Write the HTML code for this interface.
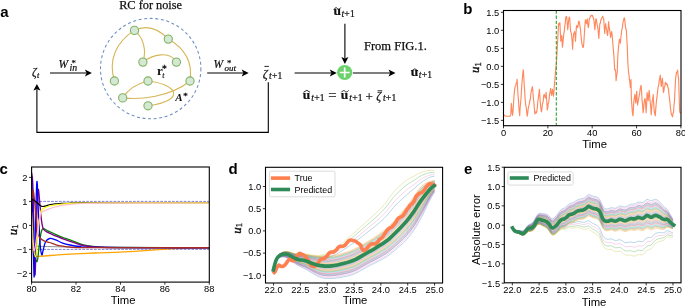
<!DOCTYPE html>
<html><head><meta charset="utf-8"><title>Figure</title>
<style>html,body{margin:0;padding:0;background:#fff;width:685px;height:306px;overflow:hidden}svg{display:block;will-change:transform}</style>
</head><body>
<svg width="685" height="306" viewBox="0 0 685 306"><text x="0.20" y="16.80" font-family='"Liberation Sans", sans-serif' font-size="15" text-anchor="start" font-weight="bold" font-style="normal" fill="#000" >a</text>
<text x="150.60" y="9.05" font-family='"Liberation Serif", serif' font-size="12.3" text-anchor="middle" font-weight="normal" font-style="normal" fill="#111" stroke="#111" stroke-width="0.25">RC for noise</text>
<circle cx="150.7" cy="68.6" r="50.2" fill="none" stroke="#6c8ebf" stroke-width="1.05" stroke-dasharray="3,2.6"/>
<path d="M134.5,30.4 C116,42 108,60 114.4,81" fill="none" stroke="#d6b656" stroke-width="1.1"/>
<path d="M134.5,30.4 C143,37 147,50 142.9,62.1" fill="none" stroke="#d6b656" stroke-width="1.1"/>
<path d="M134.5,30.4 Q152,22 168.3,39.1" fill="none" stroke="#d6b656" stroke-width="1.1"/>
<path d="M168.3,39.1 C184,48 193,62 190,81" fill="none" stroke="#d6b656" stroke-width="1.1"/>
<path d="M142.9,62.1 C152,55 170,50 176.4,62.1" fill="none" stroke="#d6b656" stroke-width="1.1"/>
<path d="M122.7,97.9 Q131,85 148,81" fill="none" stroke="#d6b656" stroke-width="1.1"/>
<path d="M122.7,97.9 C140,100 170,97 190,81" fill="none" stroke="#d6b656" stroke-width="1.1"/>
<path d="M148,81 C176,84 188,100 148,105.8" fill="none" stroke="#d6b656" stroke-width="1.1"/>
<circle cx="134.5" cy="30.4" r="4.1" fill="#d5e8d4" stroke="#82b366" stroke-width="1.1"/>
<circle cx="142.9" cy="62.1" r="4.1" fill="#d5e8d4" stroke="#82b366" stroke-width="1.1"/>
<circle cx="168.3" cy="39.1" r="4.1" fill="#d5e8d4" stroke="#82b366" stroke-width="1.1"/>
<circle cx="176.4" cy="62.1" r="4.1" fill="#d5e8d4" stroke="#82b366" stroke-width="1.1"/>
<circle cx="114.4" cy="81" r="4.1" fill="#d5e8d4" stroke="#82b366" stroke-width="1.1"/>
<circle cx="122.7" cy="97.9" r="4.1" fill="#d5e8d4" stroke="#82b366" stroke-width="1.1"/>
<circle cx="148" cy="81" r="4.1" fill="#d5e8d4" stroke="#82b366" stroke-width="1.1"/>
<circle cx="148" cy="105.8" r="4.1" fill="#d5e8d4" stroke="#82b366" stroke-width="1.1"/>
<circle cx="190" cy="81" r="4.1" fill="#d5e8d4" stroke="#82b366" stroke-width="1.1"/>
<text x="157.1" y="74.6" font-family='"Liberation Serif", serif' font-size="13" font-weight="bold" fill="#111">r</text>
<text x="162.1" y="72.3" font-family='"Liberation Serif", serif' font-size="9.5" fill="#111" stroke="#111" stroke-width="0.3">*</text>
<text x="162.2" y="77.6" font-family='"Liberation Serif", serif' font-size="8" font-style="italic" fill="#111" stroke="#111" stroke-width="0.15">t</text>
<text x="175.3" y="100.5" font-family='"Liberation Serif", serif' font-size="11" font-weight="bold" font-style="italic" fill="#111">A</text>
<text x="183.3" y="99.2" font-family='"Liberation Serif", serif' font-size="9" fill="#111" stroke="#111" stroke-width="0.3">*</text>
<text x="31.9" y="76.2" font-family='"Liberation Serif", serif' font-size="11.6" font-style="italic" font-weight="normal" fill="#111" stroke="#111" stroke-width="0.22" >ζ</text>
<text x="37.0" y="78.2" font-family='"Liberation Serif", serif' font-size="8.2" font-style="italic" font-weight="normal" fill="#111" stroke="#111" stroke-width="0.22" >t</text>
<text x="58.6" y="67.8" font-family='"Liberation Serif", serif' font-size="11.5" font-style="italic" font-weight="normal" fill="#111" stroke="#111" stroke-width="0.22" >W</text>
<text x="71.6" y="66.2" font-family='"Liberation Serif", serif' font-size="8.8" font-style="normal" font-weight="normal" fill="#111" stroke="#111" stroke-width="0.22" >*</text>
<text x="69.6" y="70.9" font-family='"Liberation Serif", serif' font-size="9.8" font-style="italic" font-weight="normal" fill="#111" stroke="#111" stroke-width="0.22" >in</text>
<line x1="50" y1="73.0" x2="86.4" y2="73.0" stroke="#000" stroke-width="1.1"/>
<path d="M91.9,73.0 L84.9,69.45 L86.5,73.0 L84.9,76.55 Z" fill="#000"/>
<text x="213.6" y="67.8" font-family='"Liberation Serif", serif' font-size="11.5" font-style="italic" font-weight="normal" fill="#111" stroke="#111" stroke-width="0.22" >W</text>
<text x="226.9" y="66.4" font-family='"Liberation Serif", serif' font-size="8.8" font-style="normal" font-weight="normal" fill="#111" stroke="#111" stroke-width="0.22" >*</text>
<text x="224.6" y="70.9" font-family='"Liberation Serif", serif' font-size="9.0" font-style="italic" font-weight="normal" fill="#111" stroke="#111" stroke-width="0.22" >out</text>
<line x1="207.2" y1="73.0" x2="243.2" y2="73.0" stroke="#000" stroke-width="1.1"/>
<path d="M248.7,73.0 L241.7,69.45 L243.29999999999998,73.0 L241.7,76.55 Z" fill="#000"/>
<text x="262.8" y="77.6" font-family='"Liberation Serif", serif' font-size="12.2" font-style="italic" font-weight="normal" fill="#111" stroke="#111" stroke-width="0.22" >ζ</text>
<line x1="264.4" y1="66.4" x2="268.9" y2="66.4" stroke="#111" stroke-width="0.9"/>
<text x="269.0" y="78.9" font-family='"Liberation Serif", serif' font-size="9.6" fill="#111" stroke="#111" stroke-width="0.22"><tspan font-style="italic">t</tspan><tspan dx="0.3">+</tspan><tspan dx="0.2">1</tspan></text>
<line x1="294.6" y1="73.0" x2="331.3" y2="73.0" stroke="#000" stroke-width="1.1"/>
<path d="M336.8,73.0 L329.8,69.45 L331.40000000000003,73.0 L329.8,76.55 Z" fill="#000"/>
<text x="333.6" y="15.1" font-family='"Liberation Serif", serif' font-size="13.4" font-style="normal" font-weight="bold" fill="#111" stroke="#111" stroke-width="0.22" >u</text>
<path d="M334.0,9.4 C335.36,7.2 336.72,7.5 337.4,8.45 S339.44,9.700000000000001 340.8,7.5" fill="none" stroke="#111" stroke-width="0.9"/>
<text x="341.4" y="17.1" font-family='"Liberation Serif", serif' font-size="9.6" fill="#111" stroke="#111" stroke-width="0.22"><tspan font-style="italic">t</tspan><tspan dx="0.3">+</tspan><tspan dx="0.2">1</tspan></text>
<line x1="344.9" y1="23.7" x2="344.9" y2="58.4" stroke="#000" stroke-width="1.1"/>
<path d="M344.9,63.9 L341.34999999999997,56.9 L344.9,58.5 L348.45,56.9 Z" fill="#000"/>
<circle cx="344.7" cy="72.5" r="7.6" fill="#6cd26c"/>
<path d="M339.8,72.5 H349.6 M344.7,67.6 V77.4" stroke="#fff" stroke-width="1.7"/>
<line x1="352.9" y1="73.0" x2="390.0" y2="73.0" stroke="#000" stroke-width="1.1"/>
<path d="M395.5,73.0 L388.5,69.45 L390.1,73.0 L388.5,76.55 Z" fill="#000"/>
<text x="364.00" y="50.10" font-family='"Liberation Serif", serif' font-size="12.5" text-anchor="start" font-weight="normal" font-style="normal" fill="#111" stroke="#111" stroke-width="0.25">From FIG.1.</text>
<text x="410.8" y="76.3" font-family='"Liberation Serif", serif' font-size="13.4" font-style="normal" font-weight="bold" fill="#111" stroke="#111" stroke-width="0.22" >u</text>
<path d="M411.4,71.0 L414.79999999999995,68.8 L418.2,71.0" fill="none" stroke="#111" stroke-width="0.9" stroke-linejoin="miter"/>
<text x="418.7" y="78.3" font-family='"Liberation Serif", serif' font-size="9.6" fill="#111" stroke="#111" stroke-width="0.22"><tspan font-style="italic">t</tspan><tspan dx="0.3">+</tspan><tspan dx="0.2">1</tspan></text>
<text x="302.8" y="98.9" font-family='"Liberation Serif", serif' font-size="13.4" font-style="normal" font-weight="bold" fill="#111" stroke="#111" stroke-width="0.22" >u</text>
<path d="M303.5,92.3 L306.8,90.3 L310.1,92.3" fill="none" stroke="#111" stroke-width="0.9" stroke-linejoin="miter"/>
<text x="311.2" y="100.8" font-family='"Liberation Serif", serif' font-size="9.6" fill="#111" stroke="#111" stroke-width="0.22"><tspan font-style="italic">t</tspan><tspan dx="0.3">+</tspan><tspan dx="0.2">1</tspan></text>
<text x="328.2" y="100.4" font-family='"Liberation Serif", serif' font-size="14.8" font-style="normal" font-weight="normal" fill="#111" stroke="#111" stroke-width="0.22" >=</text>
<text x="340.8" y="98.9" font-family='"Liberation Serif", serif' font-size="13.4" font-style="normal" font-weight="bold" fill="#111" stroke="#111" stroke-width="0.22" >u</text>
<path d="M341.5,92.2 C342.92,90.10000000000001 344.34000000000003,90.4 345.05,91.30000000000001 S347.18,92.5 348.6,90.4" fill="none" stroke="#111" stroke-width="0.9"/>
<text x="349.2" y="100.8" font-family='"Liberation Serif", serif' font-size="9.6" fill="#111" stroke="#111" stroke-width="0.22"><tspan font-style="italic">t</tspan><tspan dx="0.3">+</tspan><tspan dx="0.2">1</tspan></text>
<text x="365.5" y="100.6" font-family='"Liberation Serif", serif' font-size="13" font-style="normal" font-weight="normal" fill="#111" stroke="#111" stroke-width="0.22" >+</text>
<text x="376.2" y="99.8" font-family='"Liberation Serif", serif' font-size="12.2" font-style="italic" font-weight="normal" fill="#111" stroke="#111" stroke-width="0.22" >ζ</text>
<line x1="377.6" y1="90.8" x2="382.2" y2="90.8" stroke="#111" stroke-width="0.9"/>
<text x="382.9" y="101.0" font-family='"Liberation Serif", serif' font-size="9.6" fill="#111" stroke="#111" stroke-width="0.22"><tspan font-style="italic">t</tspan><tspan dx="0.3">+</tspan><tspan dx="0.2">1</tspan></text>
<path d="M268.3,82.2 V132.4 H36.9 V89.5" fill="none" stroke="#000" stroke-width="1.1"/>
<path d="M36.9,83.9 L33.4,90.6 L36.9,89.2 L40.4,90.6 Z" fill="#000"/>
<text x="463.20" y="14.20" font-family='"Liberation Sans", sans-serif' font-size="15" text-anchor="start" font-weight="bold" font-style="normal" fill="#000" >b</text>
<defs><clipPath id="cb"><rect x="503.5" y="10.5" width="177.5" height="115.2"/></clipPath></defs>
<g clip-path="url(#cb)">
<polyline points="503.50,114.50 504.00,114.92 504.50,115.35 505.00,115.78 505.50,116.20 506.00,116.20 506.50,116.20 507.00,116.20 507.50,116.20 508.00,116.20 508.50,116.20 509.00,116.20 509.50,116.20 510.00,116.20 510.40,115.30 510.80,114.40 511.30,103.40 511.75,107.78 512.20,112.70 512.60,115.30 513.05,110.73 513.50,103.80 514.05,95.35 514.60,89.60 515.05,86.80 515.50,86.00 515.90,84.81 516.30,82.70 516.70,82.56 517.10,79.20 517.55,87.38 518.00,95.00 518.57,101.53 519.13,110.51 519.70,115.70 520.10,108.22 520.50,104.00 521.00,98.29 521.50,90.00 522.00,82.74 522.50,77.00 522.90,72.17 523.30,69.90 523.75,75.92 524.20,84.70 524.70,91.66 525.20,100.00 525.70,105.19 526.20,106.95 526.70,112.44 527.20,116.20 527.63,113.63 528.07,109.61 528.50,107.00 529.00,105.17 529.50,103.00 529.90,99.93 530.30,100.00 530.73,94.88 531.17,91.87 531.60,89.40 532.00,88.60 532.40,86.50 532.95,92.59 533.50,99.20 533.97,103.43 534.43,109.31 534.90,113.90 535.40,113.01 535.90,111.73 536.40,112.78 536.90,111.00 537.33,107.78 537.77,102.21 538.20,99.20 538.80,94.57 539.40,89.40 539.80,95.29 540.20,101.00 540.80,107.85 541.40,112.00 541.83,109.83 542.27,105.24 542.70,103.00 543.17,101.83 543.63,95.83 544.10,94.30 544.70,95.96 545.30,98.20 545.70,96.23 546.10,92.40 546.70,99.95 547.30,110.00 547.73,107.63 548.17,103.67 548.60,103.00 549.10,99.26 549.60,94.30 550.10,92.30 550.60,88.40 551.10,92.11 551.60,95.30 552.05,93.70 552.50,89.40 553.00,92.18 553.50,96.30 554.00,90.60 554.50,83.50 555.00,77.99 555.50,71.80 556.00,67.19 556.50,62.00 556.90,54.44 557.30,47.20 557.90,36.67 558.50,23.70 558.97,24.97 559.43,22.94 559.90,22.70 560.35,32.59 560.80,41.30 561.30,36.82 561.80,35.50 562.40,47.20 562.87,43.36 563.33,38.60 563.80,33.50 564.30,31.33 564.80,25.60 565.25,22.86 565.70,17.80 566.20,16.52 566.70,16.80 567.20,22.79 567.70,29.60 568.20,25.31 568.70,19.80 569.20,17.08 569.70,17.80 570.15,24.51 570.60,31.50 571.10,32.30 571.60,35.50 572.10,40.97 572.60,49.20 573.10,39.76 573.60,33.50 574.10,33.47 574.60,31.50 575.05,35.07 575.50,41.30 576.00,32.54 576.50,25.60 577.00,26.21 577.50,27.60 578.00,25.99 578.50,21.70 579.00,21.19 579.50,23.70 580.00,26.47 580.50,29.60 580.95,34.68 581.40,39.40 581.90,43.73 582.40,45.30 582.90,47.40 583.40,47.20 583.90,41.66 584.40,33.50 584.90,25.85 585.40,19.80 585.85,21.45 586.30,23.70 586.80,20.74 587.30,18.80 587.80,24.58 588.30,27.60 588.80,24.85 589.30,18.80 590.00,17.80 590.50,16.04 591.00,15.63 591.50,15.34 592.00,15.80 592.45,15.34 592.90,16.80 593.40,18.25 593.90,19.80 594.40,25.02 594.90,29.60 595.40,23.35 595.90,18.80 596.40,19.46 596.90,23.70 597.35,25.36 597.80,27.60 598.30,32.53 598.80,38.40 599.30,31.29 599.80,23.70 600.30,23.38 600.80,19.80 601.30,19.49 601.80,17.80 602.25,17.06 602.70,16.20 603.20,17.92 603.70,18.80 604.20,26.78 604.70,33.50 605.20,26.99 605.70,23.70 606.20,28.09 606.70,29.60 607.15,33.56 607.60,35.50 608.10,29.95 608.60,21.70 609.10,26.72 609.60,29.60 610.10,33.11 610.60,37.40 611.10,34.09 611.60,31.50 612.05,34.02 612.50,39.40 613.00,45.73 613.50,51.10 614.10,58.87 614.70,69.80 615.20,69.34 615.70,72.00 616.10,80.60 616.70,75.25 617.30,72.00 617.60,60.00 618.05,52.38 618.50,47.20 618.95,42.72 619.40,39.40 619.90,39.74 620.40,43.30 620.90,36.60 621.40,33.50 621.90,29.29 622.40,27.60 622.85,23.22 623.30,21.70 623.80,19.26 624.30,17.80 624.80,19.99 625.30,25.60 625.80,28.95 626.30,29.60 626.80,38.81 627.30,47.20 627.80,62.00 628.50,72.00 628.95,74.53 629.40,79.60 629.90,82.66 630.40,87.50 631.00,79.60 631.40,99.20 631.90,105.55 632.40,113.00 633.00,115.90 633.70,103.00 634.30,98.16 634.90,94.30 635.30,97.29 635.70,103.00 636.20,98.46 636.70,91.40 637.15,99.98 637.60,105.00 638.10,101.88 638.60,99.00 639.10,96.44 639.60,94.00 640.10,89.64 640.60,86.83 641.10,85.40 641.60,92.13 642.10,100.00 642.60,105.50 643.10,112.70 643.60,108.83 644.10,102.60 644.60,99.33 645.10,98.50 645.60,103.88 646.10,112.70 646.60,104.22 647.10,92.50 647.65,96.65 648.20,100.60 648.70,94.23 649.20,90.40 649.70,96.66 650.20,102.60 650.70,107.00 651.20,114.80 651.70,107.80 652.20,100.60 652.70,99.27 653.20,94.50 653.70,103.91 654.20,110.70 654.75,113.96 655.30,115.80 655.80,108.34 656.30,102.60 656.80,98.07 657.30,94.50 657.80,89.25 658.30,86.40 658.80,84.33 659.30,80.30 659.80,77.87 660.30,75.20 660.80,81.80 661.30,86.40 661.85,81.74 662.40,78.30 662.90,84.40 663.40,92.50 663.90,90.57 664.40,86.40 664.90,86.10 665.40,82.30 665.90,84.07 666.40,83.30 666.90,84.90 667.40,84.30 667.90,87.50 668.40,88.40 668.95,94.31 669.50,98.50 670.00,102.62 670.50,108.70 671.00,111.81 671.50,114.80 672.00,115.28 672.50,116.80 673.00,113.05 673.50,112.70 674.00,104.95 674.50,100.60 675.00,89.66 675.50,80.30 676.05,75.38 676.60,72.20 677.10,71.84 677.60,70.10 678.10,75.84 678.60,78.30 679.10,94.31 679.60,110.70 680.05,112.92 680.50,112.00" fill="none" stroke="#ff7f50" stroke-opacity="0.92" stroke-width="1.15" stroke-linejoin="round"/>
<line x1="556.3" y1="10.5" x2="556.3" y2="125.7" stroke="#2ca02c" stroke-width="1.1" stroke-dasharray="3.3,1.8"/>
</g>
<line x1="500.90" y1="12.30" x2="503.50" y2="12.30" stroke="#000" stroke-width="0.8"/>
<text x="499.30" y="15.65" font-family='"Liberation Sans", sans-serif' font-size="9.3" text-anchor="end" font-weight="normal" font-style="normal" fill="#000" >1.5</text>
<line x1="500.90" y1="30.32" x2="503.50" y2="30.32" stroke="#000" stroke-width="0.8"/>
<text x="499.30" y="33.67" font-family='"Liberation Sans", sans-serif' font-size="9.3" text-anchor="end" font-weight="normal" font-style="normal" fill="#000" >1.0</text>
<line x1="500.90" y1="48.33" x2="503.50" y2="48.33" stroke="#000" stroke-width="0.8"/>
<text x="499.30" y="51.68" font-family='"Liberation Sans", sans-serif' font-size="9.3" text-anchor="end" font-weight="normal" font-style="normal" fill="#000" >0.5</text>
<line x1="500.90" y1="66.35" x2="503.50" y2="66.35" stroke="#000" stroke-width="0.8"/>
<text x="499.30" y="69.70" font-family='"Liberation Sans", sans-serif' font-size="9.3" text-anchor="end" font-weight="normal" font-style="normal" fill="#000" >0.0</text>
<line x1="500.90" y1="84.36" x2="503.50" y2="84.36" stroke="#000" stroke-width="0.8"/>
<text x="499.30" y="87.71" font-family='"Liberation Sans", sans-serif' font-size="9.3" text-anchor="end" font-weight="normal" font-style="normal" fill="#000" >−0.5</text>
<line x1="500.90" y1="102.38" x2="503.50" y2="102.38" stroke="#000" stroke-width="0.8"/>
<text x="499.30" y="105.73" font-family='"Liberation Sans", sans-serif' font-size="9.3" text-anchor="end" font-weight="normal" font-style="normal" fill="#000" >−1.0</text>
<line x1="500.90" y1="120.39" x2="503.50" y2="120.39" stroke="#000" stroke-width="0.8"/>
<text x="499.30" y="123.74" font-family='"Liberation Sans", sans-serif' font-size="9.3" text-anchor="end" font-weight="normal" font-style="normal" fill="#000" >−1.5</text>
<line x1="503.50" y1="125.70" x2="503.50" y2="128.30" stroke="#000" stroke-width="0.8"/>
<text x="503.50" y="135.70" font-family='"Liberation Sans", sans-serif' font-size="9.3" text-anchor="middle" font-weight="normal" font-style="normal" fill="#000" >0</text>
<line x1="547.85" y1="125.70" x2="547.85" y2="128.30" stroke="#000" stroke-width="0.8"/>
<text x="547.85" y="135.70" font-family='"Liberation Sans", sans-serif' font-size="9.3" text-anchor="middle" font-weight="normal" font-style="normal" fill="#000" >20</text>
<line x1="592.20" y1="125.70" x2="592.20" y2="128.30" stroke="#000" stroke-width="0.8"/>
<text x="592.20" y="135.70" font-family='"Liberation Sans", sans-serif' font-size="9.3" text-anchor="middle" font-weight="normal" font-style="normal" fill="#000" >40</text>
<line x1="636.55" y1="125.70" x2="636.55" y2="128.30" stroke="#000" stroke-width="0.8"/>
<text x="636.55" y="135.70" font-family='"Liberation Sans", sans-serif' font-size="9.3" text-anchor="middle" font-weight="normal" font-style="normal" fill="#000" >60</text>
<line x1="680.90" y1="125.70" x2="680.90" y2="128.30" stroke="#000" stroke-width="0.8"/>
<text x="680.90" y="135.70" font-family='"Liberation Sans", sans-serif' font-size="9.3" text-anchor="middle" font-weight="normal" font-style="normal" fill="#000" >80</text>
<rect x="503.50" y="10.50" width="177.50" height="115.20" fill="none" stroke="#000" stroke-width="1.1"/>
<text x="594.60" y="147.50" font-family='"Liberation Sans", sans-serif' font-size="11.3" text-anchor="middle" font-weight="normal" font-style="normal" fill="#000" >Time</text>
<g transform="translate(479.4,67.65) rotate(-90)"><text x="0" y="0" font-family='"Liberation Serif", serif' font-size="13" font-style="italic" text-anchor="middle" fill="#111" stroke="#111" stroke-width="0.35">u<tspan font-size="8.6" font-style="normal" dy="1.1">1</tspan></text></g>
<text x="-0.60" y="173.60" font-family='"Liberation Sans", sans-serif' font-size="15" text-anchor="start" font-weight="bold" font-style="normal" fill="#000" >c</text>
<defs><clipPath id="cc"><rect x="31.6" y="167.0" width="177.70000000000002" height="115.10000000000002"/></clipPath></defs>
<g clip-path="url(#cc)">
<line x1="31.6" y1="201.4" x2="209.3" y2="201.4" stroke="#6f6fd0" stroke-opacity="0.85" stroke-width="1" stroke-dasharray="2.7,1.2"/>
<line x1="31.6" y1="249.4" x2="209.3" y2="249.4" stroke="#6f6fd0" stroke-opacity="0.85" stroke-width="1" stroke-dasharray="2.7,1.2"/>
<path d="M31.60,246.30 C34.67,246.35 43.60,246.48 50.00,246.60 C56.40,246.72 58.33,246.85 70.00,247.00 C81.67,247.15 96.78,247.40 120.00,247.50 C143.22,247.60 194.42,247.58 209.30,247.60" fill="none" stroke="#808080" stroke-width="0.9" stroke-linejoin="round"/>
<path d="M31.60,192.00 C31.70,197.00 31.98,212.33 32.20,222.00 C32.42,231.67 32.63,244.20 32.90,250.00 C33.17,255.80 33.28,255.70 33.80,256.80 C34.32,257.90 33.30,256.82 36.00,256.60 C38.70,256.38 44.33,255.90 50.00,255.50 C55.67,255.10 62.50,254.62 70.00,254.20 C77.50,253.78 86.67,253.35 95.00,253.00 C103.33,252.65 111.67,252.50 120.00,252.10 C128.33,251.70 137.23,251.10 145.00,250.60 C152.77,250.10 159.93,249.47 166.60,249.10 C173.27,248.73 177.88,248.58 185.00,248.40 C192.12,248.22 205.25,248.07 209.30,248.00" fill="none" stroke="#ffa500" stroke-width="1.3" stroke-linejoin="round"/>
<path d="M31.60,228.00 C32.03,232.00 33.28,246.42 34.20,252.00 C35.12,257.58 36.25,262.67 37.10,261.50 C37.95,260.33 38.63,249.82 39.30,245.00 C39.97,240.18 40.47,235.32 41.10,232.60 C41.73,229.88 41.95,229.00 43.10,228.70 C44.25,228.40 45.83,229.82 48.00,230.80 C50.17,231.78 53.60,233.48 56.10,234.60 C58.60,235.72 60.68,236.63 63.00,237.50 C65.32,238.37 67.23,238.78 70.00,239.80 C72.77,240.82 76.93,242.67 79.60,243.60 C82.27,244.53 82.77,244.85 86.00,245.40 C89.23,245.95 93.33,246.55 99.00,246.90 C104.67,247.25 101.62,247.37 120.00,247.50 C138.38,247.63 194.42,247.67 209.30,247.70" fill="none" stroke="#008000" stroke-width="1.3" stroke-linejoin="round"/>
<path d="M31.60,172.80 C31.77,174.17 32.32,176.47 32.60,181.00 C32.88,185.53 33.05,189.33 33.30,200.00 C33.55,210.67 33.83,232.55 34.10,245.00 C34.37,257.45 34.63,272.53 34.90,274.70 C35.17,276.87 35.38,268.45 35.70,258.00 C36.02,247.55 36.38,223.37 36.80,212.00 C37.22,200.63 37.75,191.80 38.20,189.80 C38.65,187.80 38.98,195.13 39.50,200.00 C40.02,204.87 40.70,214.28 41.30,219.00 C41.90,223.72 42.37,226.27 43.10,228.30 C43.83,230.33 44.55,230.37 45.70,231.20 C46.85,232.03 48.27,232.47 50.00,233.30 C51.73,234.13 53.93,235.28 56.10,236.20 C58.27,237.12 60.68,237.95 63.00,238.80 C65.32,239.65 67.23,240.33 70.00,241.30 C72.77,242.27 76.92,243.82 79.60,244.60 C82.28,245.38 82.83,245.58 86.10,246.00 C89.37,246.42 93.55,246.83 99.20,247.10 C104.85,247.37 101.65,247.50 120.00,247.60 C138.35,247.70 194.42,247.68 209.30,247.70" fill="none" stroke="#800080" stroke-width="1.4" stroke-linejoin="round"/>
<path d="M31.60,176.00 C31.82,183.67 32.48,205.18 32.90,222.00 C33.32,238.82 33.70,275.23 34.10,276.90 C34.50,278.57 34.83,247.87 35.30,232.00 C35.77,216.13 36.38,185.03 36.90,181.70 C37.42,178.37 37.85,201.45 38.40,212.00 C38.95,222.55 39.63,237.87 40.20,245.00 C40.77,252.13 41.30,253.97 41.80,254.80 C42.30,255.63 42.58,252.13 43.20,250.00 C43.82,247.87 44.43,243.92 45.50,242.00 C46.57,240.08 48.02,238.90 49.60,238.50 C51.18,238.10 52.82,238.83 55.00,239.60 C57.18,240.37 60.20,242.20 62.70,243.10 C65.20,244.00 67.18,244.43 70.00,245.00 C72.82,245.57 75.43,246.10 79.60,246.50 C83.77,246.90 73.38,247.20 95.00,247.40 C116.62,247.60 190.25,247.65 209.30,247.70" fill="none" stroke="#0000ff" stroke-width="1.3" stroke-linejoin="round"/>
<path d="M31.60,204.00 C31.83,201.75 32.52,191.17 33.00,190.50 C33.48,189.83 34.02,195.92 34.50,200.00 C34.98,204.08 35.35,209.45 35.90,215.00 C36.45,220.55 37.03,229.38 37.80,233.30 C38.57,237.22 39.47,237.25 40.50,238.50 C41.53,239.75 42.48,240.13 44.00,240.80 C45.52,241.47 47.60,241.83 49.60,242.50 C51.60,243.17 53.82,244.18 56.00,244.80 C58.18,245.42 60.37,245.82 62.70,246.20 C65.03,246.58 65.45,246.87 70.00,247.10 C74.55,247.33 66.78,247.50 90.00,247.60 C113.22,247.70 189.42,247.68 209.30,247.70" fill="none" stroke="#a52a2a" stroke-width="1.3" stroke-linejoin="round"/>
<path d="M31.60,199.20 C32.00,199.38 33.10,199.70 34.00,200.30 C34.90,200.90 36.03,201.98 37.00,202.80 C37.97,203.62 39.00,204.60 39.80,205.20 C40.60,205.80 40.93,206.23 41.80,206.40 C42.67,206.57 43.55,206.52 45.00,206.20 C46.45,205.88 48.83,204.88 50.50,204.50 C52.17,204.12 53.42,204.07 55.00,203.90 C56.58,203.73 57.50,203.65 60.00,203.50 C62.50,203.35 65.83,203.12 70.00,203.00 C74.17,202.88 61.78,202.85 85.00,202.80 C108.22,202.75 188.58,202.72 209.30,202.70" fill="none" stroke="#000000" stroke-width="1.2" stroke-linejoin="round"/>
<path d="M31.60,212.00 C31.90,217.50 32.73,237.50 33.40,245.00 C34.07,252.50 35.00,257.00 35.60,257.00 C36.20,257.00 36.63,248.67 37.00,245.00 C37.37,241.33 37.47,238.83 37.80,235.00 C38.13,231.17 38.50,225.92 39.00,222.00 C39.50,218.08 40.30,213.58 40.80,211.50 C41.30,209.42 41.30,210.15 42.00,209.50 C42.70,208.85 43.58,208.22 45.00,207.60 C46.42,206.98 48.00,206.37 50.50,205.80 C53.00,205.23 56.75,204.58 60.00,204.20 C63.25,203.82 65.83,203.70 70.00,203.50 C74.17,203.30 61.78,203.12 85.00,203.00 C108.22,202.88 188.58,202.83 209.30,202.80" fill="none" stroke="#ffff00" stroke-width="1.15" stroke-linejoin="round"/>
<path d="M31.60,232.00 C31.87,234.33 32.70,243.00 33.20,246.00 C33.70,249.00 34.03,251.33 34.60,250.00 C35.17,248.67 35.90,242.67 36.60,238.00 C37.30,233.33 38.10,226.10 38.80,222.00 C39.50,217.90 39.77,215.30 40.80,213.40 C41.83,211.50 43.47,211.40 45.00,210.60 C46.53,209.80 48.35,209.20 50.00,208.60 C51.65,208.00 52.90,207.53 54.90,207.00 C56.90,206.47 59.52,205.83 62.00,205.40 C64.48,204.97 66.02,204.72 69.80,204.40 C73.58,204.08 78.00,203.72 84.70,203.50 C91.40,203.28 89.23,203.18 110.00,203.10 C130.77,203.02 192.75,203.02 209.30,203.00" fill="none" stroke="#ffc0cb" stroke-width="1.2" stroke-linejoin="round"/>
</g>
<line x1="29.00" y1="177.40" x2="31.60" y2="177.40" stroke="#000" stroke-width="0.8"/>
<text x="27.40" y="180.75" font-family='"Liberation Sans", sans-serif' font-size="9.3" text-anchor="end" font-weight="normal" font-style="normal" fill="#000" >2</text>
<line x1="29.00" y1="201.40" x2="31.60" y2="201.40" stroke="#000" stroke-width="0.8"/>
<text x="27.40" y="204.75" font-family='"Liberation Sans", sans-serif' font-size="9.3" text-anchor="end" font-weight="normal" font-style="normal" fill="#000" >1</text>
<line x1="29.00" y1="225.40" x2="31.60" y2="225.40" stroke="#000" stroke-width="0.8"/>
<text x="27.40" y="228.75" font-family='"Liberation Sans", sans-serif' font-size="9.3" text-anchor="end" font-weight="normal" font-style="normal" fill="#000" >0</text>
<line x1="29.00" y1="249.40" x2="31.60" y2="249.40" stroke="#000" stroke-width="0.8"/>
<text x="27.40" y="252.75" font-family='"Liberation Sans", sans-serif' font-size="9.3" text-anchor="end" font-weight="normal" font-style="normal" fill="#000" >−1</text>
<line x1="29.00" y1="273.40" x2="31.60" y2="273.40" stroke="#000" stroke-width="0.8"/>
<text x="27.40" y="276.75" font-family='"Liberation Sans", sans-serif' font-size="9.3" text-anchor="end" font-weight="normal" font-style="normal" fill="#000" >−2</text>
<line x1="31.60" y1="282.10" x2="31.60" y2="284.70" stroke="#000" stroke-width="0.8"/>
<text x="31.60" y="292.30" font-family='"Liberation Sans", sans-serif' font-size="9.3" text-anchor="middle" font-weight="normal" font-style="normal" fill="#000" >80</text>
<line x1="76.02" y1="282.10" x2="76.02" y2="284.70" stroke="#000" stroke-width="0.8"/>
<text x="76.02" y="292.30" font-family='"Liberation Sans", sans-serif' font-size="9.3" text-anchor="middle" font-weight="normal" font-style="normal" fill="#000" >82</text>
<line x1="120.44" y1="282.10" x2="120.44" y2="284.70" stroke="#000" stroke-width="0.8"/>
<text x="120.44" y="292.30" font-family='"Liberation Sans", sans-serif' font-size="9.3" text-anchor="middle" font-weight="normal" font-style="normal" fill="#000" >84</text>
<line x1="164.86" y1="282.10" x2="164.86" y2="284.70" stroke="#000" stroke-width="0.8"/>
<text x="164.86" y="292.30" font-family='"Liberation Sans", sans-serif' font-size="9.3" text-anchor="middle" font-weight="normal" font-style="normal" fill="#000" >86</text>
<line x1="209.28" y1="282.10" x2="209.28" y2="284.70" stroke="#000" stroke-width="0.8"/>
<text x="209.28" y="292.30" font-family='"Liberation Sans", sans-serif' font-size="9.3" text-anchor="middle" font-weight="normal" font-style="normal" fill="#000" >88</text>
<rect x="31.60" y="167.00" width="177.70" height="115.10" fill="none" stroke="#000" stroke-width="1.1"/>
<text x="123.20" y="303.60" font-family='"Liberation Sans", sans-serif' font-size="11.3" text-anchor="middle" font-weight="normal" font-style="normal" fill="#000" >Time</text>
<g transform="translate(16.8,229.85) rotate(-90)"><text x="0" y="0" font-family='"Liberation Serif", serif' font-size="13" font-style="italic" text-anchor="middle" fill="#111" stroke="#111" stroke-width="0.35">u<tspan font-size="8.6" font-style="normal" dy="1.1">1</tspan></text></g>
<text x="228.40" y="174.00" font-family='"Liberation Sans", sans-serif' font-size="15" text-anchor="start" font-weight="bold" font-style="normal" fill="#000" >d</text>
<defs><clipPath id="cd"><rect x="265.5" y="167.3" width="177.10000000000002" height="115.69999999999999"/></clipPath></defs>
<g clip-path="url(#cd)">
<path d="M273.55,268.37 C274.22,266.38 276.23,259.05 277.57,256.43 C278.92,253.82 280.26,253.53 281.60,252.70 C282.94,251.88 284.28,251.59 285.62,251.47 C286.97,251.34 288.31,251.65 289.65,251.95 C290.99,252.25 292.33,252.90 293.67,253.25 C295.02,253.60 296.36,253.89 297.70,254.03 C299.04,254.17 300.38,254.07 301.72,254.07 C303.07,254.07 304.41,253.90 305.75,254.01 C307.09,254.12 308.43,254.51 309.77,254.72 C311.12,254.92 312.46,255.11 313.80,255.24 C315.14,255.37 316.48,255.56 317.82,255.51 C319.17,255.47 320.51,255.28 321.85,254.98 C323.19,254.68 324.53,254.28 325.88,253.73 C327.22,253.18 328.56,252.40 329.90,251.66 C331.24,250.92 332.58,250.14 333.92,249.30 C335.27,248.45 336.61,247.59 337.95,246.61 C339.29,245.63 340.63,244.54 341.97,243.41 C343.32,242.29 344.66,241.05 346.00,239.86 C347.34,238.68 348.68,237.47 350.02,236.31 C351.37,235.15 352.71,234.05 354.05,232.89 C355.39,231.73 356.73,230.55 358.07,229.34 C359.42,228.13 360.76,226.89 362.10,225.66 C363.44,224.43 364.78,223.18 366.12,221.96 C367.47,220.75 368.81,219.54 370.15,218.35 C371.49,217.16 372.83,216.04 374.17,214.81 C375.52,213.59 376.86,212.32 378.20,210.98 C379.54,209.64 380.88,208.26 382.22,206.78 C383.57,205.30 384.91,203.82 386.25,202.11 C387.59,200.39 388.93,198.30 390.27,196.49 C391.62,194.68 392.96,192.84 394.30,191.26 C395.64,189.68 396.98,188.31 398.32,187.01 C399.67,185.70 401.01,184.53 402.35,183.42 C403.69,182.30 405.03,181.26 406.38,180.32 C407.72,179.39 409.06,178.52 410.40,177.79 C411.74,177.07 413.08,176.66 414.42,175.95 C415.77,175.25 417.11,174.24 418.45,173.56 C419.79,172.88 421.13,172.34 422.47,171.89 C423.82,171.43 425.16,171.08 426.50,170.82 C427.84,170.56 429.18,170.35 430.52,170.34 C431.87,170.32 433.88,170.67 434.55,170.73" fill="none" stroke="#bcbd22" stroke-opacity="0.3" stroke-width="1"/>
<path d="M273.55,268.46 C274.22,266.48 276.23,259.18 277.57,256.59 C278.92,254.01 280.26,253.75 281.60,252.95 C282.94,252.15 284.28,251.89 285.62,251.79 C286.97,251.70 288.31,252.04 289.65,252.37 C290.99,252.70 292.33,253.39 293.67,253.77 C295.02,254.15 296.36,254.48 297.70,254.65 C299.04,254.82 300.38,254.76 301.72,254.79 C303.07,254.83 304.41,254.70 305.75,254.84 C307.09,254.98 308.43,255.41 309.77,255.65 C311.12,255.89 312.46,256.11 313.80,256.27 C315.14,256.44 316.48,256.66 317.82,256.66 C319.17,256.66 320.51,256.51 321.85,256.27 C323.19,256.03 324.53,255.70 325.88,255.21 C327.22,254.73 328.56,254.04 329.90,253.38 C331.24,252.72 332.58,252.01 333.92,251.25 C335.27,250.49 336.61,249.70 337.95,248.81 C339.29,247.91 340.63,246.91 341.97,245.88 C343.32,244.85 344.66,243.71 346.00,242.63 C347.34,241.54 348.68,240.43 350.02,239.35 C351.37,238.27 352.71,237.26 354.05,236.17 C355.39,235.07 356.73,233.94 358.07,232.79 C359.42,231.64 360.76,230.45 362.10,229.28 C363.44,228.10 364.78,226.91 366.12,225.74 C367.47,224.58 368.81,223.43 370.15,222.29 C371.49,221.15 372.83,220.08 374.17,218.91 C375.52,217.73 376.86,216.51 378.20,215.23 C379.54,213.95 380.88,212.64 382.22,211.23 C383.57,209.82 384.91,208.42 386.25,206.79 C387.59,205.16 388.93,203.18 390.27,201.45 C391.62,199.71 392.96,197.93 394.30,196.38 C395.64,194.83 396.98,193.47 398.32,192.16 C399.67,190.85 401.01,189.65 402.35,188.50 C403.69,187.34 405.03,186.26 406.38,185.24 C407.72,184.23 409.06,183.26 410.40,182.41 C411.74,181.56 413.08,180.99 414.42,180.13 C415.77,179.27 417.11,178.09 418.45,177.26 C419.79,176.42 421.13,175.72 422.47,175.10 C423.82,174.48 425.16,173.97 426.50,173.54 C427.84,173.12 429.18,172.74 430.52,172.57 C431.87,172.40 433.88,172.53 434.55,172.52" fill="none" stroke="#2ca02c" stroke-opacity="0.3" stroke-width="1"/>
<path d="M273.55,268.55 C274.22,266.58 276.23,259.31 277.57,256.75 C278.92,254.19 280.26,253.96 281.60,253.19 C282.94,252.42 284.28,252.19 285.62,252.12 C286.97,252.06 288.31,252.43 289.65,252.79 C290.99,253.15 292.33,253.87 293.67,254.29 C295.02,254.70 296.36,255.07 297.70,255.27 C299.04,255.48 300.38,255.45 301.72,255.52 C303.07,255.59 304.41,255.49 305.75,255.67 C307.09,255.84 308.43,256.31 309.77,256.58 C311.12,256.85 312.46,257.11 313.80,257.31 C315.14,257.51 316.48,257.76 317.82,257.80 C319.17,257.84 320.51,257.74 321.85,257.56 C323.19,257.37 324.53,257.11 325.88,256.70 C327.22,256.29 328.56,255.68 329.90,255.10 C331.24,254.51 332.58,253.88 333.92,253.20 C335.27,252.52 336.61,251.81 337.95,251.00 C339.29,250.19 340.63,249.28 341.97,248.34 C343.32,247.41 344.66,246.38 346.00,245.39 C347.34,244.40 348.68,243.39 350.02,242.39 C351.37,241.40 352.71,240.46 354.05,239.44 C355.39,238.41 356.73,237.34 358.07,236.24 C359.42,235.15 360.76,234.01 362.10,232.89 C363.44,231.77 364.78,230.63 366.12,229.52 C367.47,228.41 368.81,227.31 370.15,226.23 C371.49,225.14 372.83,224.13 374.17,223.00 C375.52,221.88 376.86,220.71 378.20,219.49 C379.54,218.27 380.88,217.01 382.22,215.68 C383.57,214.34 384.91,213.03 386.25,211.48 C387.59,209.93 388.93,208.06 390.27,206.40 C391.62,204.74 392.96,203.01 394.30,201.50 C395.64,199.98 396.98,198.63 398.32,197.31 C399.67,195.99 401.01,194.77 402.35,193.58 C403.69,192.39 405.03,191.25 406.38,190.16 C407.72,189.07 409.06,188.00 410.40,187.02 C411.74,186.05 413.08,185.31 414.42,184.30 C415.77,183.29 417.11,181.95 418.45,180.95 C419.79,179.95 421.13,179.09 422.47,178.31 C423.82,177.53 425.16,176.85 426.50,176.27 C427.84,175.68 429.18,175.13 430.52,174.81 C431.87,174.48 433.88,174.38 434.55,174.30" fill="none" stroke="#e377c2" stroke-opacity="0.3" stroke-width="1"/>
<path d="M273.55,268.64 C274.22,266.69 276.23,259.44 277.57,256.91 C278.92,254.37 280.26,254.17 281.60,253.43 C282.94,252.69 284.28,252.49 285.62,252.45 C286.97,252.41 288.31,252.82 289.65,253.21 C290.99,253.60 292.33,254.36 293.67,254.81 C295.02,255.25 296.36,255.65 297.70,255.89 C299.04,256.13 300.38,256.14 301.72,256.24 C303.07,256.34 304.41,256.28 305.75,256.50 C307.09,256.71 308.43,257.20 309.77,257.51 C311.12,257.82 312.46,258.11 313.80,258.35 C315.14,258.58 316.48,258.86 317.82,258.94 C319.17,259.03 320.51,258.97 321.85,258.85 C323.19,258.72 324.53,258.52 325.88,258.18 C327.22,257.84 328.56,257.32 329.90,256.81 C331.24,256.31 332.58,255.76 333.92,255.15 C335.27,254.55 336.61,253.93 337.95,253.20 C339.29,252.48 340.63,251.65 341.97,250.81 C343.32,249.97 344.66,249.05 346.00,248.15 C347.34,247.25 348.68,246.34 350.02,245.44 C351.37,244.53 352.71,243.67 354.05,242.71 C355.39,241.75 356.73,240.73 358.07,239.70 C359.42,238.66 360.76,237.58 362.10,236.51 C363.44,235.44 364.78,234.36 366.12,233.30 C367.47,232.24 368.81,231.20 370.15,230.16 C371.49,229.13 372.83,228.17 374.17,227.10 C375.52,226.03 376.86,224.90 378.20,223.74 C379.54,222.58 380.88,221.39 382.22,220.13 C383.57,218.86 384.91,217.63 386.25,216.17 C387.59,214.71 388.93,212.95 390.27,211.36 C391.62,209.76 392.96,208.10 394.30,206.62 C395.64,205.14 396.98,203.79 398.32,202.47 C399.67,201.14 401.01,199.89 402.35,198.66 C403.69,197.43 405.03,196.25 406.38,195.08 C407.72,193.91 409.06,192.74 410.40,191.64 C411.74,190.54 413.08,189.64 414.42,188.48 C415.77,187.31 417.11,185.81 418.45,184.65 C419.79,183.49 421.13,182.47 422.47,181.52 C423.82,180.58 425.16,179.74 426.50,178.99 C427.84,178.24 429.18,177.53 430.52,177.04 C431.87,176.56 433.88,176.24 434.55,176.08" fill="none" stroke="#1f77b4" stroke-opacity="0.3" stroke-width="1"/>
<path d="M273.55,268.48 C274.22,266.50 276.23,259.18 277.57,256.58 C278.92,253.98 280.26,253.70 281.60,252.88 C282.94,252.06 284.28,251.78 285.62,251.67 C286.97,251.55 288.31,251.88 289.65,252.19 C290.99,252.50 292.33,253.18 293.67,253.54 C295.02,253.90 296.36,254.22 297.70,254.37 C299.04,254.53 300.38,254.46 301.72,254.47 C303.07,254.49 304.41,254.34 305.75,254.47 C307.09,254.60 308.43,255.01 309.77,255.23 C311.12,255.46 312.46,255.65 313.80,255.81 C315.14,255.98 316.48,256.12 317.82,256.20 C319.17,256.28 320.51,256.27 321.85,256.30 C323.19,256.32 324.53,256.37 325.88,256.33 C327.22,256.29 328.56,256.20 329.90,256.07 C331.24,255.94 332.58,255.78 333.92,255.56 C335.27,255.34 336.61,255.08 337.95,254.75 C339.29,254.42 340.63,254.01 341.97,253.60 C343.32,253.19 344.66,252.75 346.00,252.29 C347.34,251.84 348.68,251.37 350.02,250.86 C351.37,250.34 352.71,249.83 354.05,249.20 C355.39,248.57 356.73,247.81 358.07,247.07 C359.42,246.33 360.76,245.53 362.10,244.75 C363.44,243.98 364.78,243.19 366.12,242.40 C367.47,241.61 368.81,240.81 370.15,240.00 C371.49,239.19 372.83,238.42 374.17,237.53 C375.52,236.65 376.86,235.65 378.20,234.69 C379.54,233.73 380.88,232.76 382.22,231.77 C383.57,230.77 384.91,229.87 386.25,228.74 C387.59,227.61 388.93,226.32 390.27,224.98 C391.62,223.65 392.96,222.16 394.30,220.72 C395.64,219.27 396.98,217.81 398.32,216.30 C399.67,214.79 401.01,213.23 402.35,211.65 C403.69,210.07 405.03,208.51 406.38,206.83 C407.72,205.15 409.06,203.37 410.40,201.57 C411.74,199.76 413.08,197.95 414.42,196.01 C415.77,194.07 417.11,191.66 418.45,189.92 C419.79,188.18 421.13,186.74 422.47,185.56 C423.82,184.38 425.16,183.55 426.50,182.84 C427.84,182.13 429.18,181.68 430.52,181.27 C431.87,180.87 433.88,180.55 434.55,180.40" fill="none" stroke="#ff7f0e" stroke-opacity="0.3" stroke-width="1"/>
<path d="M273.55,268.53 C274.22,266.55 276.23,259.25 277.57,256.66 C278.92,254.07 280.26,253.81 281.60,253.00 C282.94,252.20 284.28,251.94 285.62,251.84 C286.97,251.74 288.31,252.08 289.65,252.41 C290.99,252.74 292.33,253.44 293.67,253.82 C295.02,254.20 296.36,254.53 297.70,254.71 C299.04,254.88 300.38,254.83 301.72,254.86 C303.07,254.90 304.41,254.77 305.75,254.91 C307.09,255.06 308.43,255.49 309.77,255.73 C311.12,255.98 312.46,256.19 313.80,256.37 C315.14,256.55 316.48,256.71 317.82,256.81 C319.17,256.90 320.51,256.91 321.85,256.95 C323.19,256.98 324.53,257.04 325.88,257.00 C327.22,256.97 328.56,256.88 329.90,256.75 C331.24,256.63 332.58,256.46 333.92,256.25 C335.27,256.03 336.61,255.77 337.95,255.45 C339.29,255.13 340.63,254.72 341.97,254.32 C343.32,253.91 344.66,253.48 346.00,253.02 C347.34,252.57 348.68,252.11 350.02,251.60 C351.37,251.09 352.71,250.58 354.05,249.96 C355.39,249.33 356.73,248.57 358.07,247.83 C359.42,247.09 360.76,246.29 362.10,245.52 C363.44,244.74 364.78,243.95 366.12,243.16 C367.47,242.37 368.81,241.57 370.15,240.77 C371.49,239.96 372.83,239.20 374.17,238.32 C375.52,237.44 376.86,236.45 378.20,235.50 C379.54,234.55 380.88,233.58 382.22,232.60 C383.57,231.62 384.91,230.72 386.25,229.60 C387.59,228.47 388.93,227.19 390.27,225.87 C391.62,224.54 392.96,223.06 394.30,221.63 C395.64,220.19 396.98,218.74 398.32,217.24 C399.67,215.74 401.01,214.19 402.35,212.62 C403.69,211.05 405.03,209.50 406.38,207.83 C407.72,206.15 409.06,204.38 410.40,202.58 C411.74,200.78 413.08,198.97 414.42,197.03 C415.77,195.08 417.11,192.68 418.45,190.91 C419.79,189.15 421.13,187.68 422.47,186.46 C423.82,185.24 425.16,184.35 426.50,183.58 C427.84,182.80 429.18,182.27 430.52,181.81 C431.87,181.34 433.88,180.93 434.55,180.76" fill="none" stroke="#bcbd22" stroke-opacity="0.3" stroke-width="1"/>
<path d="M273.55,268.57 C274.22,266.60 276.23,259.31 277.57,256.74 C278.92,254.17 280.26,253.92 281.60,253.13 C282.94,252.34 284.28,252.10 285.62,252.02 C286.97,251.94 288.31,252.29 289.65,252.64 C290.99,252.99 292.33,253.70 293.67,254.10 C295.02,254.50 296.36,254.85 297.70,255.04 C299.04,255.23 300.38,255.20 301.72,255.25 C303.07,255.30 304.41,255.20 305.75,255.36 C307.09,255.52 308.43,255.97 309.77,256.23 C311.12,256.49 312.46,256.73 313.80,256.93 C315.14,257.12 316.48,257.31 317.82,257.42 C319.17,257.53 320.51,257.55 321.85,257.60 C323.19,257.64 324.53,257.70 325.88,257.68 C327.22,257.65 328.56,257.56 329.90,257.43 C331.24,257.31 332.58,257.15 333.92,256.94 C335.27,256.72 336.61,256.47 337.95,256.15 C339.29,255.83 340.63,255.43 341.97,255.03 C343.32,254.63 344.66,254.20 346.00,253.75 C347.34,253.31 348.68,252.85 350.02,252.35 C351.37,251.84 352.71,251.34 354.05,250.71 C355.39,250.09 356.73,249.33 358.07,248.59 C359.42,247.85 360.76,247.06 362.10,246.28 C363.44,245.50 364.78,244.71 366.12,243.92 C367.47,243.13 368.81,242.34 370.15,241.54 C371.49,240.73 372.83,239.98 374.17,239.11 C375.52,238.23 376.86,237.26 378.20,236.31 C379.54,235.37 380.88,234.41 382.22,233.43 C383.57,232.46 384.91,231.57 386.25,230.45 C387.59,229.34 388.93,228.07 390.27,226.75 C391.62,225.43 392.96,223.97 394.30,222.54 C395.64,221.11 396.98,219.68 398.32,218.18 C399.67,216.69 401.01,215.15 402.35,213.59 C403.69,212.03 405.03,210.49 406.38,208.83 C407.72,207.16 409.06,205.39 410.40,203.59 C411.74,201.79 413.08,199.99 414.42,198.04 C415.77,196.09 417.11,193.69 418.45,191.91 C419.79,190.13 421.13,188.63 422.47,187.36 C423.82,186.10 425.16,185.15 426.50,184.31 C427.84,183.47 429.18,182.87 430.52,182.34 C431.87,181.80 433.88,181.32 434.55,181.11" fill="none" stroke="#8c564b" stroke-opacity="0.3" stroke-width="1"/>
<path d="M273.55,268.62 C274.22,266.65 276.23,259.38 277.57,256.82 C278.92,254.26 280.26,254.03 281.60,253.26 C282.94,252.49 284.28,252.26 285.62,252.19 C286.97,252.13 288.31,252.50 289.65,252.86 C290.99,253.23 292.33,253.96 293.67,254.37 C295.02,254.79 296.36,255.16 297.70,255.37 C299.04,255.59 300.38,255.57 301.72,255.64 C303.07,255.71 304.41,255.62 305.75,255.80 C307.09,255.99 308.43,256.45 309.77,256.73 C311.12,257.01 312.46,257.27 313.80,257.48 C315.14,257.70 316.48,257.90 317.82,258.03 C319.17,258.16 320.51,258.19 321.85,258.25 C323.19,258.30 324.53,258.37 325.88,258.35 C327.22,258.33 328.56,258.24 329.90,258.12 C331.24,258.00 332.58,257.84 333.92,257.63 C335.27,257.42 336.61,257.17 337.95,256.85 C339.29,256.54 340.63,256.14 341.97,255.75 C343.32,255.35 344.66,254.93 346.00,254.48 C347.34,254.04 348.68,253.60 350.02,253.09 C351.37,252.59 352.71,252.09 354.05,251.47 C355.39,250.84 356.73,250.09 358.07,249.35 C359.42,248.61 360.76,247.82 362.10,247.04 C363.44,246.26 364.78,245.47 366.12,244.69 C367.47,243.90 368.81,243.11 370.15,242.31 C371.49,241.51 372.83,240.76 374.17,239.89 C375.52,239.03 376.86,238.06 378.20,237.12 C379.54,236.18 380.88,235.24 382.22,234.27 C383.57,233.30 384.91,232.42 386.25,231.31 C387.59,230.20 388.93,228.94 390.27,227.63 C391.62,226.32 392.96,224.87 394.30,223.45 C395.64,222.03 396.98,220.61 398.32,219.13 C399.67,217.65 401.01,216.12 402.35,214.57 C403.69,213.02 405.03,211.49 406.38,209.82 C407.72,208.16 409.06,206.40 410.40,204.60 C411.74,202.81 413.08,201.01 414.42,199.06 C415.77,197.11 417.11,194.70 418.45,192.91 C419.79,191.11 421.13,189.58 422.47,188.27 C423.82,186.96 425.16,185.95 426.50,185.05 C427.84,184.15 429.18,183.46 430.52,182.87 C431.87,182.27 433.88,181.70 434.55,181.47" fill="none" stroke="#2ca02c" stroke-opacity="0.3" stroke-width="1"/>
<path d="M273.55,268.66 C274.22,266.70 276.23,259.45 277.57,256.90 C278.92,254.35 280.26,254.14 281.60,253.38 C282.94,252.63 284.28,252.42 285.62,252.37 C286.97,252.32 288.31,252.71 289.65,253.09 C290.99,253.47 292.33,254.22 293.67,254.65 C295.02,255.09 296.36,255.48 297.70,255.71 C299.04,255.94 300.38,255.94 301.72,256.03 C303.07,256.12 304.41,256.05 305.75,256.25 C307.09,256.45 308.43,256.94 309.77,257.23 C311.12,257.53 312.46,257.80 313.80,258.04 C315.14,258.27 316.48,258.49 317.82,258.64 C319.17,258.78 320.51,258.83 321.85,258.90 C323.19,258.96 324.53,259.04 325.88,259.02 C327.22,259.01 328.56,258.92 329.90,258.80 C331.24,258.68 332.58,258.53 333.92,258.32 C335.27,258.11 336.61,257.86 337.95,257.55 C339.29,257.25 340.63,256.85 341.97,256.46 C343.32,256.07 344.66,255.65 346.00,255.21 C347.34,254.78 348.68,254.34 350.02,253.84 C351.37,253.34 352.71,252.85 354.05,252.22 C355.39,251.60 356.73,250.85 358.07,250.11 C359.42,249.38 360.76,248.58 362.10,247.80 C363.44,247.02 364.78,246.24 366.12,245.45 C367.47,244.66 368.81,243.87 370.15,243.08 C371.49,242.28 372.83,241.54 374.17,240.68 C375.52,239.82 376.86,238.86 378.20,237.93 C379.54,237.00 380.88,236.06 382.22,235.10 C383.57,234.14 384.91,233.26 386.25,232.17 C387.59,231.07 388.93,229.81 390.27,228.51 C391.62,227.21 392.96,225.77 394.30,224.36 C395.64,222.95 396.98,221.54 398.32,220.07 C399.67,218.60 401.01,217.08 402.35,215.54 C403.69,214.00 405.03,212.48 406.38,210.82 C407.72,209.17 409.06,207.41 410.40,205.62 C411.74,203.83 413.08,202.03 414.42,200.07 C415.77,198.12 417.11,195.72 418.45,193.90 C419.79,192.08 421.13,190.52 422.47,189.17 C423.82,187.82 425.16,186.75 426.50,185.79 C427.84,184.82 429.18,184.06 430.52,183.40 C431.87,182.74 433.88,182.09 434.55,181.83" fill="none" stroke="#17becf" stroke-opacity="0.3" stroke-width="1"/>
<path d="M273.55,268.71 C274.22,266.75 276.23,259.51 277.57,256.98 C278.92,254.45 280.26,254.25 281.60,253.51 C282.94,252.77 284.28,252.57 285.62,252.54 C286.97,252.51 288.31,252.92 289.65,253.31 C290.99,253.71 292.33,254.48 293.67,254.93 C295.02,255.38 296.36,255.79 297.70,256.04 C299.04,256.29 300.38,256.31 301.72,256.42 C303.07,256.53 304.41,256.47 305.75,256.69 C307.09,256.91 308.43,257.42 309.77,257.73 C311.12,258.05 312.46,258.34 313.80,258.59 C315.14,258.84 316.48,259.09 317.82,259.25 C319.17,259.41 320.51,259.47 321.85,259.55 C323.19,259.62 324.53,259.71 325.88,259.70 C327.22,259.69 328.56,259.60 329.90,259.48 C331.24,259.37 332.58,259.21 333.92,259.01 C335.27,258.80 336.61,258.56 337.95,258.26 C339.29,257.95 340.63,257.56 341.97,257.17 C343.32,256.79 344.66,256.38 346.00,255.94 C347.34,255.51 348.68,255.08 350.02,254.58 C351.37,254.09 352.71,253.60 354.05,252.98 C355.39,252.36 356.73,251.61 358.07,250.88 C359.42,250.14 360.76,249.34 362.10,248.56 C363.44,247.79 364.78,247.00 366.12,246.21 C367.47,245.42 368.81,244.64 370.15,243.85 C371.49,243.06 372.83,242.32 374.17,241.46 C375.52,240.61 376.86,239.66 378.20,238.74 C379.54,237.82 380.88,236.89 382.22,235.93 C383.57,234.98 384.91,234.11 386.25,233.02 C387.59,231.93 388.93,230.69 390.27,229.40 C391.62,228.10 392.96,226.67 394.30,225.27 C395.64,223.87 396.98,222.47 398.32,221.01 C399.67,219.55 401.01,218.05 402.35,216.52 C403.69,214.98 405.03,213.47 406.38,211.82 C407.72,210.18 409.06,208.42 410.40,206.63 C411.74,204.84 413.08,203.04 414.42,201.09 C415.77,199.13 417.11,196.73 418.45,194.90 C419.79,193.06 421.13,191.47 422.47,190.07 C423.82,188.68 425.16,187.55 426.50,186.52 C427.84,185.50 429.18,184.65 430.52,183.93 C431.87,183.20 433.88,182.48 434.55,182.19" fill="none" stroke="#e377c2" stroke-opacity="0.3" stroke-width="1"/>
<path d="M273.55,268.75 C274.22,266.80 276.23,259.58 277.57,257.06 C278.92,254.54 280.26,254.36 281.60,253.64 C282.94,252.91 284.28,252.73 285.62,252.72 C286.97,252.70 288.31,253.12 289.65,253.54 C290.99,253.95 292.33,254.74 293.67,255.21 C295.02,255.68 296.36,256.11 297.70,256.37 C299.04,256.64 300.38,256.68 301.72,256.81 C303.07,256.93 304.41,256.90 305.75,257.14 C307.09,257.37 308.43,257.90 309.77,258.23 C311.12,258.57 312.46,258.88 313.80,259.15 C315.14,259.42 316.48,259.68 317.82,259.86 C319.17,260.03 320.51,260.11 321.85,260.20 C323.19,260.28 324.53,260.38 325.88,260.37 C327.22,260.36 328.56,260.28 329.90,260.16 C331.24,260.05 332.58,259.90 333.92,259.70 C335.27,259.50 336.61,259.26 337.95,258.96 C339.29,258.66 340.63,258.27 341.97,257.89 C343.32,257.51 344.66,257.10 346.00,256.67 C347.34,256.25 348.68,255.82 350.02,255.33 C351.37,254.84 352.71,254.35 354.05,253.74 C355.39,253.12 356.73,252.37 358.07,251.64 C359.42,250.90 360.76,250.10 362.10,249.33 C363.44,248.55 364.78,247.76 366.12,246.97 C367.47,246.19 368.81,245.41 370.15,244.62 C371.49,243.83 372.83,243.10 374.17,242.25 C375.52,241.41 376.86,240.46 378.20,239.55 C379.54,238.63 380.88,237.71 382.22,236.77 C383.57,235.82 384.91,234.96 386.25,233.88 C387.59,232.80 388.93,231.56 390.27,230.28 C391.62,228.99 392.96,227.57 394.30,226.18 C395.64,224.79 396.98,223.40 398.32,221.95 C399.67,220.50 401.01,219.01 402.35,217.49 C403.69,215.97 405.03,214.46 406.38,212.82 C407.72,211.18 409.06,209.43 410.40,207.64 C411.74,205.86 413.08,204.06 414.42,202.11 C415.77,200.15 417.11,197.75 418.45,195.89 C419.79,194.04 421.13,192.42 422.47,190.98 C423.82,189.54 425.16,188.34 426.50,187.26 C427.84,186.17 429.18,185.24 430.52,184.46 C431.87,183.67 433.88,182.86 434.55,182.54" fill="none" stroke="#d62728" stroke-opacity="0.3" stroke-width="1"/>
<path d="M273.55,268.80 C274.22,266.85 276.23,259.65 277.57,257.14 C278.92,254.64 280.26,254.47 281.60,253.77 C282.94,253.06 284.28,252.89 285.62,252.89 C286.97,252.89 288.31,253.33 289.65,253.76 C290.99,254.20 292.33,255.00 293.67,255.49 C295.02,255.98 296.36,256.42 297.70,256.71 C299.04,256.99 300.38,257.05 301.72,257.19 C303.07,257.34 304.41,257.32 305.75,257.58 C307.09,257.84 308.43,258.38 309.77,258.73 C311.12,259.09 312.46,259.41 313.80,259.70 C315.14,259.99 316.48,260.28 317.82,260.47 C319.17,260.66 320.51,260.75 321.85,260.85 C323.19,260.94 324.53,261.04 325.88,261.04 C327.22,261.04 328.56,260.96 329.90,260.85 C331.24,260.74 332.58,260.59 333.92,260.39 C335.27,260.19 336.61,259.96 337.95,259.66 C339.29,259.36 340.63,258.98 341.97,258.60 C343.32,258.23 344.66,257.83 346.00,257.40 C347.34,256.98 348.68,256.56 350.02,256.08 C351.37,255.59 352.71,255.11 354.05,254.49 C355.39,253.88 356.73,253.13 358.07,252.40 C359.42,251.66 360.76,250.86 362.10,250.09 C363.44,249.31 364.78,248.52 366.12,247.74 C367.47,246.95 368.81,246.17 370.15,245.39 C371.49,244.61 372.83,243.88 374.17,243.04 C375.52,242.20 376.86,241.26 378.20,240.36 C379.54,239.45 380.88,238.54 382.22,237.60 C383.57,236.66 384.91,235.81 386.25,234.74 C387.59,233.67 388.93,232.43 390.27,231.16 C391.62,229.89 392.96,228.47 394.30,227.09 C395.64,225.71 396.98,224.33 398.32,222.89 C399.67,221.45 401.01,219.97 402.35,218.46 C403.69,216.95 405.03,215.45 406.38,213.82 C407.72,212.19 409.06,210.44 410.40,208.66 C411.74,206.87 413.08,205.08 414.42,203.12 C415.77,201.16 417.11,198.76 418.45,196.89 C419.79,195.02 421.13,193.36 422.47,191.88 C423.82,190.40 425.16,189.14 426.50,187.99 C427.84,186.85 429.18,185.84 430.52,184.99 C431.87,184.14 433.88,183.25 434.55,182.90" fill="none" stroke="#1f77b4" stroke-opacity="0.3" stroke-width="1"/>
<path d="M273.55,268.84 C274.22,266.90 276.23,259.71 277.57,257.22 C278.92,254.73 280.26,254.59 281.60,253.89 C282.94,253.20 284.28,253.05 285.62,253.07 C286.97,253.08 288.31,253.54 289.65,253.99 C290.99,254.44 292.33,255.26 293.67,255.76 C295.02,256.27 296.36,256.74 297.70,257.04 C299.04,257.34 300.38,257.42 301.72,257.58 C303.07,257.75 304.41,257.75 305.75,258.03 C307.09,258.30 308.43,258.86 309.77,259.23 C311.12,259.61 312.46,259.95 313.80,260.26 C315.14,260.57 316.48,260.87 317.82,261.08 C319.17,261.28 320.51,261.39 321.85,261.50 C323.19,261.60 324.53,261.71 325.88,261.72 C327.22,261.72 328.56,261.64 329.90,261.53 C331.24,261.42 332.58,261.28 333.92,261.08 C335.27,260.89 336.61,260.65 337.95,260.36 C339.29,260.07 340.63,259.69 341.97,259.32 C343.32,258.95 344.66,258.55 346.00,258.13 C347.34,257.72 348.68,257.30 350.02,256.82 C351.37,256.34 352.71,255.86 354.05,255.25 C355.39,254.64 356.73,253.89 358.07,253.16 C359.42,252.43 360.76,251.63 362.10,250.85 C363.44,250.07 364.78,249.28 366.12,248.50 C367.47,247.72 368.81,246.94 370.15,246.16 C371.49,245.38 372.83,244.66 374.17,243.82 C375.52,242.99 376.86,242.07 378.20,241.17 C379.54,240.27 380.88,239.36 382.22,238.43 C383.57,237.50 384.91,236.66 386.25,235.60 C387.59,234.53 388.93,233.31 390.27,232.04 C391.62,230.78 392.96,229.37 394.30,228.00 C395.64,226.64 396.98,225.26 398.32,223.84 C399.67,222.41 401.01,220.94 402.35,219.44 C403.69,217.93 405.03,216.45 406.38,214.82 C407.72,213.19 409.06,211.45 410.40,209.67 C411.74,207.89 413.08,206.10 414.42,204.14 C415.77,202.17 417.11,199.78 418.45,197.89 C419.79,195.99 421.13,194.31 422.47,192.78 C423.82,191.26 425.16,189.94 426.50,188.73 C427.84,187.52 429.18,186.43 430.52,185.52 C431.87,184.60 433.88,183.63 434.55,183.26" fill="none" stroke="#7f7f7f" stroke-opacity="0.3" stroke-width="1"/>
<path d="M273.55,268.89 C274.22,266.96 276.23,259.78 277.57,257.30 C278.92,254.82 280.26,254.70 281.60,254.02 C282.94,253.34 284.28,253.21 285.62,253.24 C286.97,253.27 288.31,253.75 289.65,254.21 C290.99,254.68 292.33,255.52 293.67,256.04 C295.02,256.57 296.36,257.05 297.70,257.37 C299.04,257.70 300.38,257.79 301.72,257.97 C303.07,258.15 304.41,258.18 305.75,258.47 C307.09,258.76 308.43,259.34 309.77,259.73 C311.12,260.12 312.46,260.49 313.80,260.81 C315.14,261.14 316.48,261.46 317.82,261.69 C319.17,261.91 320.51,262.03 321.85,262.15 C323.19,262.26 324.53,262.38 325.88,262.39 C327.22,262.40 328.56,262.31 329.90,262.21 C331.24,262.11 332.58,261.96 333.92,261.77 C335.27,261.58 336.61,261.35 337.95,261.06 C339.29,260.77 340.63,260.40 341.97,260.03 C343.32,259.67 344.66,259.27 346.00,258.86 C347.34,258.45 348.68,258.04 350.02,257.57 C351.37,257.09 352.71,256.61 354.05,256.01 C355.39,255.40 356.73,254.65 358.07,253.92 C359.42,253.19 360.76,252.39 362.10,251.61 C363.44,250.83 364.78,250.04 366.12,249.26 C367.47,248.48 368.81,247.70 370.15,246.93 C371.49,246.15 372.83,245.44 374.17,244.61 C375.52,243.79 376.86,242.87 378.20,241.98 C379.54,241.09 380.88,240.19 382.22,239.27 C383.57,238.35 384.91,237.51 386.25,236.45 C387.59,235.40 388.93,234.18 390.27,232.93 C391.62,231.67 392.96,230.27 394.30,228.91 C395.64,227.56 396.98,226.19 398.32,224.78 C399.67,223.36 401.01,221.90 402.35,220.41 C403.69,218.92 405.03,217.44 406.38,215.82 C407.72,214.20 409.06,212.46 410.40,210.68 C411.74,208.90 413.08,207.12 414.42,205.15 C415.77,203.19 417.11,200.79 418.45,198.88 C419.79,196.97 421.13,195.26 422.47,193.69 C423.82,192.12 425.16,190.74 426.50,189.47 C427.84,188.19 429.18,187.02 430.52,186.05 C431.87,185.07 433.88,184.02 434.55,183.62" fill="none" stroke="#9467bd" stroke-opacity="0.3" stroke-width="1"/>
<path d="M273.55,268.93 C274.22,267.01 276.23,259.85 277.57,257.38 C278.92,254.92 280.26,254.81 281.60,254.15 C282.94,253.49 284.28,253.37 285.62,253.42 C286.97,253.46 288.31,253.95 289.65,254.44 C290.99,254.92 292.33,255.78 293.67,256.32 C295.02,256.86 296.36,257.37 297.70,257.71 C299.04,258.05 300.38,258.16 301.72,258.36 C303.07,258.56 304.41,258.60 305.75,258.91 C307.09,259.23 308.43,259.82 309.77,260.23 C311.12,260.64 312.46,261.03 313.80,261.37 C315.14,261.71 316.48,262.06 317.82,262.30 C319.17,262.53 320.51,262.67 321.85,262.80 C323.19,262.92 324.53,263.05 325.88,263.06 C327.22,263.08 328.56,262.99 329.90,262.89 C331.24,262.79 332.58,262.65 333.92,262.46 C335.27,262.27 336.61,262.05 337.95,261.76 C339.29,261.48 340.63,261.11 341.97,260.75 C343.32,260.39 344.66,260.00 346.00,259.59 C347.34,259.19 348.68,258.78 350.02,258.31 C351.37,257.84 352.71,257.37 354.05,256.76 C355.39,256.16 356.73,255.41 358.07,254.68 C359.42,253.95 360.76,253.15 362.10,252.37 C363.44,251.60 364.78,250.80 366.12,250.02 C367.47,249.24 368.81,248.47 370.15,247.70 C371.49,246.93 372.83,246.22 374.17,245.40 C375.52,244.58 376.86,243.67 378.20,242.79 C379.54,241.90 380.88,241.01 382.22,240.10 C383.57,239.19 384.91,238.36 386.25,237.31 C387.59,236.26 388.93,235.06 390.27,233.81 C391.62,232.56 392.96,231.17 394.30,229.82 C395.64,228.48 396.98,227.13 398.32,225.72 C399.67,224.31 401.01,222.87 402.35,221.38 C403.69,219.90 405.03,218.43 406.38,216.82 C407.72,215.20 409.06,213.47 410.40,211.69 C411.74,209.92 413.08,208.14 414.42,206.17 C415.77,204.20 417.11,201.81 418.45,199.88 C419.79,197.95 421.13,196.20 422.47,194.59 C423.82,192.98 425.16,191.54 426.50,190.20 C427.84,188.87 429.18,187.62 430.52,186.58 C431.87,185.54 433.88,184.41 434.55,183.97" fill="none" stroke="#ff7f0e" stroke-opacity="0.3" stroke-width="1"/>
<path d="M273.55,268.98 C274.22,267.06 276.23,259.91 277.57,257.46 C278.92,255.01 280.26,254.92 281.60,254.27 C282.94,253.63 284.28,253.53 285.62,253.59 C286.97,253.66 288.31,254.16 289.65,254.66 C290.99,255.17 292.33,256.04 293.67,256.60 C295.02,257.16 296.36,257.68 297.70,258.04 C299.04,258.40 300.38,258.53 301.72,258.75 C303.07,258.97 304.41,259.03 305.75,259.36 C307.09,259.69 308.43,260.31 309.77,260.73 C311.12,261.16 312.46,261.56 313.80,261.93 C315.14,262.29 316.48,262.65 317.82,262.91 C319.17,263.16 320.51,263.31 321.85,263.45 C323.19,263.59 324.53,263.71 325.88,263.74 C327.22,263.76 328.56,263.67 329.90,263.58 C331.24,263.48 332.58,263.34 333.92,263.15 C335.27,262.97 336.61,262.74 337.95,262.46 C339.29,262.18 340.63,261.82 341.97,261.46 C343.32,261.10 344.66,260.72 346.00,260.32 C347.34,259.92 348.68,259.53 350.02,259.06 C351.37,258.59 352.71,258.12 354.05,257.52 C355.39,256.92 356.73,256.17 358.07,255.44 C359.42,254.71 360.76,253.91 362.10,253.13 C363.44,252.36 364.78,251.56 366.12,250.79 C367.47,250.01 368.81,249.24 370.15,248.47 C371.49,247.70 372.83,247.00 374.17,246.18 C375.52,245.37 376.86,244.47 378.20,243.60 C379.54,242.72 380.88,241.84 382.22,240.93 C383.57,240.03 384.91,239.21 386.25,238.17 C387.59,237.13 388.93,235.93 390.27,234.69 C391.62,233.45 392.96,232.07 394.30,230.74 C395.64,229.40 396.98,228.06 398.32,226.66 C399.67,225.26 401.01,223.83 402.35,222.36 C403.69,220.88 405.03,219.42 406.38,217.82 C407.72,216.21 409.06,214.48 410.40,212.71 C411.74,210.94 413.08,209.16 414.42,207.18 C415.77,205.21 417.11,202.82 418.45,200.87 C419.79,198.92 421.13,197.15 422.47,195.49 C423.82,193.84 425.16,192.34 426.50,190.94 C427.84,189.54 429.18,188.21 430.52,187.11 C431.87,186.01 433.88,184.79 434.55,184.33" fill="none" stroke="#bcbd22" stroke-opacity="0.3" stroke-width="1"/>
<path d="M273.55,269.02 C274.22,267.11 276.23,259.98 277.57,257.54 C278.92,255.11 280.26,255.03 281.60,254.40 C282.94,253.77 284.28,253.68 285.62,253.77 C286.97,253.85 288.31,254.37 289.65,254.89 C290.99,255.41 292.33,256.30 293.67,256.88 C295.02,257.46 296.36,258.00 297.70,258.37 C299.04,258.75 300.38,258.90 301.72,259.14 C303.07,259.38 304.41,259.45 305.75,259.80 C307.09,260.15 308.43,260.79 309.77,261.23 C311.12,261.68 312.46,262.10 313.80,262.48 C315.14,262.86 316.48,263.25 317.82,263.52 C319.17,263.78 320.51,263.95 321.85,264.10 C323.19,264.25 324.53,264.38 325.88,264.41 C327.22,264.44 328.56,264.35 329.90,264.26 C331.24,264.17 332.58,264.03 333.92,263.84 C335.27,263.66 336.61,263.44 337.95,263.16 C339.29,262.89 340.63,262.53 341.97,262.18 C343.32,261.82 344.66,261.45 346.00,261.05 C347.34,260.66 348.68,260.27 350.02,259.80 C351.37,259.34 352.71,258.87 354.05,258.28 C355.39,257.68 356.73,256.94 358.07,256.21 C359.42,255.48 360.76,254.67 362.10,253.90 C363.44,253.12 364.78,252.33 366.12,251.55 C367.47,250.77 368.81,250.00 370.15,249.24 C371.49,248.48 372.83,247.78 374.17,246.97 C375.52,246.16 376.86,245.27 378.20,244.41 C379.54,243.54 380.88,242.66 382.22,241.77 C383.57,240.87 384.91,240.06 386.25,239.02 C387.59,237.99 388.93,236.80 390.27,235.57 C391.62,234.34 392.96,232.97 394.30,231.65 C395.64,230.32 396.98,228.99 398.32,227.60 C399.67,226.22 401.01,224.79 402.35,223.33 C403.69,221.87 405.03,220.42 406.38,218.81 C407.72,217.21 409.06,215.49 410.40,213.72 C411.74,211.95 413.08,210.18 414.42,208.20 C415.77,206.22 417.11,203.84 418.45,201.87 C419.79,199.90 421.13,198.10 422.47,196.40 C423.82,194.70 425.16,193.14 426.50,191.68 C427.84,190.22 429.18,188.80 430.52,187.64 C431.87,186.47 433.88,185.18 434.55,184.69" fill="none" stroke="#8c564b" stroke-opacity="0.3" stroke-width="1"/>
<path d="M273.55,269.07 C274.22,267.16 276.23,260.05 277.57,257.62 C278.92,255.20 280.26,255.14 281.60,254.53 C282.94,253.91 284.28,253.84 285.62,253.94 C286.97,254.04 288.31,254.58 289.65,255.11 C290.99,255.65 292.33,256.56 293.67,257.15 C295.02,257.75 296.36,258.31 297.70,258.71 C299.04,259.10 300.38,259.27 301.72,259.53 C303.07,259.78 304.41,259.88 305.75,260.25 C307.09,260.62 308.43,261.27 309.77,261.73 C311.12,262.20 312.46,262.64 313.80,263.04 C315.14,263.43 316.48,263.84 317.82,264.13 C319.17,264.41 320.51,264.59 321.85,264.75 C323.19,264.91 324.53,265.05 325.88,265.08 C327.22,265.11 328.56,265.03 329.90,264.94 C331.24,264.85 332.58,264.71 333.92,264.53 C335.27,264.35 336.61,264.14 337.95,263.87 C339.29,263.59 340.63,263.24 341.97,262.89 C343.32,262.54 344.66,262.17 346.00,261.78 C347.34,261.39 348.68,261.01 350.02,260.55 C351.37,260.09 352.71,259.63 354.05,259.03 C355.39,258.43 356.73,257.70 358.07,256.97 C359.42,256.24 360.76,255.43 362.10,254.66 C363.44,253.88 364.78,253.09 366.12,252.31 C367.47,251.54 368.81,250.77 370.15,250.01 C371.49,249.25 372.83,248.55 374.17,247.76 C375.52,246.96 376.86,246.07 378.20,245.21 C379.54,244.36 380.88,243.49 382.22,242.60 C383.57,241.71 384.91,240.91 386.25,239.88 C387.59,238.86 388.93,237.68 390.27,236.46 C391.62,235.24 392.96,233.88 394.30,232.56 C395.64,231.24 396.98,229.92 398.32,228.54 C399.67,227.17 401.01,225.76 402.35,224.30 C403.69,222.85 405.03,221.41 406.38,219.81 C407.72,218.22 409.06,216.50 410.40,214.73 C411.74,212.97 413.08,211.19 414.42,209.22 C415.77,207.24 417.11,204.85 418.45,202.86 C419.79,200.88 421.13,199.04 422.47,197.30 C423.82,195.56 425.16,193.94 426.50,192.41 C427.84,190.89 429.18,189.40 430.52,188.17 C431.87,186.94 433.88,185.57 434.55,185.04" fill="none" stroke="#2ca02c" stroke-opacity="0.3" stroke-width="1"/>
<path d="M273.55,269.11 C274.22,267.21 276.23,260.11 277.57,257.70 C278.92,255.30 280.26,255.25 281.60,254.65 C282.94,254.06 284.28,254.00 285.62,254.12 C286.97,254.23 288.31,254.79 289.65,255.34 C290.99,255.89 292.33,256.82 293.67,257.43 C295.02,258.05 296.36,258.63 297.70,259.04 C299.04,259.46 300.38,259.64 301.72,259.92 C303.07,260.19 304.41,260.31 305.75,260.69 C307.09,261.08 308.43,261.75 309.77,262.23 C311.12,262.72 312.46,263.17 313.80,263.59 C315.14,264.01 316.48,264.43 317.82,264.73 C319.17,265.04 320.51,265.23 321.85,265.40 C323.19,265.57 324.53,265.72 325.88,265.76 C327.22,265.79 328.56,265.71 329.90,265.62 C331.24,265.54 332.58,265.40 333.92,265.22 C335.27,265.05 336.61,264.84 337.95,264.57 C339.29,264.30 340.63,263.95 341.97,263.60 C343.32,263.26 344.66,262.90 346.00,262.51 C347.34,262.13 348.68,261.75 350.02,261.29 C351.37,260.84 352.71,260.38 354.05,259.79 C355.39,259.19 356.73,258.46 358.07,257.73 C359.42,257.00 360.76,256.20 362.10,255.42 C363.44,254.64 364.78,253.85 366.12,253.07 C367.47,252.30 368.81,251.53 370.15,250.78 C371.49,250.02 372.83,249.33 374.17,248.54 C375.52,247.75 376.86,246.88 378.20,246.02 C379.54,245.17 380.88,244.31 382.22,243.43 C383.57,242.55 384.91,241.75 386.25,240.74 C387.59,239.72 388.93,238.55 390.27,237.34 C391.62,236.13 392.96,234.78 394.30,233.47 C395.64,232.16 396.98,230.85 398.32,229.49 C399.67,228.12 401.01,226.72 402.35,225.28 C403.69,223.83 405.03,222.40 406.38,220.81 C407.72,219.22 409.06,217.51 410.40,215.75 C411.74,213.98 413.08,212.21 414.42,210.23 C415.77,208.25 417.11,205.87 418.45,203.86 C419.79,201.86 421.13,199.99 422.47,198.20 C423.82,196.42 425.16,194.73 426.50,193.15 C427.84,191.57 429.18,189.99 430.52,188.70 C431.87,187.41 433.88,185.95 434.55,185.40" fill="none" stroke="#17becf" stroke-opacity="0.3" stroke-width="1"/>
<path d="M273.55,269.16 C274.22,267.26 276.23,260.18 277.57,257.79 C278.92,255.39 280.26,255.36 281.60,254.78 C282.94,254.20 284.28,254.16 285.62,254.29 C286.97,254.42 288.31,254.99 289.65,255.56 C290.99,256.13 292.33,257.08 293.67,257.71 C295.02,258.35 296.36,258.94 297.70,259.37 C299.04,259.81 300.38,260.01 301.72,260.31 C303.07,260.60 304.41,260.73 305.75,261.14 C307.09,261.54 308.43,262.23 309.77,262.73 C311.12,263.24 312.46,263.71 313.80,264.15 C315.14,264.58 316.48,265.03 317.82,265.34 C319.17,265.66 320.51,265.87 321.85,266.05 C323.19,266.23 324.53,266.39 325.88,266.43 C327.22,266.47 328.56,266.39 329.90,266.31 C331.24,266.22 332.58,266.09 333.92,265.92 C335.27,265.74 336.61,265.53 337.95,265.27 C339.29,265.00 340.63,264.66 341.97,264.32 C343.32,263.98 344.66,263.62 346.00,263.24 C347.34,262.86 348.68,262.49 350.02,262.04 C351.37,261.59 352.71,261.14 354.05,260.54 C355.39,259.95 356.73,259.22 358.07,258.49 C359.42,257.76 360.76,256.96 362.10,256.18 C363.44,255.41 364.78,254.61 366.12,253.84 C367.47,253.06 368.81,252.30 370.15,251.55 C371.49,250.80 372.83,250.11 374.17,249.33 C375.52,248.54 376.86,247.68 378.20,246.83 C379.54,245.99 380.88,245.14 382.22,244.27 C383.57,243.39 384.91,242.60 386.25,241.60 C387.59,240.59 388.93,239.42 390.27,238.22 C391.62,237.02 392.96,235.68 394.30,234.38 C395.64,233.08 396.98,231.78 398.32,230.43 C399.67,229.07 401.01,227.69 402.35,226.25 C403.69,224.81 405.03,223.39 406.38,221.81 C407.72,220.23 409.06,218.52 410.40,216.76 C411.74,215.00 413.08,213.23 414.42,211.25 C415.77,209.26 417.11,206.88 418.45,204.86 C419.79,202.83 421.13,200.93 422.47,199.11 C423.82,197.28 425.16,195.53 426.50,193.89 C427.84,192.24 429.18,190.58 430.52,189.23 C431.87,187.87 433.88,186.34 434.55,185.76" fill="none" stroke="#e377c2" stroke-opacity="0.3" stroke-width="1"/>
<path d="M273.55,269.20 C274.22,267.31 276.23,260.25 277.57,257.87 C278.92,255.48 280.26,255.48 281.60,254.91 C282.94,254.34 284.28,254.32 285.62,254.46 C286.97,254.61 288.31,255.20 289.65,255.79 C290.99,256.38 292.33,257.33 293.67,257.99 C295.02,258.64 296.36,259.26 297.70,259.71 C299.04,260.16 300.38,260.38 301.72,260.69 C303.07,261.01 304.41,261.16 305.75,261.58 C307.09,262.00 308.43,262.71 309.77,263.23 C311.12,263.75 312.46,264.25 313.80,264.70 C315.14,265.16 316.48,265.62 317.82,265.95 C319.17,266.29 320.51,266.51 321.85,266.70 C323.19,266.89 324.53,267.05 325.88,267.10 C327.22,267.15 328.56,267.07 329.90,266.99 C331.24,266.91 332.58,266.78 333.92,266.61 C335.27,266.44 336.61,266.23 337.95,265.97 C339.29,265.71 340.63,265.37 341.97,265.03 C343.32,264.70 344.66,264.35 346.00,263.97 C347.34,263.60 348.68,263.23 350.02,262.79 C351.37,262.34 352.71,261.89 354.05,261.30 C355.39,260.71 356.73,259.98 358.07,259.25 C359.42,258.53 360.76,257.72 362.10,256.94 C363.44,256.17 364.78,255.37 366.12,254.60 C367.47,253.83 368.81,253.07 370.15,252.32 C371.49,251.57 372.83,250.89 374.17,250.11 C375.52,249.34 376.86,248.48 378.20,247.64 C379.54,246.81 380.88,245.97 382.22,245.10 C383.57,244.23 384.91,243.45 386.25,242.45 C387.59,241.45 388.93,240.30 390.27,239.10 C391.62,237.91 392.96,236.58 394.30,235.29 C395.64,234.00 396.98,232.71 398.32,231.37 C399.67,230.02 401.01,228.65 402.35,227.22 C403.69,225.80 405.03,224.38 406.38,222.81 C407.72,221.23 409.06,219.53 410.40,217.77 C411.74,216.01 413.08,214.25 414.42,212.26 C415.77,210.28 417.11,207.89 418.45,205.85 C419.79,203.81 421.13,201.88 422.47,200.01 C423.82,198.14 425.16,196.33 426.50,194.62 C427.84,192.91 429.18,191.18 430.52,189.76 C431.87,188.34 433.88,186.72 434.55,186.12" fill="none" stroke="#d62728" stroke-opacity="0.3" stroke-width="1"/>
<path d="M273.55,269.25 C274.22,267.36 276.23,260.31 277.57,257.95 C278.92,255.58 280.26,255.59 281.60,255.04 C282.94,254.48 284.28,254.48 285.62,254.64 C286.97,254.80 288.31,255.41 289.65,256.01 C290.99,256.62 292.33,257.59 293.67,258.27 C295.02,258.94 296.36,259.57 297.70,260.04 C299.04,260.51 300.38,260.75 301.72,261.08 C303.07,261.41 304.41,261.58 305.75,262.03 C307.09,262.47 308.43,263.19 309.77,263.73 C311.12,264.27 312.46,264.79 313.80,265.26 C315.14,265.73 316.48,266.22 317.82,266.56 C319.17,266.91 320.51,267.15 321.85,267.35 C323.19,267.55 324.53,267.72 325.88,267.77 C327.22,267.83 328.56,267.75 329.90,267.67 C331.24,267.59 332.58,267.46 333.92,267.30 C335.27,267.13 336.61,266.93 337.95,266.67 C339.29,266.41 340.63,266.08 341.97,265.75 C343.32,265.42 344.66,265.07 346.00,264.70 C347.34,264.34 348.68,263.97 350.02,263.53 C351.37,263.09 352.71,262.64 354.05,262.06 C355.39,261.47 356.73,260.74 358.07,260.01 C359.42,259.29 360.76,258.48 362.10,257.71 C363.44,256.93 364.78,256.13 366.12,255.36 C367.47,254.59 368.81,253.83 370.15,253.09 C371.49,252.35 372.83,251.67 374.17,250.90 C375.52,250.13 376.86,249.28 378.20,248.45 C379.54,247.62 380.88,246.79 382.22,245.93 C383.57,245.08 384.91,244.30 386.25,243.31 C387.59,242.32 388.93,241.17 390.27,239.99 C391.62,238.80 392.96,237.48 394.30,236.20 C395.64,234.92 396.98,233.64 398.32,232.31 C399.67,230.98 401.01,229.61 402.35,228.20 C403.69,226.78 405.03,225.38 406.38,223.81 C407.72,222.24 409.06,220.54 410.40,218.78 C411.74,217.03 413.08,215.27 414.42,213.28 C415.77,211.29 417.11,208.91 418.45,206.85 C419.79,204.79 421.13,202.83 422.47,200.91 C423.82,199.00 425.16,197.13 426.50,195.36 C427.84,193.59 429.18,191.77 430.52,190.29 C431.87,188.81 433.88,187.11 434.55,186.47" fill="none" stroke="#1f77b4" stroke-opacity="0.3" stroke-width="1"/>
<path d="M273.55,269.29 C274.22,267.41 276.23,260.38 277.57,258.03 C278.92,255.67 280.26,255.70 281.60,255.16 C282.94,254.63 284.28,254.63 285.62,254.81 C286.97,254.99 288.31,255.62 289.65,256.24 C290.99,256.86 292.33,257.85 293.67,258.54 C295.02,259.23 296.36,259.89 297.70,260.37 C299.04,260.86 300.38,261.12 301.72,261.47 C303.07,261.82 304.41,262.01 305.75,262.47 C307.09,262.93 308.43,263.68 309.77,264.23 C311.12,264.79 312.46,265.32 313.80,265.81 C315.14,266.30 316.48,266.81 317.82,267.17 C319.17,267.54 320.51,267.78 321.85,268.00 C323.19,268.21 324.53,268.39 325.88,268.45 C327.22,268.51 328.56,268.43 329.90,268.35 C331.24,268.28 332.58,268.15 333.92,267.99 C335.27,267.82 336.61,267.63 337.95,267.37 C339.29,267.12 340.63,266.79 341.97,266.46 C343.32,266.14 344.66,265.80 346.00,265.44 C347.34,265.07 348.68,264.71 350.02,264.28 C351.37,263.84 352.71,263.40 354.05,262.81 C355.39,262.23 356.73,261.50 358.07,260.77 C359.42,260.05 360.76,259.24 362.10,258.47 C363.44,257.69 364.78,256.89 366.12,256.12 C367.47,255.36 368.81,254.60 370.15,253.86 C371.49,253.12 372.83,252.45 374.17,251.69 C375.52,250.92 376.86,250.08 378.20,249.26 C379.54,248.44 380.88,247.62 382.22,246.77 C383.57,245.92 384.91,245.15 386.25,244.17 C387.59,243.18 388.93,242.04 390.27,240.87 C391.62,239.69 392.96,238.38 394.30,237.11 C395.64,235.84 396.98,234.58 398.32,233.25 C399.67,231.93 401.01,230.58 402.35,229.17 C403.69,227.76 405.03,226.37 406.38,224.81 C407.72,223.24 409.06,221.55 410.40,219.80 C411.74,218.05 413.08,216.29 414.42,214.30 C415.77,212.30 417.11,209.92 418.45,207.84 C419.79,205.76 421.13,203.77 422.47,201.82 C423.82,199.86 425.16,197.93 426.50,196.10 C427.84,194.26 429.18,192.36 430.52,190.82 C431.87,189.27 433.88,187.50 434.55,186.83" fill="none" stroke="#7f7f7f" stroke-opacity="0.3" stroke-width="1"/>
<path d="M273.55,269.34 C274.22,267.47 276.23,260.45 277.57,258.11 C278.92,255.77 280.26,255.81 281.60,255.29 C282.94,254.77 284.28,254.79 285.62,254.99 C286.97,255.18 288.31,255.82 289.65,256.46 C290.99,257.10 292.33,258.11 293.67,258.82 C295.02,259.53 296.36,260.20 297.70,260.71 C299.04,261.21 300.38,261.49 301.72,261.86 C303.07,262.23 304.41,262.44 305.75,262.91 C307.09,263.39 308.43,264.16 309.77,264.73 C311.12,265.31 312.46,265.86 313.80,266.37 C315.14,266.88 316.48,267.40 317.82,267.78 C319.17,268.16 320.51,268.42 321.85,268.65 C323.19,268.87 324.53,269.06 325.88,269.12 C327.22,269.19 328.56,269.11 329.90,269.04 C331.24,268.96 332.58,268.84 333.92,268.68 C335.27,268.52 336.61,268.32 337.95,268.07 C339.29,267.82 340.63,267.49 341.97,267.18 C343.32,266.86 344.66,266.52 346.00,266.17 C347.34,265.81 348.68,265.45 350.02,265.02 C351.37,264.59 352.71,264.15 354.05,263.57 C355.39,262.99 356.73,262.26 358.07,261.54 C359.42,260.81 360.76,260.00 362.10,259.23 C363.44,258.45 364.78,257.65 366.12,256.89 C367.47,256.12 368.81,255.37 370.15,254.63 C371.49,253.90 372.83,253.23 374.17,252.47 C375.52,251.71 376.86,250.88 378.20,250.07 C379.54,249.26 380.88,248.44 382.22,247.60 C383.57,246.76 384.91,246.00 386.25,245.02 C387.59,244.05 388.93,242.92 390.27,241.75 C391.62,240.58 392.96,239.28 394.30,238.02 C395.64,236.76 396.98,235.51 398.32,234.19 C399.67,232.88 401.01,231.54 402.35,230.14 C403.69,228.75 405.03,227.36 406.38,225.81 C407.72,224.25 409.06,222.56 410.40,220.81 C411.74,219.06 413.08,217.31 414.42,215.31 C415.77,213.32 417.11,210.94 418.45,208.84 C419.79,206.74 421.13,204.72 422.47,202.72 C423.82,200.72 425.16,198.73 426.50,196.83 C427.84,194.94 429.18,192.96 430.52,191.35 C431.87,189.74 433.88,187.88 434.55,187.19" fill="none" stroke="#9467bd" stroke-opacity="0.3" stroke-width="1"/>
<path d="M273.55,269.38 C274.22,267.52 276.23,260.51 277.57,258.19 C278.92,255.86 280.26,255.92 281.60,255.42 C282.94,254.91 284.28,254.95 285.62,255.16 C286.97,255.38 288.31,256.03 289.65,256.69 C290.99,257.34 292.33,258.37 293.67,259.10 C295.02,259.83 296.36,260.52 297.70,261.04 C299.04,261.57 300.38,261.86 301.72,262.25 C303.07,262.64 304.41,262.86 305.75,263.36 C307.09,263.86 308.43,264.64 309.77,265.23 C311.12,265.83 312.46,266.40 313.80,266.92 C315.14,267.45 316.48,268.00 317.82,268.39 C319.17,268.79 320.51,269.06 321.85,269.30 C323.19,269.53 324.53,269.72 325.88,269.79 C327.22,269.86 328.56,269.79 329.90,269.72 C331.24,269.65 332.58,269.53 333.92,269.37 C335.27,269.21 336.61,269.02 337.95,268.77 C339.29,268.53 340.63,268.20 341.97,267.89 C343.32,267.58 344.66,267.25 346.00,266.90 C347.34,266.54 348.68,266.20 350.02,265.77 C351.37,265.34 352.71,264.90 354.05,264.33 C355.39,263.75 356.73,263.02 358.07,262.30 C359.42,261.57 360.76,260.77 362.10,259.99 C363.44,259.22 364.78,258.41 366.12,257.65 C367.47,256.88 368.81,256.13 370.15,255.40 C371.49,254.67 372.83,254.01 374.17,253.26 C375.52,252.51 376.86,251.69 378.20,250.88 C379.54,250.08 380.88,249.27 382.22,248.43 C383.57,247.60 384.91,246.85 386.25,245.88 C387.59,244.91 388.93,243.79 390.27,242.63 C391.62,241.48 392.96,240.18 394.30,238.93 C395.64,237.68 396.98,236.44 398.32,235.14 C399.67,233.83 401.01,232.51 402.35,231.12 C403.69,229.73 405.03,228.35 406.38,226.80 C407.72,225.26 409.06,223.57 410.40,221.82 C411.74,220.08 413.08,218.32 414.42,216.33 C415.77,214.33 417.11,211.95 418.45,209.84 C419.79,207.72 421.13,205.67 422.47,203.62 C423.82,201.58 425.16,199.53 426.50,197.57 C427.84,195.61 429.18,193.55 430.52,191.88 C431.87,190.21 433.88,188.27 434.55,187.55" fill="none" stroke="#ff7f0e" stroke-opacity="0.3" stroke-width="1"/>
<path d="M273.55,269.43 C274.22,267.57 276.23,260.58 277.57,258.27 C278.92,255.95 280.26,256.03 281.60,255.54 C282.94,255.06 284.28,255.11 285.62,255.34 C286.97,255.57 288.31,256.24 289.65,256.91 C290.99,257.59 292.33,258.63 293.67,259.38 C295.02,260.12 296.36,260.83 297.70,261.37 C299.04,261.92 300.38,262.23 301.72,262.64 C303.07,263.04 304.41,263.29 305.75,263.80 C307.09,264.32 308.43,265.12 309.77,265.73 C311.12,266.35 312.46,266.94 313.80,267.48 C315.14,268.03 316.48,268.59 317.82,269.00 C319.17,269.41 320.51,269.70 321.85,269.95 C323.19,270.19 324.53,270.39 325.88,270.47 C327.22,270.54 328.56,270.47 329.90,270.40 C331.24,270.33 332.58,270.21 333.92,270.06 C335.27,269.91 336.61,269.72 337.95,269.47 C339.29,269.23 340.63,268.91 341.97,268.61 C343.32,268.30 344.66,267.97 346.00,267.63 C347.34,267.28 348.68,266.94 350.02,266.51 C351.37,266.09 352.71,265.66 354.05,265.08 C355.39,264.51 356.73,263.78 358.07,263.06 C359.42,262.34 360.76,261.53 362.10,260.75 C363.44,259.98 364.78,259.18 366.12,258.41 C367.47,257.65 368.81,256.90 370.15,256.17 C371.49,255.44 372.83,254.79 374.17,254.05 C375.52,253.30 376.86,252.49 378.20,251.69 C379.54,250.89 380.88,250.09 382.22,249.27 C383.57,248.44 384.91,247.70 386.25,246.74 C387.59,245.78 388.93,244.67 390.27,243.52 C391.62,242.37 392.96,241.08 394.30,239.84 C395.64,238.60 396.98,237.37 398.32,236.08 C399.67,234.79 401.01,233.47 402.35,232.09 C403.69,230.71 405.03,229.35 406.38,227.80 C407.72,226.26 409.06,224.58 410.40,222.84 C411.74,221.09 413.08,219.34 414.42,217.34 C415.77,215.34 417.11,212.97 418.45,210.83 C419.79,208.70 421.13,206.61 422.47,204.53 C423.82,202.44 425.16,200.33 426.50,198.31 C427.84,196.29 429.18,194.14 430.52,192.41 C431.87,190.68 433.88,188.65 434.55,187.90" fill="none" stroke="#bcbd22" stroke-opacity="0.3" stroke-width="1"/>
<path d="M273.55,269.47 C274.22,267.62 276.23,260.65 277.57,258.35 C278.92,256.05 280.26,256.14 281.60,255.67 C282.94,255.20 284.28,255.27 285.62,255.51 C286.97,255.76 288.31,256.45 289.65,257.14 C290.99,257.83 292.33,258.89 293.67,259.66 C295.02,260.42 296.36,261.15 297.70,261.71 C299.04,262.27 300.38,262.60 301.72,263.03 C303.07,263.45 304.41,263.71 305.75,264.25 C307.09,264.78 308.43,265.60 309.77,266.23 C311.12,266.86 312.46,267.47 313.80,268.04 C315.14,268.60 316.48,269.19 317.82,269.61 C319.17,270.04 320.51,270.34 321.85,270.60 C323.19,270.85 324.53,271.06 325.88,271.14 C327.22,271.22 328.56,271.15 329.90,271.08 C331.24,271.02 332.58,270.90 333.92,270.75 C335.27,270.60 336.61,270.41 337.95,270.18 C339.29,269.94 340.63,269.62 341.97,269.32 C343.32,269.02 344.66,268.70 346.00,268.36 C347.34,268.01 348.68,267.68 350.02,267.26 C351.37,266.84 352.71,266.41 354.05,265.84 C355.39,265.27 356.73,264.54 358.07,263.82 C359.42,263.10 360.76,262.29 362.10,261.52 C363.44,260.74 364.78,259.94 366.12,259.17 C367.47,258.41 368.81,257.66 370.15,256.94 C371.49,256.22 372.83,255.57 374.17,254.83 C375.52,254.09 376.86,253.29 378.20,252.50 C379.54,251.71 380.88,250.92 382.22,250.10 C383.57,249.28 384.91,248.55 386.25,247.59 C387.59,246.64 388.93,245.54 390.27,244.40 C391.62,243.26 392.96,241.98 394.30,240.75 C395.64,239.52 396.98,238.30 398.32,237.02 C399.67,235.74 401.01,234.43 402.35,233.06 C403.69,231.70 405.03,230.34 406.38,228.80 C407.72,227.27 409.06,225.59 410.40,223.85 C411.74,222.11 413.08,220.36 414.42,218.36 C415.77,216.35 417.11,213.98 418.45,211.83 C419.79,209.67 421.13,207.56 422.47,205.43 C423.82,203.30 425.16,201.12 426.50,199.04 C427.84,196.96 429.18,194.74 430.52,192.94 C431.87,191.14 433.88,189.04 434.55,188.26" fill="none" stroke="#8c564b" stroke-opacity="0.3" stroke-width="1"/>
<path d="M273.55,269.52 C274.22,267.67 276.23,260.72 277.57,258.43 C278.92,256.14 280.26,256.25 281.60,255.80 C282.94,255.34 284.28,255.43 285.62,255.69 C286.97,255.95 288.31,256.66 289.65,257.36 C290.99,258.07 292.33,259.15 293.67,259.93 C295.02,260.71 296.36,261.46 297.70,262.04 C299.04,262.62 300.38,262.97 301.72,263.42 C303.07,263.86 304.41,264.14 305.75,264.69 C307.09,265.24 308.43,266.08 309.77,266.73 C311.12,267.38 312.46,268.01 313.80,268.59 C315.14,269.17 316.48,269.78 317.82,270.22 C319.17,270.67 320.51,270.98 321.85,271.25 C323.19,271.51 324.53,271.73 325.88,271.81 C327.22,271.90 328.56,271.83 329.90,271.77 C331.24,271.70 332.58,271.59 333.92,271.44 C335.27,271.29 336.61,271.11 337.95,270.88 C339.29,270.64 340.63,270.33 341.97,270.03 C343.32,269.74 344.66,269.42 346.00,269.09 C347.34,268.75 348.68,268.42 350.02,268.00 C351.37,267.59 352.71,267.17 354.05,266.59 C355.39,266.02 356.73,265.30 358.07,264.58 C359.42,263.86 360.76,263.05 362.10,262.28 C363.44,261.50 364.78,260.70 366.12,259.94 C367.47,259.18 368.81,258.43 370.15,257.71 C371.49,256.99 372.83,256.35 374.17,255.62 C375.52,254.89 376.86,254.09 378.20,253.31 C379.54,252.53 380.88,251.74 382.22,250.93 C383.57,250.12 384.91,249.39 386.25,248.45 C387.59,247.51 388.93,246.41 390.27,245.28 C391.62,244.15 392.96,242.88 394.30,241.66 C395.64,240.44 396.98,239.23 398.32,237.96 C399.67,236.69 401.01,235.40 402.35,234.04 C403.69,232.68 405.03,231.33 406.38,229.80 C407.72,228.27 409.06,226.60 410.40,224.86 C411.74,223.12 413.08,221.38 414.42,219.37 C415.77,217.37 417.11,215.00 418.45,212.82 C419.79,210.65 421.13,208.51 422.47,206.33 C423.82,204.16 425.16,201.92 426.50,199.78 C427.84,197.63 429.18,195.33 430.52,193.47 C431.87,191.61 433.88,189.43 434.55,188.62" fill="none" stroke="#2ca02c" stroke-opacity="0.3" stroke-width="1"/>
<path d="M273.55,269.56 C274.22,267.72 276.23,260.78 277.57,258.51 C278.92,256.24 280.26,256.37 281.60,255.92 C282.94,255.48 284.28,255.59 285.62,255.86 C286.97,256.14 288.31,256.86 289.65,257.59 C290.99,258.31 292.33,259.41 293.67,260.21 C295.02,261.01 296.36,261.78 297.70,262.37 C299.04,262.97 300.38,263.34 301.72,263.81 C303.07,264.27 304.41,264.57 305.75,265.14 C307.09,265.71 308.43,266.56 309.77,267.23 C311.12,267.90 312.46,268.55 313.80,269.15 C315.14,269.75 316.48,270.37 317.82,270.83 C319.17,271.29 320.51,271.62 321.85,271.90 C323.19,272.17 324.53,272.40 325.88,272.49 C327.22,272.58 328.56,272.51 329.90,272.45 C331.24,272.39 332.58,272.28 333.92,272.13 C335.27,271.99 336.61,271.81 337.95,271.58 C339.29,271.35 340.63,271.04 341.97,270.75 C343.32,270.46 344.66,270.15 346.00,269.82 C347.34,269.48 348.68,269.16 350.02,268.75 C351.37,268.34 352.71,267.92 354.05,267.35 C355.39,266.78 356.73,266.06 358.07,265.34 C359.42,264.62 360.76,263.81 362.10,263.04 C363.44,262.27 364.78,261.46 366.12,260.70 C367.47,259.94 368.81,259.20 370.15,258.48 C371.49,257.77 372.83,257.13 374.17,256.41 C375.52,255.68 376.86,254.89 378.20,254.12 C379.54,253.35 380.88,252.57 382.22,251.77 C383.57,250.96 384.91,250.24 386.25,249.31 C387.59,248.38 388.93,247.29 390.27,246.16 C391.62,245.04 392.96,243.79 394.30,242.58 C395.64,241.37 396.98,240.16 398.32,238.90 C399.67,237.64 401.01,236.36 402.35,235.01 C403.69,233.66 405.03,232.32 406.38,230.80 C407.72,229.28 409.06,227.61 410.40,225.87 C411.74,224.14 413.08,222.40 414.42,220.39 C415.77,218.38 417.11,216.01 418.45,213.82 C419.79,211.63 421.13,209.45 422.47,207.24 C423.82,205.02 425.16,202.72 426.50,200.51 C427.84,198.31 429.18,195.92 430.52,194.00 C431.87,192.08 433.88,189.81 434.55,188.98" fill="none" stroke="#17becf" stroke-opacity="0.3" stroke-width="1"/>
<path d="M273.55,269.61 C274.22,267.77 276.23,260.85 277.57,258.59 C278.92,256.33 280.26,256.48 281.60,256.05 C282.94,255.63 284.28,255.74 285.62,256.04 C286.97,256.33 288.31,257.07 289.65,257.81 C290.99,258.56 292.33,259.67 293.67,260.49 C295.02,261.31 296.36,262.09 297.70,262.71 C299.04,263.32 300.38,263.72 301.72,264.19 C303.07,264.67 304.41,264.99 305.75,265.58 C307.09,266.17 308.43,267.05 309.77,267.73 C311.12,268.42 312.46,269.08 313.80,269.70 C315.14,270.32 316.48,270.97 317.82,271.44 C319.17,271.92 320.51,272.26 321.85,272.55 C323.19,272.83 324.53,273.06 325.88,273.16 C327.22,273.26 328.56,273.19 329.90,273.13 C331.24,273.08 332.58,272.96 333.92,272.82 C335.27,272.68 336.61,272.51 337.95,272.28 C339.29,272.05 340.63,271.75 341.97,271.46 C343.32,271.18 344.66,270.87 346.00,270.55 C347.34,270.22 348.68,269.90 350.02,269.50 C351.37,269.09 352.71,268.67 354.05,268.11 C355.39,267.54 356.73,266.82 358.07,266.10 C359.42,265.39 360.76,264.57 362.10,263.80 C363.44,263.03 364.78,262.22 366.12,261.46 C367.47,260.70 368.81,259.96 370.15,259.25 C371.49,258.54 372.83,257.91 374.17,257.19 C375.52,256.47 376.86,255.69 378.20,254.93 C379.54,254.16 380.88,253.39 382.22,252.60 C383.57,251.81 384.91,251.09 386.25,250.17 C387.59,249.24 388.93,248.16 390.27,247.05 C391.62,245.93 392.96,244.69 394.30,243.49 C395.64,242.29 396.98,241.10 398.32,239.85 C399.67,238.59 401.01,237.33 402.35,235.99 C403.69,234.64 405.03,233.31 406.38,231.80 C407.72,230.28 409.06,228.62 410.40,226.89 C411.74,225.15 413.08,223.42 414.42,221.41 C415.77,219.39 417.11,217.03 418.45,214.82 C419.79,212.60 421.13,210.40 422.47,208.14 C423.82,205.88 425.16,203.52 426.50,201.25 C427.84,198.98 429.18,196.52 430.52,194.53 C431.87,192.54 433.88,190.20 434.55,189.33" fill="none" stroke="#e377c2" stroke-opacity="0.3" stroke-width="1"/>
<path d="M273.55,269.65 C274.22,267.82 276.23,260.92 277.57,258.67 C278.92,256.42 280.26,256.59 281.60,256.18 C282.94,255.77 284.28,255.90 285.62,256.21 C286.97,256.52 288.31,257.28 289.65,258.04 C290.99,258.80 292.33,259.93 293.67,260.77 C295.02,261.60 296.36,262.41 297.70,263.04 C299.04,263.68 300.38,264.09 301.72,264.58 C303.07,265.08 304.41,265.42 305.75,266.03 C307.09,266.63 308.43,267.53 309.77,268.23 C311.12,268.94 312.46,269.62 313.80,270.26 C315.14,270.89 316.48,271.56 317.82,272.05 C319.17,272.54 320.51,272.90 321.85,273.20 C323.19,273.49 324.53,273.73 325.88,273.83 C327.22,273.94 328.56,273.87 329.90,273.81 C331.24,273.76 332.58,273.65 333.92,273.51 C335.27,273.37 336.61,273.20 337.95,272.98 C339.29,272.76 340.63,272.46 341.97,272.18 C343.32,271.89 344.66,271.60 346.00,271.28 C347.34,270.95 348.68,270.64 350.02,270.24 C351.37,269.84 352.71,269.43 354.05,268.86 C355.39,268.30 356.73,267.58 358.07,266.87 C359.42,266.15 360.76,265.34 362.10,264.56 C363.44,263.79 364.78,262.98 366.12,262.22 C367.47,261.47 368.81,260.73 370.15,260.02 C371.49,259.31 372.83,258.69 374.17,257.98 C375.52,257.26 376.86,256.50 378.20,255.74 C379.54,254.98 380.88,254.22 382.22,253.43 C383.57,252.65 384.91,251.94 386.25,251.02 C387.59,250.11 388.93,249.03 390.27,247.93 C391.62,246.82 392.96,245.59 394.30,244.40 C395.64,243.21 396.98,242.03 398.32,240.79 C399.67,239.55 401.01,238.29 402.35,236.96 C403.69,235.63 405.03,234.31 406.38,232.80 C407.72,231.29 409.06,229.63 410.40,227.90 C411.74,226.17 413.08,224.44 414.42,222.42 C415.77,220.41 417.11,218.04 418.45,215.81 C419.79,213.58 421.13,211.35 422.47,209.04 C423.82,206.74 425.16,204.32 426.50,201.99 C427.84,199.66 429.18,197.11 430.52,195.06 C431.87,193.01 433.88,190.59 434.55,189.69" fill="none" stroke="#d62728" stroke-opacity="0.3" stroke-width="1"/>
<path d="M273.55,269.70 C274.22,267.87 276.23,260.98 277.57,258.75 C278.92,256.52 280.26,256.70 281.60,256.31 C282.94,255.91 284.28,256.06 285.62,256.39 C286.97,256.71 288.31,257.49 289.65,258.26 C290.99,259.04 292.33,260.19 293.67,261.05 C295.02,261.90 296.36,262.72 297.70,263.37 C299.04,264.03 300.38,264.46 301.72,264.97 C303.07,265.49 304.41,265.84 305.75,266.47 C307.09,267.10 308.43,268.01 309.77,268.73 C311.12,269.46 312.46,270.16 313.80,270.81 C315.14,271.47 316.48,272.16 317.82,272.66 C319.17,273.17 320.51,273.54 321.85,273.85 C323.19,274.15 324.53,274.40 325.88,274.51 C327.22,274.62 328.56,274.55 329.90,274.50 C331.24,274.45 332.58,274.34 333.92,274.20 C335.27,274.07 336.61,273.90 337.95,273.68 C339.29,273.46 340.63,273.17 341.97,272.89 C343.32,272.61 344.66,272.32 346.00,272.01 C347.34,271.69 348.68,271.38 350.02,270.99 C351.37,270.59 352.71,270.18 354.05,269.62 C355.39,269.06 356.73,268.34 358.07,267.63 C359.42,266.91 360.76,266.10 362.10,265.32 C363.44,264.55 364.78,263.74 366.12,262.99 C367.47,262.23 368.81,261.50 370.15,260.79 C371.49,260.09 372.83,259.47 374.17,258.76 C375.52,258.06 376.86,257.30 378.20,256.55 C379.54,255.80 380.88,255.04 382.22,254.27 C383.57,253.49 384.91,252.79 386.25,251.88 C387.59,250.97 388.93,249.91 390.27,248.81 C391.62,247.72 392.96,246.49 394.30,245.31 C395.64,244.13 396.98,242.96 398.32,241.73 C399.67,240.50 401.01,239.25 402.35,237.93 C403.69,236.61 405.03,235.30 406.38,233.80 C407.72,232.29 409.06,230.64 410.40,228.91 C411.74,227.19 413.08,225.46 414.42,223.44 C415.77,221.42 417.11,219.06 418.45,216.81 C419.79,214.56 421.13,212.29 422.47,209.95 C423.82,207.60 425.16,205.12 426.50,202.72 C427.84,200.33 429.18,197.70 430.52,195.59 C431.87,193.48 433.88,190.97 434.55,190.05" fill="none" stroke="#1f77b4" stroke-opacity="0.3" stroke-width="1"/>
<path d="M273.55,269.74 C274.22,267.92 276.23,261.05 277.57,258.83 C278.92,256.61 280.26,256.81 281.60,256.43 C282.94,256.05 284.28,256.22 285.62,256.56 C286.97,256.91 288.31,257.70 289.65,258.49 C290.99,259.28 292.33,260.45 293.67,261.32 C295.02,262.19 296.36,263.03 297.70,263.71 C299.04,264.38 300.38,264.83 301.72,265.36 C303.07,265.90 304.41,266.27 305.75,266.91 C307.09,267.56 308.43,268.49 309.77,269.23 C311.12,269.98 312.46,270.70 313.80,271.37 C315.14,272.04 316.48,272.75 317.82,273.27 C319.17,273.79 320.51,274.18 321.85,274.50 C323.19,274.82 324.53,275.07 325.88,275.18 C327.22,275.29 328.56,275.23 329.90,275.18 C331.24,275.13 332.58,275.03 333.92,274.89 C335.27,274.76 336.61,274.60 337.95,274.38 C339.29,274.17 340.63,273.88 341.97,273.61 C343.32,273.33 344.66,273.05 346.00,272.74 C347.34,272.42 348.68,272.13 350.02,271.73 C351.37,271.34 352.71,270.93 354.05,270.38 C355.39,269.82 356.73,269.10 358.07,268.39 C359.42,267.67 360.76,266.86 362.10,266.09 C363.44,265.31 364.78,264.50 366.12,263.75 C367.47,263.00 368.81,262.26 370.15,261.56 C371.49,260.86 372.83,260.25 374.17,259.55 C375.52,258.85 376.86,258.10 378.20,257.36 C379.54,256.62 380.88,255.87 382.22,255.10 C383.57,254.33 384.91,253.64 386.25,252.74 C387.59,251.84 388.93,250.78 390.27,249.69 C391.62,248.61 392.96,247.39 394.30,246.22 C395.64,245.05 396.98,243.89 398.32,242.67 C399.67,241.45 401.01,240.22 402.35,238.91 C403.69,237.59 405.03,236.29 406.38,234.79 C407.72,233.30 409.06,231.65 410.40,229.93 C411.74,228.20 413.08,226.47 414.42,224.45 C415.77,222.43 417.11,220.07 418.45,217.80 C419.79,215.54 421.13,213.24 422.47,210.85 C423.82,208.46 425.16,205.92 426.50,203.46 C427.84,201.01 429.18,198.30 430.52,196.12 C431.87,193.95 433.88,191.36 434.55,190.41" fill="none" stroke="#7f7f7f" stroke-opacity="0.3" stroke-width="1"/>
<path d="M273.55,269.79 C274.22,267.97 276.23,261.12 277.57,258.91 C278.92,256.71 280.26,256.92 281.60,256.56 C282.94,256.20 284.28,256.38 285.62,256.74 C286.97,257.10 288.31,257.90 289.65,258.71 C290.99,259.52 292.33,260.71 293.67,261.60 C295.02,262.49 296.36,263.35 297.70,264.04 C299.04,264.73 300.38,265.20 301.72,265.75 C303.07,266.30 304.41,266.69 305.75,267.36 C307.09,268.02 308.43,268.97 309.77,269.73 C311.12,270.49 312.46,271.23 313.80,271.92 C315.14,272.62 316.48,273.34 317.82,273.88 C319.17,274.42 320.51,274.82 321.85,275.15 C323.19,275.48 324.53,275.73 325.88,275.85 C327.22,275.97 328.56,275.91 329.90,275.86 C331.24,275.82 332.58,275.71 333.92,275.59 C335.27,275.46 336.61,275.29 337.95,275.08 C339.29,274.87 340.63,274.59 341.97,274.32 C343.32,274.05 344.66,273.77 346.00,273.47 C347.34,273.16 348.68,272.87 350.02,272.48 C351.37,272.09 352.71,271.69 354.05,271.13 C355.39,270.58 356.73,269.86 358.07,269.15 C359.42,268.44 360.76,267.62 362.10,266.85 C363.44,266.08 364.78,265.26 366.12,264.51 C367.47,263.76 368.81,263.03 370.15,262.33 C371.49,261.64 372.83,261.03 374.17,260.34 C375.52,259.64 376.86,258.90 378.20,258.17 C379.54,257.43 380.88,256.69 382.22,255.93 C383.57,255.17 384.91,254.49 386.25,253.59 C387.59,252.70 388.93,251.65 390.27,250.58 C391.62,249.50 392.96,248.29 394.30,247.13 C395.64,245.97 396.98,244.82 398.32,243.61 C399.67,242.40 401.01,241.18 402.35,239.88 C403.69,238.58 405.03,237.28 406.38,235.79 C407.72,234.30 409.06,232.66 410.40,230.94 C411.74,229.22 413.08,227.49 414.42,225.47 C415.77,223.45 417.11,221.08 418.45,218.80 C419.79,216.51 421.13,214.19 422.47,211.75 C423.82,209.32 425.16,206.71 426.50,204.20 C427.84,201.68 429.18,198.89 430.52,196.65 C431.87,194.41 433.88,191.74 434.55,190.76" fill="none" stroke="#9467bd" stroke-opacity="0.3" stroke-width="1"/>
<path d="M273.55,269.79 C274.22,267.97 276.23,261.12 277.57,258.91 C278.92,256.71 280.26,256.92 281.60,256.56 C282.94,256.20 284.28,256.38 285.62,256.74 C286.97,257.10 288.31,257.90 289.65,258.71 C290.99,259.52 292.33,260.71 293.67,261.60 C295.02,262.49 296.36,263.35 297.70,264.04 C299.04,264.73 300.38,265.20 301.72,265.75 C303.07,266.30 304.41,266.69 305.75,267.36 C307.09,268.02 308.43,268.97 309.77,269.73 C311.12,270.49 312.46,271.23 313.80,271.92 C315.14,272.62 316.48,273.34 317.82,273.88 C319.17,274.42 320.51,274.82 321.85,275.15 C323.19,275.48 324.53,275.73 325.88,275.85 C327.22,275.97 328.56,275.91 329.90,275.86 C331.24,275.82 332.58,275.71 333.92,275.59 C335.27,275.46 336.61,275.29 337.95,275.08 C339.29,274.87 340.63,274.59 341.97,274.32 C343.32,274.05 344.66,273.77 346.00,273.47 C347.34,273.16 348.68,272.87 350.02,272.48 C351.37,272.09 352.71,271.69 354.05,271.13 C355.39,270.58 356.73,269.86 358.07,269.15 C359.42,268.44 360.76,267.62 362.10,266.85 C363.44,266.08 364.78,265.26 366.12,264.51 C367.47,263.76 368.81,263.03 370.15,262.33 C371.49,261.64 372.83,261.03 374.17,260.34 C375.52,259.64 376.86,258.90 378.20,258.17 C379.54,257.43 380.88,256.69 382.22,255.93 C383.57,255.17 384.91,254.49 386.25,253.59 C387.59,252.70 388.93,251.65 390.27,250.58 C391.62,249.50 392.96,248.29 394.30,247.13 C395.64,245.97 396.98,244.82 398.32,243.61 C399.67,242.40 401.01,241.18 402.35,239.88 C403.69,238.58 405.03,237.28 406.38,235.79 C407.72,234.30 409.06,232.66 410.40,230.94 C411.74,229.22 413.08,227.49 414.42,225.47 C415.77,223.45 417.11,221.08 418.45,218.80 C419.79,216.51 421.13,214.19 422.47,211.75 C423.82,209.32 425.16,206.71 426.50,204.20 C427.84,201.68 429.18,198.89 430.52,196.65 C431.87,194.41 433.88,191.74 434.55,190.76" fill="none" stroke="#9467bd" stroke-opacity="0.3" stroke-width="1"/>
<path d="M273.55,269.89 C274.22,268.09 276.23,261.26 277.57,259.09 C278.92,256.91 280.26,257.16 281.60,256.84 C282.94,256.51 284.28,256.72 285.62,257.12 C286.97,257.51 288.31,258.35 289.65,259.20 C290.99,260.05 292.33,261.28 293.67,262.21 C295.02,263.13 296.36,264.03 297.70,264.77 C299.04,265.50 300.38,266.00 301.72,266.60 C303.07,267.19 304.41,267.62 305.75,268.33 C307.09,269.03 308.43,270.02 309.77,270.82 C311.12,271.62 312.46,272.40 313.80,273.13 C315.14,273.86 316.48,274.64 317.82,275.21 C319.17,275.78 320.51,276.21 321.85,276.56 C323.19,276.91 324.53,277.19 325.88,277.32 C327.22,277.45 328.56,277.38 329.90,277.35 C331.24,277.31 332.58,277.21 333.92,277.09 C335.27,276.96 336.61,276.81 337.95,276.61 C339.29,276.41 340.63,276.13 341.97,275.88 C343.32,275.62 344.66,275.35 346.00,275.05 C347.34,274.76 348.68,274.48 350.02,274.10 C351.37,273.72 352.71,273.33 354.05,272.78 C355.39,272.23 356.73,271.52 358.07,270.81 C359.42,270.09 360.76,269.28 362.10,268.51 C363.44,267.73 364.78,266.92 366.12,266.17 C367.47,265.42 368.81,264.69 370.15,264.01 C371.49,263.32 372.83,262.73 374.17,262.05 C375.52,261.37 376.86,260.64 378.20,259.93 C379.54,259.21 380.88,258.49 382.22,257.75 C383.57,257.00 384.91,256.33 386.25,255.46 C387.59,254.58 388.93,253.55 390.27,252.50 C391.62,251.44 392.96,250.25 394.30,249.11 C395.64,247.97 396.98,246.85 398.32,245.66 C399.67,244.47 401.01,243.28 402.35,242.00 C403.69,240.71 405.03,239.44 406.38,237.97 C407.72,236.49 409.06,234.86 410.40,233.14 C411.74,231.43 413.08,229.71 414.42,227.68 C415.77,225.65 417.11,223.29 418.45,220.96 C419.79,218.64 421.13,216.25 422.47,213.72 C423.82,211.19 425.16,208.45 426.50,205.80 C427.84,203.15 429.18,200.18 430.52,197.80 C431.87,195.43 433.88,192.58 434.55,191.54" fill="none" stroke="#e377c2" stroke-opacity="0.3" stroke-width="1"/>
<path d="M273.55,269.97 C274.22,268.18 276.23,261.38 277.57,259.23 C278.92,257.08 280.26,257.37 281.60,257.07 C282.94,256.77 284.28,257.01 285.62,257.43 C286.97,257.86 288.31,258.73 289.65,259.61 C290.99,260.49 292.33,261.75 293.67,262.71 C295.02,263.67 296.36,264.60 297.70,265.37 C299.04,266.13 300.38,266.67 301.72,267.30 C303.07,267.93 304.41,268.39 305.75,269.13 C307.09,269.87 308.43,270.89 309.77,271.73 C311.12,272.56 312.46,273.38 313.80,274.14 C315.14,274.90 316.48,275.71 317.82,276.31 C319.17,276.91 320.51,277.37 321.85,277.74 C323.19,278.11 324.53,278.40 325.88,278.54 C327.22,278.68 328.56,278.62 329.90,278.58 C331.24,278.55 332.58,278.46 333.92,278.34 C335.27,278.22 336.61,278.07 337.95,277.88 C339.29,277.68 340.63,277.42 341.97,277.17 C343.32,276.92 344.66,276.66 346.00,276.38 C347.34,276.09 348.68,275.82 350.02,275.45 C351.37,275.08 352.71,274.69 354.05,274.15 C355.39,273.60 356.73,272.90 358.07,272.19 C359.42,271.48 360.76,270.66 362.10,269.89 C363.44,269.11 364.78,268.30 366.12,267.55 C367.47,266.81 368.81,266.08 370.15,265.40 C371.49,264.72 372.83,264.14 374.17,263.47 C375.52,262.81 376.86,262.10 378.20,261.39 C379.54,260.69 380.88,259.99 382.22,259.26 C383.57,258.53 384.91,257.87 386.25,257.01 C387.59,256.15 388.93,255.14 390.27,254.10 C391.62,253.05 392.96,251.88 394.30,250.76 C395.64,249.64 396.98,248.53 398.32,247.37 C399.67,246.20 401.01,245.03 402.35,243.76 C403.69,242.50 405.03,241.24 406.38,239.78 C407.72,238.31 409.06,236.69 410.40,234.98 C411.74,233.27 413.08,231.55 414.42,229.52 C415.77,227.49 417.11,225.13 418.45,222.77 C419.79,220.41 421.13,217.96 422.47,215.36 C423.82,212.75 425.16,209.90 426.50,207.13 C427.84,204.37 429.18,201.26 430.52,198.77 C431.87,196.27 433.88,193.28 434.55,192.19" fill="none" stroke="#1f77b4" stroke-opacity="0.3" stroke-width="1"/>
<path d="M272.90,273.60 C273.22,273.35 274.15,273.08 274.80,272.10 C275.45,271.12 276.15,268.85 276.80,267.70 C277.45,266.55 278.05,265.45 278.70,265.20 C279.35,264.95 279.88,266.03 280.70,266.20 C281.52,266.37 282.78,266.53 283.60,266.20 C284.42,265.87 284.93,265.02 285.60,264.20 C286.27,263.38 286.95,262.12 287.60,261.30 C288.25,260.48 288.85,259.47 289.50,259.30 C290.15,259.13 290.68,260.13 291.50,260.30 C292.32,260.47 293.42,261.12 294.40,260.30 C295.38,259.48 296.58,256.55 297.40,255.40 C298.22,254.25 298.48,253.57 299.30,253.40 C300.12,253.23 301.32,253.90 302.30,254.40 C303.28,254.90 304.22,255.42 305.20,256.40 C306.18,257.38 307.38,259.00 308.20,260.30 C309.02,261.60 309.45,263.22 310.10,264.20 C310.75,265.18 311.28,265.87 312.10,266.20 C312.92,266.53 314.02,266.70 315.00,266.20 C315.98,265.70 317.17,264.23 318.00,263.20 C318.83,262.17 319.28,260.72 320.00,260.00 C320.72,259.28 321.53,259.22 322.30,258.90 C323.07,258.58 323.83,258.58 324.60,258.10 C325.37,257.62 326.15,256.83 326.90,256.00 C327.65,255.17 328.35,253.77 329.10,253.10 C329.85,252.43 330.63,252.18 331.40,252.00 C332.17,251.82 332.93,252.28 333.70,252.00 C334.47,251.72 335.23,251.07 336.00,250.30 C336.77,249.53 337.53,248.07 338.30,247.40 C339.07,246.73 339.83,246.48 340.60,246.30 C341.37,246.12 342.15,246.50 342.90,246.30 C343.65,246.10 344.35,245.77 345.10,245.10 C345.85,244.43 346.73,243.05 347.40,242.30 C348.07,241.55 348.52,240.98 349.10,240.60 C349.68,240.22 350.23,240.00 350.90,240.00 C351.57,240.00 352.35,240.42 353.10,240.60 C353.85,240.78 354.63,240.72 355.40,241.10 C356.17,241.48 357.00,242.38 357.70,242.90 C358.40,243.42 359.07,243.73 359.60,244.20 C360.13,244.67 360.47,244.87 360.90,245.70 C361.33,246.53 361.77,248.38 362.20,249.20 C362.63,250.02 362.95,250.53 363.50,250.60 C364.05,250.67 364.85,250.08 365.50,249.60 C366.15,249.12 366.75,248.42 367.40,247.70 C368.05,246.98 368.75,245.92 369.40,245.30 C370.05,244.68 370.65,244.25 371.30,244.00 C371.95,243.75 372.63,243.80 373.30,243.80 C373.97,243.80 374.65,244.22 375.30,244.00 C375.95,243.78 376.55,243.20 377.20,242.50 C377.85,241.80 378.55,240.50 379.20,239.80 C379.85,239.10 380.45,238.85 381.10,238.30 C381.75,237.75 382.47,237.32 383.10,236.50 C383.73,235.68 384.12,234.57 384.90,233.40 C385.68,232.23 386.98,230.40 387.80,229.50 C388.62,228.60 389.13,228.40 389.80,228.00 C390.47,227.60 391.15,227.58 391.80,227.10 C392.45,226.62 393.05,225.85 393.70,225.10 C394.35,224.35 395.12,223.50 395.70,222.60 C396.28,221.70 396.63,220.52 397.20,219.70 C397.77,218.88 398.45,218.18 399.10,217.70 C399.75,217.22 400.45,217.12 401.10,216.80 C401.75,216.48 402.35,216.47 403.00,215.80 C403.65,215.13 404.33,213.87 405.00,212.80 C405.67,211.73 406.35,210.37 407.00,209.40 C407.65,208.43 408.35,207.72 408.90,207.00 C409.45,206.28 409.75,205.68 410.30,205.10 C410.85,204.52 411.55,204.20 412.20,203.50 C412.85,202.80 413.57,202.07 414.20,200.90 C414.83,199.73 415.37,197.57 416.00,196.50 C416.63,195.43 417.33,195.05 418.00,194.50 C418.67,193.95 419.33,193.57 420.00,193.20 C420.67,192.83 421.33,192.78 422.00,192.30 C422.67,191.82 423.33,191.15 424.00,190.30 C424.67,189.45 425.33,188.12 426.00,187.20 C426.67,186.28 427.33,185.35 428.00,184.80 C428.67,184.25 429.28,184.02 430.00,183.90 C430.72,183.78 431.53,183.87 432.30,184.10 C433.07,184.33 433.97,184.93 434.60,185.30 C435.23,185.67 435.85,186.13 436.10,186.30" fill="none" stroke="#ff7f50" stroke-width="3.6" stroke-linejoin="round" stroke-linecap="butt"/>
<path d="M272.90,271.70 C273.22,270.45 274.15,266.38 274.80,264.20 C275.45,262.02 275.98,260.07 276.80,258.60 C277.62,257.13 278.57,256.17 279.70,255.40 C280.83,254.63 282.28,254.17 283.60,254.00 C284.92,253.83 286.28,254.00 287.60,254.40 C288.92,254.80 290.20,255.72 291.50,256.40 C292.80,257.08 294.10,257.95 295.40,258.50 C296.70,259.05 297.67,259.33 299.30,259.70 C300.93,260.07 303.23,260.15 305.20,260.70 C307.17,261.25 309.13,262.30 311.10,263.00 C313.07,263.70 315.03,264.42 317.00,264.90 C318.97,265.38 321.40,265.70 322.90,265.90 C324.40,266.10 324.52,266.10 326.00,266.10 C327.48,266.10 329.87,266.08 331.80,265.90 C333.73,265.72 335.65,265.38 337.60,265.00 C339.55,264.62 341.53,264.12 343.50,263.60 C345.47,263.08 347.43,262.55 349.40,261.90 C351.37,261.25 353.07,260.78 355.30,259.70 C357.53,258.62 360.67,256.63 362.80,255.40 C364.93,254.17 366.13,253.42 368.10,252.30 C370.07,251.18 372.43,249.98 374.60,248.70 C376.77,247.42 378.92,246.02 381.10,244.60 C383.28,243.18 385.77,241.72 387.70,240.20 C389.63,238.68 390.72,237.42 392.70,235.50 C394.68,233.58 397.47,230.88 399.60,228.70 C401.73,226.52 403.77,224.38 405.50,222.40 C407.23,220.42 408.48,218.78 410.00,216.80 C411.52,214.82 413.13,212.67 414.60,210.50 C416.07,208.33 417.43,205.85 418.80,203.80 C420.17,201.75 421.32,200.17 422.80,198.20 C424.28,196.23 426.22,193.75 427.70,192.00 C429.18,190.25 430.38,188.90 431.70,187.70 C433.02,186.50 434.95,185.28 435.60,184.80" fill="none" stroke="#2e8b57" stroke-width="3.6" stroke-linejoin="round" stroke-linecap="butt"/>
</g>
<line x1="262.90" y1="186.50" x2="265.50" y2="186.50" stroke="#000" stroke-width="0.8"/>
<text x="261.30" y="189.85" font-family='"Liberation Sans", sans-serif' font-size="9.3" text-anchor="end" font-weight="normal" font-style="normal" fill="#000" >1.0</text>
<line x1="262.90" y1="208.70" x2="265.50" y2="208.70" stroke="#000" stroke-width="0.8"/>
<text x="261.30" y="212.05" font-family='"Liberation Sans", sans-serif' font-size="9.3" text-anchor="end" font-weight="normal" font-style="normal" fill="#000" >0.5</text>
<line x1="262.90" y1="230.90" x2="265.50" y2="230.90" stroke="#000" stroke-width="0.8"/>
<text x="261.30" y="234.25" font-family='"Liberation Sans", sans-serif' font-size="9.3" text-anchor="end" font-weight="normal" font-style="normal" fill="#000" >0.0</text>
<line x1="262.90" y1="253.10" x2="265.50" y2="253.10" stroke="#000" stroke-width="0.8"/>
<text x="261.30" y="256.45" font-family='"Liberation Sans", sans-serif' font-size="9.3" text-anchor="end" font-weight="normal" font-style="normal" fill="#000" >−0.5</text>
<line x1="262.90" y1="275.30" x2="265.50" y2="275.30" stroke="#000" stroke-width="0.8"/>
<text x="261.30" y="278.65" font-family='"Liberation Sans", sans-serif' font-size="9.3" text-anchor="end" font-weight="normal" font-style="normal" fill="#000" >−1.0</text>
<line x1="273.55" y1="283.00" x2="273.55" y2="285.60" stroke="#000" stroke-width="0.8"/>
<text x="273.55" y="292.60" font-family='"Liberation Sans", sans-serif' font-size="9.3" text-anchor="middle" font-weight="normal" font-style="normal" fill="#000" >22.0</text>
<line x1="300.38" y1="283.00" x2="300.38" y2="285.60" stroke="#000" stroke-width="0.8"/>
<text x="300.38" y="292.60" font-family='"Liberation Sans", sans-serif' font-size="9.3" text-anchor="middle" font-weight="normal" font-style="normal" fill="#000" >22.5</text>
<line x1="327.22" y1="283.00" x2="327.22" y2="285.60" stroke="#000" stroke-width="0.8"/>
<text x="327.22" y="292.60" font-family='"Liberation Sans", sans-serif' font-size="9.3" text-anchor="middle" font-weight="normal" font-style="normal" fill="#000" >23.0</text>
<line x1="354.05" y1="283.00" x2="354.05" y2="285.60" stroke="#000" stroke-width="0.8"/>
<text x="354.05" y="292.60" font-family='"Liberation Sans", sans-serif' font-size="9.3" text-anchor="middle" font-weight="normal" font-style="normal" fill="#000" >23.5</text>
<line x1="380.88" y1="283.00" x2="380.88" y2="285.60" stroke="#000" stroke-width="0.8"/>
<text x="380.88" y="292.60" font-family='"Liberation Sans", sans-serif' font-size="9.3" text-anchor="middle" font-weight="normal" font-style="normal" fill="#000" >24.0</text>
<line x1="407.72" y1="283.00" x2="407.72" y2="285.60" stroke="#000" stroke-width="0.8"/>
<text x="407.72" y="292.60" font-family='"Liberation Sans", sans-serif' font-size="9.3" text-anchor="middle" font-weight="normal" font-style="normal" fill="#000" >24.5</text>
<line x1="434.55" y1="283.00" x2="434.55" y2="285.60" stroke="#000" stroke-width="0.8"/>
<text x="434.55" y="292.60" font-family='"Liberation Sans", sans-serif' font-size="9.3" text-anchor="middle" font-weight="normal" font-style="normal" fill="#000" >25.0</text>
<rect x="265.50" y="167.30" width="177.10" height="115.70" fill="none" stroke="#000" stroke-width="1.1"/>
<text x="355.00" y="304.20" font-family='"Liberation Sans", sans-serif' font-size="11.3" text-anchor="middle" font-weight="normal" font-style="normal" fill="#000" >Time</text>
<g transform="translate(240.5,228.3) rotate(-90)"><text x="0" y="0" font-family='"Liberation Serif", serif' font-size="13" font-style="italic" text-anchor="middle" fill="#111" stroke="#111" stroke-width="0.35">u<tspan font-size="8.6" font-style="normal" dy="1.1">1</tspan></text></g>
<rect x="269.4" y="171.2" width="65.6" height="25.6" rx="1.8" fill="#fff" fill-opacity="0.85" stroke="#d8d8d8" stroke-width="0.9"/>
<line x1="270.9" y1="178.1" x2="290.1" y2="178.1" stroke="#ff7f50" stroke-width="3.6"/>
<line x1="270.9" y1="189.5" x2="290.1" y2="189.5" stroke="#2e8b57" stroke-width="3.6"/>
<text x="294.60" y="180.90" font-family='"Liberation Sans", sans-serif' font-size="8.9" text-anchor="start" font-weight="normal" font-style="normal" fill="#000" >True</text>
<text x="294.60" y="192.60" font-family='"Liberation Sans", sans-serif' font-size="8.9" text-anchor="start" font-weight="normal" font-style="normal" fill="#000" >Predicted</text>
<text x="463.90" y="174.00" font-family='"Liberation Sans", sans-serif' font-size="15" text-anchor="start" font-weight="bold" font-style="normal" fill="#000" >e</text>
<defs><clipPath id="ce"><rect x="504.3" y="167.3" width="176.7" height="115.5"/></clipPath></defs>
<g clip-path="url(#ce)">
<polyline points="512.33,228.13 513.67,230.43 515.01,231.88 516.35,232.75 517.69,233.28 519.02,233.86 520.36,234.48 521.70,235.25 523.04,235.55 524.38,235.13 525.72,233.95 527.06,232.46 528.40,231.57 529.73,231.47 531.07,231.30 532.41,230.88 533.75,229.93 535.09,228.14 536.43,226.11 537.77,224.68 539.10,224.41 540.44,224.87 541.78,225.61 543.12,226.26 544.46,226.87 545.80,227.68 547.14,228.68 548.48,230.26 549.81,232.13 551.15,234.42 552.49,235.32 553.83,235.21 555.17,234.59 556.51,233.47 557.85,232.28 559.18,230.95 560.52,229.96 561.86,229.35 563.20,229.40 564.54,229.53 565.88,229.03 567.22,228.46 568.55,227.75 569.89,227.67 571.23,227.89 572.57,228.00 573.91,228.01 575.25,227.73 576.59,227.56 577.92,227.52 579.26,227.83 580.60,228.24 581.94,228.80 583.28,229.17 584.62,229.39 585.96,229.06 587.30,228.72 588.63,228.45 589.97,229.68 591.31,230.83 592.65,231.91 593.99,232.67 595.33,233.43 596.67,234.24 598.00,235.43 599.34,236.88 600.68,240.04 602.02,243.52 603.36,246.40 604.70,248.01 606.04,248.92 607.37,249.42 608.71,249.50 610.05,249.44 611.39,249.43 612.73,250.20 614.07,250.94 615.41,251.54 616.75,251.47 618.08,251.32 619.42,251.06 620.76,251.64 622.10,252.50 623.44,253.72 624.78,254.66 626.12,255.08 627.45,255.23 628.79,255.13 630.13,255.21 631.47,255.33 632.81,255.86 634.15,256.05 635.49,255.90 636.82,255.27 638.16,254.54 639.50,254.69 640.84,254.84 642.18,254.91 643.52,254.03 644.86,252.65 646.20,250.78 647.53,249.99 648.87,249.61 650.21,249.28 651.55,248.51 652.89,246.69 654.23,244.99 655.57,243.37 656.90,242.58 658.24,241.92 659.58,241.39 660.92,241.02 662.26,240.83 663.60,240.17 664.94,239.31 666.27,237.65 667.61,237.07 668.95,237.04 670.29,237.25 671.63,237.36 672.97,237.45" fill="none" stroke="#bcbd22" stroke-opacity="0.3" stroke-width="1" stroke-linejoin="round"/>
<polyline points="512.33,228.05 513.67,230.34 515.01,231.77 516.35,232.61 517.69,233.12 519.02,233.67 520.36,234.27 521.70,235.01 523.04,235.29 524.38,234.85 525.72,233.64 527.06,232.12 528.40,231.20 529.73,231.07 531.07,230.88 532.41,230.43 533.75,229.45 535.09,227.63 536.43,225.57 537.77,224.11 539.10,223.81 540.44,224.24 541.78,224.95 543.12,225.57 544.46,226.15 545.80,226.93 547.14,227.90 548.48,229.45 549.81,231.29 551.15,233.55 552.49,234.42 553.83,234.28 555.17,233.63 556.51,232.47 557.85,231.25 559.18,229.88 560.52,228.84 561.86,228.18 563.20,228.17 564.54,228.24 565.88,227.68 567.22,227.04 568.55,226.26 569.89,226.11 571.23,226.26 572.57,226.30 573.91,226.25 575.25,225.89 576.59,225.66 577.92,225.54 579.26,225.77 580.60,226.10 581.94,226.58 583.28,226.86 584.62,226.99 585.96,226.57 587.30,226.15 588.63,225.81 589.97,226.96 591.31,228.04 592.65,229.07 593.99,229.77 595.33,230.48 596.67,231.24 598.00,232.38 599.34,233.78 600.68,236.89 602.02,240.33 603.36,243.16 604.70,244.72 606.04,245.59 607.37,246.05 608.71,246.07 610.05,245.97 611.39,245.92 612.73,246.64 614.07,247.33 615.41,247.89 616.75,247.77 618.08,247.57 619.42,247.25 620.76,247.78 622.10,248.57 623.44,249.72 624.78,250.59 626.12,250.93 627.45,250.99 628.79,250.83 630.13,250.84 631.47,250.91 632.81,251.41 634.15,251.58 635.49,251.42 636.82,250.79 638.16,250.08 639.50,250.25 640.84,250.43 642.18,250.53 643.52,249.69 644.86,248.37 646.20,246.58 647.53,245.88 648.87,245.60 650.21,245.39 651.55,244.74 652.89,243.06 654.23,241.50 655.57,240.02 656.90,239.37 658.24,238.84 659.58,238.46 660.92,238.23 662.26,238.18 663.60,237.66 664.94,236.94 666.27,235.43 667.61,234.98 668.95,235.10 670.29,235.44 671.63,235.68 672.97,235.90" fill="none" stroke="#2ca02c" stroke-opacity="0.3" stroke-width="1" stroke-linejoin="round"/>
<polyline points="512.33,227.97 513.67,230.24 515.01,231.65 516.35,232.48 517.69,232.96 519.02,233.49 520.36,234.06 521.70,234.78 523.04,235.03 524.38,234.56 525.72,233.33 527.06,231.78 528.40,230.84 529.73,230.68 531.07,230.46 532.41,229.98 533.75,228.97 535.09,227.12 536.43,225.03 537.77,223.54 539.10,223.21 540.44,223.61 541.78,224.29 543.12,224.88 544.46,225.43 545.80,226.18 547.14,227.12 548.48,228.64 549.81,230.45 551.15,232.68 552.49,233.52 553.83,233.35 555.17,232.67 556.51,231.48 557.85,230.22 559.18,228.80 560.52,227.71 561.86,227.01 563.20,226.94 564.54,226.96 565.88,226.32 567.22,225.62 568.55,224.77 569.89,224.55 571.23,224.63 572.57,224.61 573.91,224.48 575.25,224.05 576.59,223.75 577.92,223.56 579.26,223.71 580.60,223.95 581.94,224.35 583.28,224.54 584.62,224.59 585.96,224.09 587.30,223.58 588.63,223.16 589.97,224.25 591.31,225.26 592.65,226.22 593.99,226.87 595.33,227.53 596.67,228.24 598.00,229.33 599.34,230.68 600.68,233.75 602.02,237.14 603.36,239.92 604.70,241.44 606.04,242.26 607.37,242.67 608.71,242.65 610.05,242.51 611.39,242.40 612.73,243.09 614.07,243.73 615.41,244.24 616.75,244.07 618.08,243.82 619.42,243.45 620.76,243.91 622.10,244.64 623.44,245.72 624.78,246.51 626.12,246.78 627.45,246.76 628.79,246.52 630.13,246.48 631.47,246.50 632.81,246.96 634.15,247.11 635.49,246.94 636.82,246.31 638.16,245.61 639.50,245.81 640.84,246.01 642.18,246.14 643.52,245.36 644.86,244.10 646.20,242.38 647.53,241.77 648.87,241.59 650.21,241.49 651.55,240.98 652.89,239.43 654.23,238.01 655.57,236.67 656.90,236.16 658.24,235.77 659.58,235.53 660.92,235.44 662.26,235.53 663.60,235.15 664.94,234.58 666.27,233.20 667.61,232.90 668.95,233.15 670.29,233.63 671.63,234.01 672.97,234.35" fill="none" stroke="#e377c2" stroke-opacity="0.3" stroke-width="1" stroke-linejoin="round"/>
<polyline points="512.33,227.89 513.67,230.14 515.01,231.54 516.35,232.34 517.69,232.80 519.02,233.30 520.36,233.85 521.70,234.54 523.04,234.77 524.38,234.28 525.72,233.02 527.06,231.45 528.40,230.47 529.73,230.29 531.07,230.04 532.41,229.53 533.75,228.49 535.09,226.61 536.43,224.49 537.77,222.97 539.10,222.61 540.44,222.98 541.78,223.63 543.12,224.19 544.46,224.71 545.80,225.43 547.14,226.34 548.48,227.83 549.81,229.61 551.15,231.81 552.49,232.62 553.83,232.42 555.17,231.71 556.51,230.49 557.85,229.19 559.18,227.73 560.52,226.59 561.86,225.84 563.20,225.71 564.54,225.67 565.88,224.97 567.22,224.20 568.55,223.28 569.89,222.99 571.23,223.00 572.57,222.91 573.91,222.72 575.25,222.22 576.59,221.84 577.92,221.57 579.26,221.65 580.60,221.81 581.94,222.13 583.28,222.23 584.62,222.19 585.96,221.60 587.30,221.02 588.63,220.52 589.97,221.53 591.31,222.48 592.65,223.38 593.99,223.97 595.33,224.57 596.67,225.24 598.00,226.29 599.34,227.59 600.68,230.61 602.02,233.95 603.36,236.68 604.70,238.16 606.04,238.93 607.37,239.30 608.71,239.23 610.05,239.04 611.39,238.89 612.73,239.53 614.07,240.12 615.41,240.59 616.75,240.38 618.08,240.07 619.42,239.64 620.76,240.05 622.10,240.71 623.44,241.72 624.78,242.44 626.12,242.62 627.45,242.53 628.79,242.22 630.13,242.11 631.47,242.09 632.81,242.51 634.15,242.64 635.49,242.46 636.82,241.83 638.16,241.15 639.50,241.37 640.84,241.59 642.18,241.76 643.52,241.02 644.86,239.82 646.20,238.18 647.53,237.65 648.87,237.58 650.21,237.60 651.55,237.21 652.89,235.80 654.23,234.52 655.57,233.32 656.90,232.95 658.24,232.70 659.58,232.59 660.92,232.65 662.26,232.88 663.60,232.64 664.94,232.21 666.27,230.98 667.61,230.82 668.95,231.21 670.29,231.83 671.63,232.33 672.97,232.80" fill="none" stroke="#1f77b4" stroke-opacity="0.3" stroke-width="1" stroke-linejoin="round"/>
<polyline points="512.33,228.03 513.67,230.32 515.01,231.77 516.35,232.63 517.69,233.15 519.02,233.72 520.36,234.33 521.70,235.09 523.04,235.39 524.38,234.96 525.72,233.77 527.06,232.26 528.40,231.36 529.73,231.25 531.07,231.07 532.41,230.63 533.75,229.66 535.09,227.85 536.43,225.81 537.77,224.37 539.10,224.07 540.44,224.52 541.78,225.24 543.12,225.87 544.46,226.47 545.80,227.26 547.14,228.24 548.48,229.81 549.81,231.66 551.15,233.94 552.49,234.82 553.83,234.69 555.17,234.05 556.51,232.87 557.85,231.57 559.18,230.05 560.52,228.81 561.86,227.90 563.20,227.57 564.54,227.27 565.88,226.28 567.22,225.17 568.55,223.93 569.89,223.30 571.23,222.98 572.57,222.56 573.91,222.04 575.25,221.21 576.59,220.49 577.92,219.87 579.26,219.59 580.60,219.38 581.94,219.32 583.28,219.04 584.62,218.59 585.96,217.60 587.30,216.65 588.63,215.81 589.97,216.49 591.31,217.13 592.65,217.74 593.99,218.06 595.33,218.41 596.67,218.83 598.00,219.63 599.34,220.68 600.68,223.44 602.02,226.53 603.36,229.02 604.70,230.25 606.04,230.80 607.37,230.95 608.71,230.69 610.05,230.31 611.39,229.98 612.73,230.46 614.07,230.90 615.41,231.23 616.75,230.86 618.08,230.38 619.42,229.75 620.76,229.93 622.10,230.35 623.44,231.09 624.78,231.52 626.12,231.39 627.45,230.96 628.79,230.38 630.13,230.06 631.47,229.90 632.81,230.26 634.15,230.39 635.49,230.29 636.82,229.81 638.16,229.34 639.50,229.83 640.84,230.31 642.18,230.78 643.52,230.40 644.86,229.61 646.20,228.44 647.53,228.44 648.87,228.95 650.21,229.62 651.55,229.93 652.89,229.26 654.23,228.71 655.57,228.17 656.90,228.37 658.24,228.58 659.58,228.83 660.92,229.14 662.26,229.54 663.60,229.34 664.94,228.87 666.27,227.51 667.61,227.24 668.95,227.53 670.29,228.09 671.63,228.57 672.97,229.05" fill="none" stroke="#ff7f0e" stroke-opacity="0.3" stroke-width="1" stroke-linejoin="round"/>
<polyline points="512.33,227.99 513.67,230.28 515.01,231.71 516.35,232.56 517.69,233.06 519.02,233.62 520.36,234.22 521.70,234.97 523.04,235.25 524.38,234.81 525.72,233.60 527.06,232.08 528.40,231.17 529.73,231.03 531.07,230.84 532.41,230.39 533.75,229.40 535.09,227.58 536.43,225.52 537.77,224.06 539.10,223.75 540.44,224.18 541.78,224.89 543.12,225.50 544.46,226.08 545.80,226.86 547.14,227.82 548.48,229.38 549.81,231.21 551.15,233.47 552.49,234.34 553.83,234.19 555.17,233.54 556.51,232.34 557.85,231.02 559.18,229.49 560.52,228.24 561.86,227.32 563.20,226.99 564.54,226.69 565.88,225.69 567.22,224.58 568.55,223.33 569.89,222.70 571.23,222.39 572.57,221.96 573.91,221.44 575.25,220.61 576.59,219.88 577.92,219.26 579.26,218.97 580.60,218.76 581.94,218.69 583.28,218.41 584.62,217.95 585.96,216.97 587.30,216.01 588.63,215.16 589.97,215.84 591.31,216.48 592.65,217.08 593.99,217.40 595.33,217.75 596.67,218.17 598.00,218.97 599.34,220.02 600.68,222.78 602.02,225.87 603.36,228.36 604.70,229.59 606.04,230.14 607.37,230.28 608.71,230.02 610.05,229.63 611.39,229.31 612.73,229.78 614.07,230.22 615.41,230.53 616.75,230.16 618.08,229.67 619.42,229.03 620.76,229.21 622.10,229.62 623.44,230.35 624.78,230.77 626.12,230.64 627.45,230.20 628.79,229.61 630.13,229.29 631.47,229.12 632.81,229.46 634.15,229.59 635.49,229.48 636.82,228.99 638.16,228.52 639.50,228.99 640.84,229.46 642.18,229.92 643.52,229.53 644.86,228.75 646.20,227.57 647.53,227.57 648.87,228.07 650.21,228.73 651.55,229.04 652.89,228.37 654.23,227.83 655.57,227.29 656.90,227.50 658.24,227.73 659.58,228.02 660.92,228.36 662.26,228.79 663.60,228.65 664.94,228.23 666.27,226.94 667.61,226.72 668.95,227.07 670.29,227.68 671.63,228.21 672.97,228.74" fill="none" stroke="#bcbd22" stroke-opacity="0.3" stroke-width="1" stroke-linejoin="round"/>
<polyline points="512.33,227.95 513.67,230.23 515.01,231.65 516.35,232.49 517.69,232.98 519.02,233.52 520.36,234.11 521.70,234.84 523.04,235.11 524.38,234.66 525.72,233.44 527.06,231.90 528.40,230.97 529.73,230.82 531.07,230.62 532.41,230.15 533.75,229.14 535.09,227.31 536.43,225.23 537.77,223.76 539.10,223.43 540.44,223.84 541.78,224.53 543.12,225.13 544.46,225.69 545.80,226.46 547.14,227.41 548.48,228.95 549.81,230.76 551.15,233.01 552.49,233.85 553.83,233.69 555.17,233.02 556.51,231.81 557.85,230.48 559.18,228.94 560.52,227.68 561.86,226.75 563.20,226.41 564.54,226.10 565.88,225.10 567.22,223.99 568.55,222.74 569.89,222.11 571.23,221.79 572.57,221.36 573.91,220.84 575.25,220.00 576.59,219.27 577.92,218.65 579.26,218.36 580.60,218.14 581.94,218.07 583.28,217.78 584.62,217.32 585.96,216.33 587.30,215.37 588.63,214.51 589.97,215.19 591.31,215.82 592.65,216.43 593.99,216.74 595.33,217.09 596.67,217.51 598.00,218.31 599.34,219.35 600.68,222.12 602.02,225.21 603.36,227.70 604.70,228.92 606.04,229.47 607.37,229.62 608.71,229.35 610.05,228.96 611.39,228.63 612.73,229.09 614.07,229.53 615.41,229.83 616.75,229.46 618.08,228.96 619.42,228.32 620.76,228.48 622.10,228.89 623.44,229.61 624.78,230.03 626.12,229.88 627.45,229.45 628.79,228.84 630.13,228.51 631.47,228.33 632.81,228.67 634.15,228.79 635.49,228.67 636.82,228.17 638.16,227.69 639.50,228.15 640.84,228.62 642.18,229.07 643.52,228.67 644.86,227.88 646.20,226.69 647.53,226.69 648.87,227.19 650.21,227.85 651.55,228.16 652.89,227.49 654.23,226.95 655.57,226.42 656.90,226.64 658.24,226.89 659.58,227.20 660.92,227.57 662.26,228.05 663.60,227.95 664.94,227.59 666.27,226.36 667.61,226.20 668.95,226.61 670.29,227.27 671.63,227.85 672.97,228.43" fill="none" stroke="#8c564b" stroke-opacity="0.3" stroke-width="1" stroke-linejoin="round"/>
<polyline points="512.33,227.91 513.67,230.18 515.01,231.59 516.35,232.42 517.69,232.90 519.02,233.43 520.36,234.00 521.70,234.72 523.04,234.97 524.38,234.50 525.72,233.27 527.06,231.72 528.40,230.77 529.73,230.61 531.07,230.39 532.41,229.91 533.75,228.89 535.09,227.03 536.43,224.94 537.77,223.45 539.10,223.11 540.44,223.50 541.78,224.18 543.12,224.76 544.46,225.31 545.80,226.06 547.14,226.99 548.48,228.51 549.81,230.31 551.15,232.54 552.49,233.37 553.83,233.20 555.17,232.51 556.51,231.28 557.85,229.94 559.18,228.38 560.52,227.11 561.86,226.18 563.20,225.83 564.54,225.52 565.88,224.51 567.22,223.40 568.55,222.15 569.89,221.51 571.23,221.19 572.57,220.76 573.91,220.23 575.25,219.39 576.59,218.66 577.92,218.04 579.26,217.74 580.60,217.52 581.94,217.44 583.28,217.15 584.62,216.68 585.96,215.69 587.30,214.72 588.63,213.87 589.97,214.54 591.31,215.17 592.65,215.77 593.99,216.08 595.33,216.43 596.67,216.85 598.00,217.64 599.34,218.69 600.68,221.46 602.02,224.54 603.36,227.03 604.70,228.26 606.04,228.81 607.37,228.95 608.71,228.68 610.05,228.29 611.39,227.95 612.73,228.41 614.07,228.84 615.41,229.14 616.75,228.75 618.08,228.25 619.42,227.60 620.76,227.76 622.10,228.15 623.44,228.87 624.78,229.28 626.12,229.13 627.45,228.69 628.79,228.08 630.13,227.74 631.47,227.55 632.81,227.88 634.15,227.99 635.49,227.86 636.82,227.35 638.16,226.86 639.50,227.31 640.84,227.77 642.18,228.22 643.52,227.81 644.86,227.01 646.20,225.82 647.53,225.81 648.87,226.31 650.21,226.97 651.55,227.28 652.89,226.61 654.23,226.06 655.57,225.54 656.90,225.77 658.24,226.04 659.58,226.38 660.92,226.79 662.26,227.30 663.60,227.26 664.94,226.95 666.27,225.78 667.61,225.68 668.95,226.15 670.29,226.87 671.63,227.50 672.97,228.12" fill="none" stroke="#2ca02c" stroke-opacity="0.3" stroke-width="1" stroke-linejoin="round"/>
<polyline points="512.33,227.87 513.67,230.13 515.01,231.53 516.35,232.35 517.69,232.82 519.02,233.33 520.36,233.89 521.70,234.59 523.04,234.84 524.38,234.35 525.72,233.10 527.06,231.54 528.40,230.58 529.73,230.40 531.07,230.17 532.41,229.67 533.75,228.63 535.09,226.76 536.43,224.65 537.77,223.14 539.10,222.78 540.44,223.16 541.78,223.83 543.12,224.39 544.46,224.92 545.80,225.65 547.14,226.57 548.48,228.08 549.81,229.86 551.15,232.07 552.49,232.89 553.83,232.70 555.17,231.99 556.51,230.75 557.85,229.39 559.18,227.83 560.52,226.55 561.86,225.60 563.20,225.25 564.54,224.93 565.88,223.92 567.22,222.81 568.55,221.55 569.89,220.92 571.23,220.59 572.57,220.16 573.91,219.63 575.25,218.79 576.59,218.05 577.92,217.42 579.26,217.12 580.60,216.90 581.94,216.82 583.28,216.52 584.62,216.05 585.96,215.05 587.30,214.08 588.63,213.22 589.97,213.89 591.31,214.51 592.65,215.11 593.99,215.42 595.33,215.77 596.67,216.19 598.00,216.98 599.34,218.03 600.68,220.79 602.02,223.88 603.36,226.37 604.70,227.60 606.04,228.15 607.37,228.28 608.71,228.01 610.05,227.61 611.39,227.27 612.73,227.73 614.07,228.15 615.41,228.44 616.75,228.05 618.08,227.54 619.42,226.88 620.76,227.03 622.10,227.42 623.44,228.14 624.78,228.54 626.12,228.38 627.45,227.93 628.79,227.31 630.13,226.96 631.47,226.77 632.81,227.09 634.15,227.19 635.49,227.05 636.82,226.53 638.16,226.03 639.50,226.48 640.84,226.92 642.18,227.36 643.52,226.95 644.86,226.14 646.20,224.95 647.53,224.94 648.87,225.43 650.21,226.09 651.55,226.39 652.89,225.72 654.23,225.18 655.57,224.66 656.90,224.91 658.24,225.20 659.58,225.56 660.92,226.00 662.26,226.56 663.60,226.56 664.94,226.31 666.27,225.20 667.61,225.16 668.95,225.69 670.29,226.46 671.63,227.14 672.97,227.81" fill="none" stroke="#17becf" stroke-opacity="0.3" stroke-width="1" stroke-linejoin="round"/>
<polyline points="512.33,227.84 513.67,230.08 515.01,231.47 516.35,232.28 517.69,232.73 519.02,233.23 520.36,233.78 521.70,234.47 523.04,234.70 524.38,234.20 525.72,232.94 527.06,231.36 528.40,230.38 529.73,230.19 531.07,229.94 532.41,229.42 533.75,228.37 535.09,226.48 536.43,224.36 537.77,222.84 539.10,222.46 540.44,222.83 541.78,223.47 543.12,224.02 544.46,224.54 545.80,225.25 547.14,226.15 548.48,227.64 549.81,229.41 551.15,231.61 552.49,232.41 553.83,232.20 555.17,231.48 556.51,230.22 557.85,228.85 559.18,227.27 560.52,225.98 561.86,225.03 563.20,224.67 564.54,224.35 565.88,223.33 567.22,222.22 568.55,220.96 569.89,220.32 571.23,220.00 572.57,219.56 573.91,219.03 575.25,218.18 576.59,217.45 577.92,216.81 579.26,216.51 580.60,216.28 581.94,216.19 583.28,215.89 584.62,215.41 585.96,214.41 587.30,213.44 588.63,212.57 589.97,213.24 591.31,213.86 592.65,214.45 593.99,214.76 595.33,215.11 596.67,215.52 598.00,216.32 599.34,217.37 600.68,220.13 602.02,223.22 603.36,225.71 604.70,226.94 606.04,227.48 607.37,227.62 608.71,227.34 610.05,226.94 611.39,226.60 612.73,227.04 614.07,227.46 615.41,227.75 616.75,227.35 618.08,226.83 619.42,226.17 620.76,226.31 622.10,226.69 623.44,227.40 624.78,227.79 626.12,227.63 627.45,227.17 628.79,226.54 630.13,226.19 631.47,225.99 632.81,226.30 634.15,226.39 635.49,226.24 636.82,225.72 638.16,225.20 639.50,225.64 640.84,226.08 642.18,226.51 643.52,226.09 644.86,225.27 646.20,224.08 647.53,224.06 648.87,224.55 650.21,225.21 651.55,225.51 652.89,224.84 654.23,224.30 655.57,223.78 656.90,224.04 658.24,224.35 659.58,224.74 660.92,225.22 662.26,225.82 663.60,225.87 664.94,225.67 666.27,224.62 667.61,224.64 668.95,225.23 670.29,226.05 671.63,226.78 672.97,227.50" fill="none" stroke="#e377c2" stroke-opacity="0.3" stroke-width="1" stroke-linejoin="round"/>
<polyline points="512.33,227.80 513.67,230.04 515.01,231.42 516.35,232.21 517.69,232.65 519.02,233.14 520.36,233.66 521.70,234.35 523.04,234.56 524.38,234.05 525.72,232.77 527.06,231.18 528.40,230.19 529.73,229.98 531.07,229.71 532.41,229.18 533.75,228.11 535.09,226.21 536.43,224.07 537.77,222.53 539.10,222.14 540.44,222.49 541.78,223.12 543.12,223.65 544.46,224.15 545.80,224.85 547.14,225.73 548.48,227.21 549.81,228.96 551.15,231.14 552.49,231.92 553.83,231.70 555.17,230.96 556.51,229.69 557.85,228.31 559.18,226.72 560.52,225.42 561.86,224.46 563.20,224.09 564.54,223.76 565.88,222.75 567.22,221.63 568.55,220.37 569.89,219.73 571.23,219.40 572.57,218.96 573.91,218.42 575.25,217.58 576.59,216.84 577.92,216.20 579.26,215.89 580.60,215.66 581.94,215.57 583.28,215.26 584.62,214.78 585.96,213.77 587.30,212.79 588.63,211.92 589.97,212.58 591.31,213.20 592.65,213.80 593.99,214.11 595.33,214.45 596.67,214.86 598.00,215.66 599.34,216.70 600.68,219.47 602.02,222.56 603.36,225.05 604.70,226.27 606.04,226.82 607.37,226.95 608.71,226.67 610.05,226.27 611.39,225.92 612.73,226.36 614.07,226.77 615.41,227.05 616.75,226.64 618.08,226.12 619.42,225.45 620.76,225.59 622.10,225.96 623.44,226.66 624.78,227.05 626.12,226.88 627.45,226.41 628.79,225.77 630.13,225.41 631.47,225.20 632.81,225.51 634.15,225.59 635.49,225.43 636.82,224.90 638.16,224.38 639.50,224.80 640.84,225.23 642.18,225.65 643.52,225.23 644.86,224.41 646.20,223.20 647.53,223.18 648.87,223.67 650.21,224.32 651.55,224.63 652.89,223.96 654.23,223.42 655.57,222.91 656.90,223.18 658.24,223.51 659.58,223.92 660.92,224.43 662.26,225.07 663.60,225.17 664.94,225.03 666.27,224.04 667.61,224.12 668.95,224.77 670.29,225.65 671.63,226.43 672.97,227.19" fill="none" stroke="#d62728" stroke-opacity="0.3" stroke-width="1" stroke-linejoin="round"/>
<polyline points="512.33,227.76 513.67,229.99 515.01,231.36 516.35,232.14 517.69,232.57 519.02,233.04 520.36,233.55 521.70,234.22 523.04,234.42 524.38,233.90 525.72,232.61 527.06,231.00 528.40,229.99 529.73,229.77 531.07,229.49 532.41,228.94 533.75,227.86 535.09,225.94 536.43,223.78 537.77,222.23 539.10,221.82 540.44,222.15 541.78,222.76 543.12,223.28 544.46,223.76 545.80,224.45 547.14,225.31 548.48,226.77 549.81,228.51 551.15,230.67 552.49,231.44 553.83,231.20 555.17,230.45 556.51,229.16 557.85,227.76 559.18,226.16 560.52,224.86 561.86,223.88 563.20,223.51 564.54,223.18 565.88,222.16 567.22,221.04 568.55,219.77 569.89,219.13 571.23,218.80 572.57,218.36 573.91,217.82 575.25,216.97 576.59,216.23 577.92,215.58 579.26,215.27 580.60,215.04 581.94,214.94 583.28,214.63 584.62,214.14 585.96,213.13 587.30,212.15 588.63,211.28 589.97,211.93 591.31,212.55 592.65,213.14 593.99,213.45 595.33,213.79 596.67,214.20 598.00,215.00 599.34,216.04 600.68,218.81 602.02,221.90 603.36,224.38 604.70,225.61 606.04,226.15 607.37,226.29 608.71,226.00 610.05,225.60 611.39,225.24 612.73,225.67 614.07,226.08 615.41,226.35 616.75,225.94 618.08,225.41 619.42,224.73 620.76,224.86 622.10,225.23 623.44,225.92 624.78,226.30 626.12,226.12 627.45,225.65 628.79,225.01 630.13,224.64 631.47,224.42 632.81,224.72 634.15,224.79 635.49,224.62 636.82,224.08 638.16,223.55 639.50,223.97 640.84,224.39 642.18,224.80 643.52,224.36 644.86,223.54 646.20,222.33 647.53,222.30 648.87,222.79 650.21,223.44 651.55,223.75 652.89,223.08 654.23,222.53 655.57,222.03 656.90,222.31 658.24,222.66 659.58,223.10 660.92,223.65 662.26,224.33 663.60,224.48 664.94,224.39 666.27,223.46 667.61,223.61 668.95,224.31 670.29,225.24 671.63,226.07 672.97,226.88" fill="none" stroke="#1f77b4" stroke-opacity="0.3" stroke-width="1" stroke-linejoin="round"/>
<polyline points="512.33,227.72 513.67,229.94 515.01,231.30 516.35,232.07 517.69,232.48 519.02,232.95 520.36,233.44 521.70,234.10 523.04,234.28 524.38,233.74 525.72,232.44 527.06,230.82 528.40,229.80 529.73,229.56 531.07,229.26 532.41,228.70 533.75,227.60 535.09,225.66 536.43,223.49 537.77,221.92 539.10,221.50 540.44,221.81 541.78,222.41 543.12,222.91 544.46,223.38 545.80,224.05 547.14,224.90 548.48,226.34 549.81,228.06 551.15,230.21 552.49,230.96 553.83,230.70 555.17,229.93 556.51,228.63 557.85,227.22 559.18,225.61 560.52,224.29 561.86,223.31 563.20,222.93 564.54,222.59 565.88,221.57 567.22,220.45 568.55,219.18 569.89,218.54 571.23,218.20 572.57,217.76 573.91,217.22 575.25,216.36 576.59,215.62 577.92,214.97 579.26,214.66 580.60,214.42 581.94,214.32 583.28,214.00 584.62,213.51 585.96,212.49 587.30,211.50 588.63,210.63 589.97,211.28 591.31,211.90 592.65,212.48 593.99,212.79 595.33,213.12 596.67,213.54 598.00,214.33 599.34,215.38 600.68,218.15 602.02,221.23 603.36,223.72 604.70,224.95 606.04,225.49 607.37,225.62 608.71,225.33 610.05,224.92 611.39,224.56 612.73,224.99 614.07,225.39 615.41,225.66 616.75,225.23 618.08,224.70 619.42,224.01 620.76,224.14 622.10,224.50 623.44,225.18 624.78,225.56 626.12,225.37 627.45,224.89 628.79,224.24 630.13,223.86 631.47,223.64 632.81,223.92 634.15,223.99 635.49,223.81 636.82,223.26 638.16,222.72 639.50,223.13 640.84,223.54 642.18,223.94 643.52,223.50 644.86,222.67 646.20,221.46 647.53,221.43 648.87,221.91 650.21,222.56 651.55,222.86 652.89,222.19 654.23,221.65 655.57,221.15 656.90,221.44 658.24,221.81 659.58,222.28 660.92,222.86 662.26,223.58 663.60,223.78 664.94,223.75 666.27,222.88 667.61,223.09 668.95,223.85 670.29,224.83 671.63,225.71 672.97,226.57" fill="none" stroke="#7f7f7f" stroke-opacity="0.3" stroke-width="1" stroke-linejoin="round"/>
<polyline points="512.33,227.68 513.67,229.89 515.01,231.24 516.35,232.00 517.69,232.40 519.02,232.85 520.36,233.33 521.70,233.97 523.04,234.15 524.38,233.59 525.72,232.27 527.06,230.64 528.40,229.60 529.73,229.35 531.07,229.04 532.41,228.46 533.75,227.34 535.09,225.39 536.43,223.20 537.77,221.62 539.10,221.18 540.44,221.47 541.78,222.06 543.12,222.54 544.46,222.99 545.80,223.64 547.14,224.48 548.48,225.90 549.81,227.60 551.15,229.74 552.49,230.48 553.83,230.20 555.17,229.42 556.51,228.10 557.85,226.68 559.18,225.05 560.52,223.73 561.86,222.74 563.20,222.35 564.54,222.01 565.88,220.98 567.22,219.86 568.55,218.59 569.89,217.94 571.23,217.61 572.57,217.16 573.91,216.61 575.25,215.76 576.59,215.01 577.92,214.36 579.26,214.04 580.60,213.80 581.94,213.69 583.28,213.37 584.62,212.88 585.96,211.85 587.30,210.86 588.63,209.98 589.97,210.63 591.31,211.24 592.65,211.83 593.99,212.13 595.33,212.46 596.67,212.88 598.00,213.67 599.34,214.72 600.68,217.48 602.02,220.57 603.36,223.06 604.70,224.29 606.04,224.82 607.37,224.95 608.71,224.66 610.05,224.25 611.39,223.88 612.73,224.31 614.07,224.70 615.41,224.96 616.75,224.53 618.08,223.99 619.42,223.30 620.76,223.41 622.10,223.77 623.44,224.45 624.78,224.81 626.12,224.62 627.45,224.13 628.79,223.47 630.13,223.09 631.47,222.85 632.81,223.13 634.15,223.19 635.49,223.01 636.82,222.44 638.16,221.89 639.50,222.29 640.84,222.69 642.18,223.09 643.52,222.64 644.86,221.80 646.20,220.58 647.53,220.55 648.87,221.03 650.21,221.68 651.55,221.98 652.89,221.31 654.23,220.77 655.57,220.27 656.90,220.58 658.24,220.97 659.58,221.46 660.92,222.08 662.26,222.84 663.60,223.09 664.94,223.11 666.27,222.30 667.61,222.57 668.95,223.39 670.29,224.43 671.63,225.36 672.97,226.26" fill="none" stroke="#9467bd" stroke-opacity="0.3" stroke-width="1" stroke-linejoin="round"/>
<polyline points="512.33,227.64 513.67,229.84 515.01,231.18 516.35,231.93 517.69,232.32 519.02,232.75 520.36,233.22 521.70,233.85 523.04,234.01 524.38,233.44 525.72,232.11 527.06,230.46 528.40,229.41 529.73,229.14 531.07,228.81 532.41,228.22 533.75,227.08 535.09,225.12 536.43,222.91 537.77,221.31 539.10,220.85 540.44,221.14 541.78,221.70 543.12,222.17 544.46,222.60 545.80,223.24 547.14,224.06 548.48,225.47 549.81,227.15 551.15,229.27 552.49,229.99 553.83,229.70 555.17,228.90 556.51,227.57 557.85,226.13 559.18,224.50 560.52,223.16 561.86,222.16 563.20,221.77 564.54,221.42 565.88,220.39 567.22,219.27 568.55,218.00 569.89,217.35 571.23,217.01 572.57,216.56 573.91,216.01 575.25,215.15 576.59,214.40 577.92,213.75 579.26,213.42 580.60,213.17 581.94,213.07 583.28,212.74 584.62,212.24 585.96,211.21 587.30,210.22 588.63,209.33 589.97,209.98 591.31,210.59 592.65,211.17 593.99,211.47 595.33,211.80 596.67,212.21 598.00,213.01 599.34,214.06 600.68,216.82 602.02,219.91 603.36,222.40 604.70,223.62 606.04,224.16 607.37,224.29 608.71,223.99 610.05,223.58 611.39,223.21 612.73,223.62 614.07,224.01 615.41,224.26 616.75,223.83 618.08,223.28 619.42,222.58 620.76,222.69 622.10,223.04 623.44,223.71 624.78,224.07 626.12,223.87 627.45,223.37 628.79,222.71 630.13,222.31 631.47,222.07 632.81,222.34 634.15,222.39 635.49,222.20 636.82,221.62 638.16,221.07 639.50,221.46 640.84,221.85 642.18,222.24 643.52,221.78 644.86,220.93 646.20,219.71 647.53,219.67 648.87,220.15 650.21,220.80 651.55,221.10 652.89,220.43 654.23,219.88 655.57,219.40 656.90,219.71 658.24,220.12 659.58,220.64 660.92,221.29 662.26,222.10 663.60,222.39 664.94,222.47 666.27,221.72 667.61,222.05 668.95,222.93 670.29,224.02 671.63,225.00 672.97,225.94" fill="none" stroke="#ff7f0e" stroke-opacity="0.3" stroke-width="1" stroke-linejoin="round"/>
<polyline points="512.33,227.60 513.67,229.80 515.01,231.12 516.35,231.86 517.69,232.24 519.02,232.66 520.36,233.11 521.70,233.72 523.04,233.87 524.38,233.29 525.72,231.94 527.06,230.28 528.40,229.21 529.73,228.93 531.07,228.58 532.41,227.98 533.75,226.83 535.09,224.84 536.43,222.62 537.77,221.00 539.10,220.53 540.44,220.80 541.78,221.35 543.12,221.80 544.46,222.22 545.80,222.84 547.14,223.64 548.48,225.03 549.81,226.70 551.15,228.81 552.49,229.51 553.83,229.20 555.17,228.39 556.51,227.04 557.85,225.59 559.18,223.94 560.52,222.60 561.86,221.59 563.20,221.19 564.54,220.84 565.88,219.80 567.22,218.67 568.55,217.40 569.89,216.75 571.23,216.41 572.57,215.96 573.91,215.41 575.25,214.55 576.59,213.79 577.92,213.13 579.26,212.81 580.60,212.55 581.94,212.44 583.28,212.11 584.62,211.61 585.96,210.57 587.30,209.57 588.63,208.68 589.97,209.33 591.31,209.93 592.65,210.51 593.99,210.81 595.33,211.14 596.67,211.55 598.00,212.35 599.34,213.39 600.68,216.16 602.02,219.25 603.36,221.74 604.70,222.96 606.04,223.50 607.37,223.62 608.71,223.32 610.05,222.90 611.39,222.53 612.73,222.94 614.07,223.32 615.41,223.57 616.75,223.12 618.08,222.57 619.42,221.86 620.76,221.97 622.10,222.31 623.44,222.97 624.78,223.32 626.12,223.12 627.45,222.61 628.79,221.94 630.13,221.54 631.47,221.29 632.81,221.55 634.15,221.59 635.49,221.39 636.82,220.81 638.16,220.24 639.50,220.62 640.84,221.00 642.18,221.38 643.52,220.92 644.86,220.07 646.20,218.84 647.53,218.79 648.87,219.27 650.21,219.91 651.55,220.21 652.89,219.55 654.23,219.00 655.57,218.52 656.90,218.85 658.24,219.28 659.58,219.82 660.92,220.51 662.26,221.35 663.60,221.69 664.94,221.83 666.27,221.14 667.61,221.53 668.95,222.46 670.29,223.61 671.63,224.64 672.97,225.63" fill="none" stroke="#bcbd22" stroke-opacity="0.3" stroke-width="1" stroke-linejoin="round"/>
<polyline points="512.33,227.56 513.67,229.75 515.01,231.07 516.35,231.79 517.69,232.15 519.02,232.56 520.36,233.00 521.70,233.60 523.04,233.73 524.38,233.14 525.72,231.78 527.06,230.09 528.40,229.01 529.73,228.72 531.07,228.36 532.41,227.73 533.75,226.57 535.09,224.57 536.43,222.33 537.77,220.70 539.10,220.21 540.44,220.46 541.78,220.99 543.12,221.43 544.46,221.83 545.80,222.44 547.14,223.22 548.48,224.60 549.81,226.25 551.15,228.34 552.49,229.03 553.83,228.71 555.17,227.87 556.51,226.51 557.85,225.05 559.18,223.39 560.52,222.03 561.86,221.02 563.20,220.61 564.54,220.25 565.88,219.22 567.22,218.08 568.55,216.81 569.89,216.16 571.23,215.81 572.57,215.36 573.91,214.81 575.25,213.94 576.59,213.18 577.92,212.52 579.26,212.19 580.60,211.93 581.94,211.82 583.28,211.48 584.62,210.97 585.96,209.94 587.30,208.93 588.63,208.04 589.97,208.67 591.31,209.28 592.65,209.85 593.99,210.15 595.33,210.48 596.67,210.89 598.00,211.68 599.34,212.73 600.68,215.50 602.02,218.59 603.36,221.07 604.70,222.30 606.04,222.83 607.37,222.95 608.71,222.65 610.05,222.23 611.39,221.85 612.73,222.26 614.07,222.63 615.41,222.87 616.75,222.42 618.08,221.86 619.42,221.14 620.76,221.24 622.10,221.58 623.44,222.23 624.78,222.58 626.12,222.36 627.45,221.85 628.79,221.17 630.13,220.76 631.47,220.50 632.81,220.76 634.15,220.79 635.49,220.58 636.82,219.99 638.16,219.41 639.50,219.78 640.84,220.16 642.18,220.53 643.52,220.06 644.86,219.20 646.20,217.96 647.53,217.92 648.87,218.39 650.21,219.03 651.55,219.33 652.89,218.66 654.23,218.12 655.57,217.64 656.90,217.98 658.24,218.43 659.58,219.00 660.92,219.72 662.26,220.61 663.60,221.00 664.94,221.19 666.27,220.56 667.61,221.01 668.95,222.00 670.29,223.21 671.63,224.29 672.97,225.32" fill="none" stroke="#8c564b" stroke-opacity="0.3" stroke-width="1" stroke-linejoin="round"/>
<polyline points="512.33,227.52 513.67,229.70 515.01,231.01 516.35,231.72 517.69,232.07 519.02,232.46 520.36,232.89 521.70,233.48 523.04,233.59 524.38,232.98 525.72,231.61 527.06,229.91 528.40,228.82 529.73,228.51 531.07,228.13 532.41,227.49 533.75,226.31 535.09,224.30 536.43,222.04 537.77,220.39 539.10,219.89 540.44,220.12 541.78,220.64 543.12,221.06 544.46,221.45 545.80,222.03 547.14,222.80 548.48,224.17 549.81,225.80 551.15,227.87 552.49,228.54 553.83,228.21 555.17,227.36 556.51,225.98 557.85,224.51 559.18,222.83 560.52,221.47 561.86,220.44 563.20,220.03 564.54,219.67 565.88,218.63 567.22,217.49 568.55,216.22 569.89,215.56 571.23,215.21 572.57,214.76 573.91,214.20 575.25,213.33 576.59,212.57 577.92,211.91 579.26,211.57 580.60,211.31 581.94,211.19 583.28,210.85 584.62,210.34 585.96,209.30 587.30,208.29 588.63,207.39 589.97,208.02 591.31,208.62 592.65,209.20 593.99,209.49 595.33,209.82 596.67,210.23 598.00,211.02 599.34,212.07 600.68,214.83 602.02,217.92 603.36,220.41 604.70,221.64 606.04,222.17 607.37,222.29 608.71,221.98 610.05,221.56 611.39,221.17 612.73,221.57 614.07,221.94 615.41,222.17 616.75,221.72 618.08,221.15 619.42,220.43 620.76,220.52 622.10,220.84 623.44,221.49 624.78,221.83 626.12,221.61 627.45,221.09 628.79,220.41 630.13,219.99 631.47,219.72 632.81,219.97 634.15,219.99 635.49,219.77 636.82,219.17 638.16,218.58 639.50,218.95 640.84,219.31 642.18,219.67 643.52,219.19 644.86,218.33 646.20,217.09 647.53,217.04 648.87,217.51 650.21,218.15 651.55,218.45 652.89,217.78 654.23,217.24 655.57,216.76 656.90,217.12 658.24,217.58 659.58,218.19 660.92,218.94 662.26,219.86 663.60,220.30 664.94,220.55 666.27,219.98 667.61,220.49 668.95,221.54 670.29,222.80 671.63,223.93 672.97,225.01" fill="none" stroke="#2ca02c" stroke-opacity="0.3" stroke-width="1" stroke-linejoin="round"/>
<polyline points="512.33,227.48 513.67,229.65 515.01,230.95 516.35,231.65 517.69,231.99 519.02,232.37 520.36,232.78 521.70,233.35 523.04,233.46 524.38,232.83 525.72,231.44 527.06,229.73 528.40,228.62 529.73,228.30 531.07,227.91 532.41,227.25 533.75,226.05 535.09,224.02 536.43,221.76 537.77,220.09 539.10,219.57 540.44,219.78 541.78,220.29 543.12,220.69 544.46,221.06 545.80,221.63 547.14,222.39 548.48,223.73 549.81,225.35 551.15,227.41 552.49,228.06 553.83,227.71 555.17,226.84 556.51,225.45 557.85,223.96 559.18,222.28 560.52,220.90 561.86,219.87 563.20,219.45 564.54,219.08 565.88,218.04 567.22,216.90 568.55,215.62 569.89,214.96 571.23,214.62 572.57,214.16 573.91,213.60 575.25,212.73 576.59,211.96 577.92,211.29 579.26,210.96 580.60,210.69 581.94,210.57 583.28,210.22 584.62,209.70 585.96,208.66 587.30,207.64 588.63,206.74 589.97,207.37 591.31,207.97 592.65,208.54 593.99,208.83 595.33,209.16 596.67,209.57 598.00,210.36 599.34,211.41 600.68,214.17 602.02,217.26 603.36,219.75 604.70,220.97 606.04,221.50 607.37,221.62 608.71,221.32 610.05,220.88 611.39,220.50 612.73,220.89 614.07,221.25 615.41,221.48 616.75,221.01 618.08,220.44 619.42,219.71 620.76,219.79 622.10,220.11 623.44,220.76 624.78,221.09 626.12,220.86 627.45,220.33 628.79,219.64 630.13,219.21 631.47,218.94 632.81,219.18 634.15,219.19 635.49,218.96 636.82,218.35 638.16,217.76 639.50,218.11 640.84,218.46 642.18,218.82 643.52,218.33 644.86,217.46 646.20,216.22 647.53,216.16 648.87,216.63 650.21,217.27 651.55,217.57 652.89,216.90 654.23,216.35 655.57,215.89 656.90,216.25 658.24,216.74 659.58,217.37 660.92,218.15 662.26,219.12 663.60,219.61 664.94,219.91 666.27,219.40 667.61,219.97 668.95,221.08 670.29,222.39 671.63,223.57 672.97,224.70" fill="none" stroke="#17becf" stroke-opacity="0.3" stroke-width="1" stroke-linejoin="round"/>
<polyline points="512.33,227.44 513.67,229.60 515.01,230.89 516.35,231.58 517.69,231.91 519.02,232.27 520.36,232.67 521.70,233.23 523.04,233.32 524.38,232.68 525.72,231.28 527.06,229.55 528.40,228.43 529.73,228.09 531.07,227.68 532.41,227.01 533.75,225.80 535.09,223.75 536.43,221.47 537.77,219.78 539.10,219.24 540.44,219.45 541.78,219.93 543.12,220.32 544.46,220.67 545.80,221.23 547.14,221.97 548.48,223.30 549.81,224.90 551.15,226.94 552.49,227.58 553.83,227.21 555.17,226.33 556.51,224.92 557.85,223.42 559.18,221.73 560.52,220.34 561.86,219.30 563.20,218.87 564.54,218.50 565.88,217.45 567.22,216.31 568.55,215.03 569.89,214.37 571.23,214.02 572.57,213.56 573.91,213.00 575.25,212.12 576.59,211.35 577.92,210.68 579.26,210.34 580.60,210.07 581.94,209.94 583.28,209.59 584.62,209.07 585.96,208.02 587.30,207.00 588.63,206.09 589.97,206.72 591.31,207.31 592.65,207.88 593.99,208.17 595.33,208.50 596.67,208.91 598.00,209.70 599.34,210.75 600.68,213.51 602.02,216.60 603.36,219.09 604.70,220.31 606.04,220.84 607.37,220.96 608.71,220.65 610.05,220.21 611.39,219.82 612.73,220.21 614.07,220.56 615.41,220.78 616.75,220.31 618.08,219.73 619.42,218.99 620.76,219.07 622.10,219.38 623.44,220.02 624.78,220.34 626.12,220.11 627.45,219.57 628.79,218.87 630.13,218.44 631.47,218.16 632.81,218.38 634.15,218.39 635.49,218.15 636.82,217.53 638.16,216.93 639.50,217.27 640.84,217.62 642.18,217.96 643.52,217.47 644.86,216.59 646.20,215.34 647.53,215.29 648.87,215.75 650.21,216.39 651.55,216.68 652.89,216.01 654.23,215.47 655.57,215.01 656.90,215.39 658.24,215.89 659.58,216.55 660.92,217.37 662.26,218.38 663.60,218.91 664.94,219.27 666.27,218.83 667.61,219.46 668.95,220.62 670.29,221.99 671.63,223.22 672.97,224.39" fill="none" stroke="#e377c2" stroke-opacity="0.3" stroke-width="1" stroke-linejoin="round"/>
<polyline points="512.33,227.40 513.67,229.56 515.01,230.83 516.35,231.51 517.69,231.82 519.02,232.17 520.36,232.56 521.70,233.10 523.04,233.18 524.38,232.53 525.72,231.11 527.06,229.37 528.40,228.23 529.73,227.88 531.07,227.45 532.41,226.77 533.75,225.54 535.09,223.48 536.43,221.18 537.77,219.48 539.10,218.92 540.44,219.11 541.78,219.58 543.12,219.95 544.46,220.29 545.80,220.83 547.14,221.55 548.48,222.86 549.81,224.45 551.15,226.47 552.49,227.10 553.83,226.71 555.17,225.81 556.51,224.39 557.85,222.88 559.18,221.17 560.52,219.77 561.86,218.72 563.20,218.29 564.54,217.91 565.88,216.86 567.22,215.72 568.55,214.44 569.89,213.77 571.23,213.42 572.57,212.96 573.91,212.39 575.25,211.52 576.59,210.74 577.92,210.07 579.26,209.72 580.60,209.45 581.94,209.32 583.28,208.96 584.62,208.43 585.96,207.38 587.30,206.36 588.63,205.44 589.97,206.07 591.31,206.66 592.65,207.22 593.99,207.51 595.33,207.84 596.67,208.24 598.00,209.04 599.34,210.08 600.68,212.85 602.02,215.94 603.36,218.43 604.70,219.65 606.04,220.18 607.37,220.29 608.71,219.98 610.05,219.54 611.39,219.14 612.73,219.52 614.07,219.87 615.41,220.08 616.75,219.61 618.08,219.02 619.42,218.28 620.76,218.34 622.10,218.65 623.44,219.28 624.78,219.60 626.12,219.36 627.45,218.82 628.79,218.11 630.13,217.66 631.47,217.37 632.81,217.59 634.15,217.59 635.49,217.34 636.82,216.71 638.16,216.10 639.50,216.44 640.84,216.77 642.18,217.11 643.52,216.61 644.86,215.73 646.20,214.47 647.53,214.41 648.87,214.87 650.21,215.50 651.55,215.80 652.89,215.13 654.23,214.59 655.57,214.13 656.90,214.52 658.24,215.05 659.58,215.73 660.92,216.58 662.26,217.63 663.60,218.22 664.94,218.63 666.27,218.25 667.61,218.94 668.95,220.16 670.29,221.58 671.63,222.86 672.97,224.08" fill="none" stroke="#d62728" stroke-opacity="0.3" stroke-width="1" stroke-linejoin="round"/>
<polyline points="512.33,227.37 513.67,229.51 515.01,230.77 516.35,231.44 517.69,231.74 519.02,232.08 520.36,232.45 521.70,232.98 523.04,233.04 524.38,232.38 525.72,230.94 527.06,229.19 528.40,228.04 529.73,227.66 531.07,227.23 532.41,226.53 533.75,225.28 535.09,223.20 536.43,220.89 537.77,219.17 539.10,218.60 540.44,218.77 541.78,219.22 543.12,219.58 544.46,219.90 545.80,220.42 547.14,221.13 548.48,222.43 549.81,224.00 551.15,226.01 552.49,226.61 553.83,226.21 555.17,225.30 556.51,223.86 557.85,222.33 559.18,220.62 560.52,219.21 561.86,218.15 563.20,217.71 564.54,217.33 565.88,216.27 567.22,215.13 568.55,213.84 569.89,213.18 571.23,212.82 572.57,212.36 573.91,211.79 575.25,210.91 576.59,210.13 577.92,209.46 579.26,209.11 580.60,208.83 581.94,208.69 583.28,208.33 584.62,207.80 585.96,206.74 587.30,205.71 588.63,204.80 589.97,205.42 591.31,206.00 592.65,206.57 593.99,206.85 595.33,207.18 596.67,207.58 598.00,208.37 599.34,209.42 600.68,212.19 602.02,215.28 603.36,217.76 604.70,218.98 606.04,219.51 607.37,219.62 608.71,219.31 610.05,218.86 611.39,218.46 612.73,218.84 614.07,219.18 615.41,219.39 616.75,218.90 618.08,218.31 619.42,217.56 620.76,217.62 622.10,217.92 623.44,218.54 624.78,218.85 626.12,218.60 627.45,218.06 628.79,217.34 630.13,216.89 631.47,216.59 632.81,216.80 634.15,216.79 635.49,216.53 636.82,215.89 638.16,215.27 639.50,215.60 640.84,215.93 642.18,216.25 643.52,215.75 644.86,214.86 646.20,213.60 647.53,213.53 648.87,213.99 650.21,214.62 651.55,214.92 652.89,214.25 654.23,213.71 655.57,213.25 656.90,213.66 658.24,214.20 659.58,214.91 660.92,215.80 662.26,216.89 663.60,217.52 664.94,217.99 666.27,217.67 667.61,218.42 668.95,219.70 670.29,221.17 671.63,222.50 672.97,223.77" fill="none" stroke="#1f77b4" stroke-opacity="0.3" stroke-width="1" stroke-linejoin="round"/>
<polyline points="512.33,227.33 513.67,229.46 515.01,230.72 516.35,231.37 517.69,231.66 519.02,231.98 520.36,232.34 521.70,232.86 523.04,232.91 524.38,232.22 525.72,230.78 527.06,229.01 528.40,227.84 529.73,227.45 531.07,227.00 532.41,226.28 533.75,225.02 535.09,222.93 536.43,220.60 537.77,218.86 539.10,218.28 540.44,218.43 541.78,218.87 543.12,219.21 544.46,219.52 545.80,220.02 547.14,220.71 548.48,221.99 549.81,223.55 551.15,225.54 552.49,226.13 553.83,225.71 555.17,224.78 556.51,223.33 557.85,221.79 559.18,220.06 560.52,218.64 561.86,217.58 563.20,217.13 564.54,216.74 565.88,215.68 567.22,214.54 568.55,213.25 569.89,212.58 571.23,212.23 572.57,211.76 573.91,211.19 575.25,210.30 576.59,209.52 577.92,208.84 579.26,208.49 580.60,208.21 581.94,208.06 583.28,207.70 584.62,207.17 585.96,206.10 587.30,205.07 588.63,204.15 589.97,204.77 591.31,205.35 592.65,205.91 593.99,206.19 595.33,206.52 596.67,206.92 598.00,207.71 599.34,208.76 600.68,211.52 602.02,214.61 603.36,217.10 604.70,218.32 606.04,218.85 607.37,218.96 608.71,218.64 610.05,218.19 611.39,217.78 612.73,218.16 614.07,218.49 615.41,218.69 616.75,218.20 618.08,217.60 619.42,216.84 620.76,216.90 622.10,217.19 623.44,217.81 624.78,218.11 626.12,217.85 627.45,217.30 628.79,216.57 630.13,216.11 631.47,215.81 632.81,216.01 634.15,215.99 635.49,215.72 636.82,215.08 638.16,214.45 639.50,214.76 640.84,215.08 642.18,215.40 643.52,214.89 644.86,213.99 646.20,212.72 647.53,212.65 648.87,213.11 650.21,213.74 651.55,214.04 652.89,213.37 654.23,212.82 655.57,212.38 656.90,212.79 658.24,213.36 659.58,214.09 660.92,215.01 662.26,216.14 663.60,216.83 664.94,217.35 666.27,217.09 667.61,217.90 668.95,219.24 670.29,220.77 671.63,222.15 672.97,223.46" fill="none" stroke="#7f7f7f" stroke-opacity="0.3" stroke-width="1" stroke-linejoin="round"/>
<polyline points="512.33,227.29 513.67,229.41 515.01,230.66 516.35,231.30 517.69,231.57 519.02,231.88 520.36,232.23 521.70,232.73 523.04,232.77 524.38,232.07 525.72,230.61 527.06,228.83 528.40,227.65 529.73,227.24 531.07,226.78 532.41,226.04 533.75,224.77 535.09,222.65 536.43,220.31 537.77,218.56 539.10,217.96 540.44,218.10 541.78,218.52 543.12,218.84 544.46,219.13 545.80,219.62 547.14,220.29 548.48,221.56 549.81,223.10 551.15,225.07 552.49,225.65 553.83,225.21 555.17,224.27 556.51,222.80 557.85,221.25 559.18,219.51 560.52,218.08 561.86,217.00 563.20,216.55 564.54,216.16 565.88,215.10 567.22,213.95 568.55,212.66 569.89,211.99 571.23,211.63 572.57,211.16 573.91,210.59 575.25,209.70 576.59,208.91 577.92,208.23 579.26,207.87 580.60,207.59 581.94,207.44 583.28,207.07 584.62,206.53 585.96,205.46 587.30,204.42 588.63,203.50 589.97,204.11 591.31,204.69 592.65,205.25 593.99,205.54 595.33,205.86 596.67,206.26 598.00,207.05 599.34,208.10 600.68,210.86 602.02,213.95 603.36,216.44 604.70,217.66 606.04,218.18 607.37,218.29 608.71,217.97 610.05,217.52 611.39,217.11 612.73,217.47 614.07,217.80 615.41,217.99 616.75,217.50 618.08,216.88 619.42,216.12 620.76,216.17 622.10,216.46 623.44,217.07 624.78,217.37 626.12,217.10 627.45,216.54 628.79,215.80 630.13,215.34 631.47,215.02 632.81,215.22 634.15,215.19 635.49,214.91 636.82,214.26 638.16,213.62 639.50,213.93 640.84,214.23 642.18,214.55 643.52,214.02 644.86,213.12 646.20,211.85 647.53,211.78 648.87,212.23 650.21,212.86 651.55,213.15 652.89,212.48 654.23,211.94 655.57,211.50 656.90,211.92 658.24,212.51 659.58,213.27 660.92,214.23 662.26,215.40 663.60,216.13 664.94,216.71 666.27,216.51 667.61,217.38 668.95,218.78 670.29,220.36 671.63,221.79 672.97,223.15" fill="none" stroke="#9467bd" stroke-opacity="0.3" stroke-width="1" stroke-linejoin="round"/>
<polyline points="512.33,227.25 513.67,229.36 515.01,230.60 516.35,231.23 517.69,231.49 519.02,231.79 520.36,232.12 521.70,232.61 523.04,232.63 524.38,231.92 525.72,230.45 527.06,228.65 528.40,227.45 529.73,227.03 531.07,226.55 532.41,225.80 533.75,224.51 535.09,222.38 536.43,220.02 537.77,218.25 539.10,217.64 540.44,217.76 541.78,218.16 543.12,218.47 544.46,218.74 545.80,219.22 547.14,219.88 548.48,221.12 549.81,222.65 551.15,224.61 552.49,225.17 553.83,224.72 555.17,223.75 556.51,222.27 557.85,220.70 559.18,218.95 560.52,217.51 561.86,216.43 563.20,215.97 564.54,215.57 565.88,214.51 567.22,213.36 568.55,212.06 569.89,211.39 571.23,211.03 572.57,210.56 573.91,209.98 575.25,209.09 576.59,208.31 577.92,207.62 579.26,207.25 580.60,206.97 581.94,206.81 583.28,206.44 584.62,205.90 585.96,204.82 587.30,203.78 588.63,202.85 589.97,203.46 591.31,204.04 592.65,204.60 593.99,204.88 595.33,205.20 596.67,205.60 598.00,206.39 599.34,207.44 600.68,210.20 602.02,213.29 603.36,215.78 604.70,217.00 606.04,217.52 607.37,217.62 608.71,217.30 610.05,216.84 611.39,216.43 612.73,216.79 614.07,217.11 615.41,217.30 616.75,216.79 618.08,216.17 619.42,215.41 620.76,215.45 622.10,215.73 623.44,216.33 624.78,216.62 626.12,216.35 627.45,215.78 628.79,215.04 630.13,214.56 631.47,214.24 632.81,214.43 634.15,214.39 635.49,214.10 636.82,213.44 638.16,212.79 639.50,213.09 640.84,213.39 642.18,213.69 643.52,213.16 644.86,212.25 646.20,210.98 647.53,210.90 648.87,211.35 650.21,211.98 651.55,212.27 652.89,211.60 654.23,211.06 655.57,210.62 656.90,211.06 658.24,211.66 659.58,212.45 660.92,213.44 662.26,214.66 663.60,215.44 664.94,216.07 666.27,215.93 667.61,216.86 668.95,218.32 670.29,219.95 671.63,221.43 672.97,222.84" fill="none" stroke="#ff7f0e" stroke-opacity="0.3" stroke-width="1" stroke-linejoin="round"/>
<polyline points="512.33,227.21 513.67,229.31 515.01,230.54 516.35,231.16 517.69,231.41 519.02,231.69 520.36,232.01 521.70,232.48 523.04,232.49 524.38,231.77 525.72,230.28 527.06,228.47 528.40,227.26 529.73,226.82 531.07,226.32 532.41,225.56 533.75,224.25 535.09,222.11 536.43,219.73 537.77,217.95 539.10,217.31 540.44,217.42 541.78,217.81 543.12,218.10 544.46,218.36 545.80,218.82 547.14,219.46 548.48,220.69 549.81,222.20 551.15,224.14 552.49,224.68 553.83,224.22 555.17,223.24 556.51,221.74 557.85,220.16 559.18,218.40 560.52,216.95 561.86,215.86 563.20,215.39 564.54,214.99 565.88,213.92 567.22,212.77 568.55,211.47 569.89,210.80 571.23,210.43 572.57,209.96 573.91,209.38 575.25,208.49 576.59,207.70 577.92,207.00 579.26,206.64 580.60,206.34 581.94,206.19 583.28,205.81 584.62,205.26 585.96,204.18 587.30,203.14 588.63,202.20 589.97,202.81 591.31,203.38 592.65,203.94 593.99,204.22 595.33,204.54 596.67,204.94 598.00,205.73 599.34,206.77 600.68,209.54 602.02,212.63 603.36,215.12 604.70,216.33 606.04,216.86 607.37,216.96 608.71,216.63 610.05,216.17 611.39,215.75 612.73,216.11 614.07,216.42 615.41,216.60 616.75,216.09 618.08,215.46 619.42,214.69 620.76,214.72 622.10,215.00 623.44,215.59 624.78,215.88 626.12,215.60 627.45,215.02 628.79,214.27 630.13,213.79 631.47,213.46 632.81,213.64 634.15,213.59 635.49,213.29 636.82,212.62 638.16,211.96 639.50,212.25 640.84,212.54 642.18,212.84 643.52,212.30 644.86,211.39 646.20,210.11 647.53,210.02 648.87,210.47 650.21,211.09 651.55,211.39 652.89,210.72 654.23,210.17 655.57,209.74 656.90,210.19 658.24,210.82 659.58,211.63 660.92,212.66 662.26,213.91 663.60,214.74 664.94,215.43 666.27,215.35 667.61,216.34 668.95,217.86 670.29,219.55 671.63,221.08 672.97,222.53" fill="none" stroke="#bcbd22" stroke-opacity="0.3" stroke-width="1" stroke-linejoin="round"/>
<polyline points="512.33,227.17 513.67,229.27 515.01,230.48 516.35,231.09 517.69,231.33 519.02,231.59 520.36,231.90 521.70,232.36 523.04,232.35 524.38,231.62 525.72,230.11 527.06,228.29 528.40,227.06 529.73,226.61 531.07,226.10 532.41,225.32 533.75,223.99 535.09,221.83 536.43,219.44 537.77,217.64 539.10,216.99 540.44,217.08 541.78,217.45 543.12,217.73 544.46,217.97 545.80,218.41 547.14,219.04 548.48,220.26 549.81,221.75 551.15,223.67 552.49,224.20 553.83,223.72 555.17,222.72 556.51,221.21 557.85,219.62 559.18,217.84 560.52,216.38 561.86,215.29 563.20,214.81 564.54,214.40 565.88,213.33 567.22,212.18 568.55,210.88 569.89,210.20 571.23,209.84 572.57,209.36 573.91,208.78 575.25,207.88 576.59,207.09 577.92,206.39 579.26,206.02 580.60,205.72 581.94,205.56 583.28,205.18 584.62,204.63 585.96,203.55 587.30,202.49 588.63,201.56 589.97,202.16 591.31,202.73 592.65,203.28 593.99,203.56 595.33,203.87 596.67,204.27 598.00,205.06 599.34,206.11 600.68,208.88 602.02,211.96 603.36,214.45 604.70,215.67 606.04,216.19 607.37,216.29 608.71,215.96 610.05,215.50 611.39,215.07 612.73,215.42 614.07,215.73 615.41,215.90 616.75,215.39 618.08,214.75 619.42,213.97 620.76,214.00 622.10,214.27 623.44,214.85 624.78,215.13 626.12,214.84 627.45,214.26 628.79,213.50 630.13,213.01 631.47,212.67 632.81,212.84 634.15,212.79 635.49,212.49 636.82,211.80 638.16,211.14 639.50,211.42 640.84,211.70 642.18,211.98 643.52,211.44 644.86,210.52 646.20,209.23 647.53,209.15 648.87,209.59 650.21,210.21 651.55,210.50 652.89,209.83 654.23,209.29 655.57,208.86 656.90,209.33 658.24,209.97 659.58,210.81 660.92,211.87 662.26,213.17 663.60,214.04 664.94,214.79 666.27,214.77 667.61,215.83 668.95,217.40 670.29,219.14 671.63,220.72 672.97,222.22" fill="none" stroke="#8c564b" stroke-opacity="0.3" stroke-width="1" stroke-linejoin="round"/>
<polyline points="512.33,227.13 513.67,229.22 515.01,230.42 516.35,231.02 517.69,231.24 519.02,231.50 520.36,231.79 521.70,232.24 523.04,232.22 524.38,231.47 525.72,229.95 527.06,228.11 528.40,226.86 529.73,226.40 531.07,225.87 532.41,225.08 533.75,223.74 535.09,221.56 536.43,219.15 537.77,217.34 539.10,216.67 540.44,216.74 541.78,217.10 543.12,217.36 544.46,217.58 545.80,218.01 547.14,218.62 548.48,219.82 549.81,221.30 551.15,223.21 552.49,223.72 553.83,223.22 555.17,222.21 556.51,220.68 557.85,219.07 559.18,217.29 560.52,215.82 561.86,214.71 563.20,214.23 564.54,213.82 565.88,212.74 567.22,211.58 568.55,210.28 569.89,209.61 571.23,209.24 572.57,208.76 573.91,208.17 575.25,207.27 576.59,206.48 577.92,205.78 579.26,205.40 580.60,205.10 581.94,204.94 583.28,204.55 584.62,203.99 585.96,202.91 587.30,201.85 588.63,200.91 589.97,201.51 591.31,202.08 592.65,202.62 593.99,202.90 595.33,203.21 596.67,203.61 598.00,204.40 599.34,205.45 600.68,208.21 602.02,211.30 603.36,213.79 604.70,215.01 606.04,215.53 607.37,215.63 608.71,215.29 610.05,214.82 611.39,214.39 612.73,214.74 614.07,215.04 615.41,215.21 616.75,214.68 618.08,214.04 619.42,213.25 620.76,213.28 622.10,213.53 623.44,214.12 624.78,214.39 626.12,214.09 627.45,213.50 628.79,212.74 630.13,212.24 631.47,211.89 632.81,212.05 634.15,211.99 635.49,211.68 636.82,210.98 638.16,210.31 639.50,210.58 640.84,210.85 642.18,211.13 643.52,210.58 644.86,209.65 646.20,208.36 647.53,208.27 648.87,208.71 650.21,209.33 651.55,209.62 652.89,208.95 654.23,208.41 655.57,207.99 656.90,208.46 658.24,209.13 659.58,209.99 660.92,211.09 662.26,212.42 663.60,213.35 664.94,214.15 666.27,214.19 667.61,215.31 668.95,216.94 670.29,218.73 671.63,220.36 672.97,221.91" fill="none" stroke="#2ca02c" stroke-opacity="0.3" stroke-width="1" stroke-linejoin="round"/>
<polyline points="512.33,227.09 513.67,229.17 515.01,230.37 516.35,230.95 517.69,231.16 519.02,231.40 520.36,231.68 521.70,232.11 523.04,232.08 524.38,231.31 525.72,229.78 527.06,227.93 528.40,226.67 529.73,226.19 531.07,225.65 532.41,224.83 533.75,223.48 535.09,221.29 536.43,218.86 537.77,217.03 539.10,216.35 540.44,216.41 541.78,216.75 543.12,216.99 544.46,217.20 545.80,217.61 547.14,218.20 548.48,219.39 549.81,220.85 551.15,222.74 552.49,223.23 553.83,222.72 555.17,221.69 556.51,220.15 557.85,218.53 559.18,216.73 560.52,215.25 561.86,214.14 563.20,213.65 564.54,213.23 565.88,212.15 567.22,210.99 568.55,209.69 569.89,209.01 571.23,208.64 572.57,208.16 573.91,207.57 575.25,206.67 576.59,205.87 577.92,205.16 579.26,204.79 580.60,204.48 581.94,204.31 583.28,203.92 584.62,203.36 585.96,202.27 587.30,201.21 588.63,200.26 589.97,200.86 591.31,201.42 592.65,201.97 593.99,202.24 595.33,202.55 596.67,202.95 598.00,203.74 599.34,204.79 600.68,207.55 602.02,210.64 603.36,213.13 604.70,214.35 606.04,214.86 607.37,214.96 608.71,214.62 610.05,214.15 611.39,213.72 612.73,214.06 614.07,214.35 615.41,214.51 616.75,213.98 618.08,213.33 619.42,212.54 620.76,212.55 622.10,212.80 623.44,213.38 624.78,213.64 626.12,213.34 627.45,212.74 628.79,211.97 630.13,211.46 631.47,211.11 632.81,211.26 634.15,211.19 635.49,210.87 636.82,210.17 638.16,209.48 639.50,209.74 640.84,210.00 642.18,210.27 643.52,209.71 644.86,208.78 646.20,207.49 647.53,207.39 648.87,207.83 650.21,208.45 651.55,208.74 652.89,208.07 654.23,207.53 655.57,207.11 656.90,207.60 658.24,208.28 659.58,209.17 660.92,210.30 662.26,211.68 663.60,212.65 664.94,213.51 666.27,213.61 667.61,214.79 668.95,216.47 670.29,218.33 671.63,220.01 672.97,221.60" fill="none" stroke="#17becf" stroke-opacity="0.3" stroke-width="1" stroke-linejoin="round"/>
<polyline points="512.33,227.05 513.67,229.12 515.01,230.31 516.35,230.88 517.69,231.08 519.02,231.30 520.36,231.57 521.70,231.99 523.04,231.94 524.38,231.16 525.72,229.61 527.06,227.75 528.40,226.47 529.73,225.98 531.07,225.42 532.41,224.59 533.75,223.22 535.09,221.01 536.43,218.57 537.77,216.72 539.10,216.03 540.44,216.07 541.78,216.39 543.12,216.62 544.46,216.81 545.80,217.21 547.14,217.78 548.48,218.95 549.81,220.40 551.15,222.27 552.49,222.75 553.83,222.22 555.17,221.18 556.51,219.62 557.85,217.99 559.18,216.18 560.52,214.69 561.86,213.57 563.20,213.07 564.54,212.65 565.88,211.56 567.22,210.40 568.55,209.10 569.89,208.42 571.23,208.04 572.57,207.56 573.91,206.97 575.25,206.06 576.59,205.26 577.92,204.55 579.26,204.17 580.60,203.86 581.94,203.69 583.28,203.29 584.62,202.72 585.96,201.63 587.30,200.56 588.63,199.61 589.97,200.20 591.31,200.77 592.65,201.31 593.99,201.58 595.33,201.89 596.67,202.29 598.00,203.08 599.34,204.13 600.68,206.89 602.02,209.98 603.36,212.47 604.70,213.68 606.04,214.20 607.37,214.29 608.71,213.95 610.05,213.48 611.39,213.04 612.73,213.37 614.07,213.66 615.41,213.81 616.75,213.28 618.08,212.62 619.42,211.82 620.76,211.83 622.10,212.07 623.44,212.64 624.78,212.90 626.12,212.59 627.45,211.98 628.79,211.20 630.13,210.69 631.47,210.33 632.81,210.47 634.15,210.39 635.49,210.06 636.82,209.35 638.16,208.65 639.50,208.91 640.84,209.16 642.18,209.42 643.52,208.85 644.86,207.91 646.20,206.61 647.53,206.51 648.87,206.95 650.21,207.57 651.55,207.86 652.89,207.19 654.23,206.64 655.57,206.23 656.90,206.73 658.24,207.44 659.58,208.36 660.92,209.52 662.26,210.94 663.60,211.96 664.94,212.87 666.27,213.03 667.61,214.27 668.95,216.01 670.29,217.92 671.63,219.65 672.97,221.29" fill="none" stroke="#e377c2" stroke-opacity="0.3" stroke-width="1" stroke-linejoin="round"/>
<polyline points="512.33,227.01 513.67,229.07 515.01,230.25 516.35,230.81 517.69,230.99 519.02,231.21 520.36,231.46 521.70,231.86 523.04,231.80 524.38,231.01 525.72,229.45 527.06,227.56 528.40,226.28 529.73,225.77 531.07,225.19 532.41,224.35 533.75,222.96 535.09,220.74 536.43,218.28 537.77,216.42 539.10,215.70 540.44,215.73 541.78,216.04 543.12,216.25 544.46,216.43 545.80,216.80 547.14,217.36 548.48,218.52 549.81,219.95 551.15,221.81 552.49,222.27 553.83,221.72 555.17,220.66 556.51,219.09 557.85,217.44 559.18,215.62 560.52,214.12 561.86,212.99 563.20,212.49 564.54,212.06 565.88,210.98 567.22,209.81 568.55,208.51 569.89,207.82 571.23,207.44 572.57,206.96 573.91,206.36 575.25,205.46 576.59,204.65 577.92,203.94 579.26,203.55 580.60,203.24 581.94,203.06 583.28,202.66 584.62,202.09 585.96,200.99 587.30,199.92 588.63,198.97 589.97,199.55 591.31,200.11 592.65,200.65 593.99,200.92 595.33,201.23 596.67,201.63 598.00,202.42 599.34,203.46 600.68,206.23 602.02,209.32 603.36,211.81 604.70,213.02 606.04,213.54 607.37,213.63 608.71,213.28 610.05,212.80 611.39,212.36 612.73,212.69 614.07,212.97 615.41,213.12 616.75,212.57 618.08,211.91 619.42,211.10 620.76,211.10 622.10,211.34 623.44,211.90 624.78,212.15 626.12,211.84 627.45,211.22 628.79,210.44 630.13,209.91 631.47,209.54 632.81,209.68 634.15,209.59 635.49,209.25 636.82,208.53 638.16,207.83 639.50,208.07 640.84,208.31 642.18,208.56 643.52,207.99 644.86,207.05 646.20,205.74 647.53,205.64 648.87,206.07 650.21,206.68 651.55,206.97 652.89,206.30 654.23,205.76 655.57,205.35 656.90,205.87 658.24,206.59 659.58,207.54 660.92,208.73 662.26,210.19 663.60,211.26 664.94,212.23 666.27,212.45 667.61,213.75 668.95,215.55 670.29,217.51 671.63,219.29 672.97,220.98" fill="none" stroke="#d62728" stroke-opacity="0.3" stroke-width="1" stroke-linejoin="round"/>
<polyline points="512.33,226.97 513.67,229.03 515.01,230.19 516.35,230.74 517.69,230.91 519.02,231.11 520.36,231.35 521.70,231.74 523.04,231.66 524.38,230.86 525.72,229.28 527.06,227.38 528.40,226.08 529.73,225.56 531.07,224.97 532.41,224.11 533.75,222.71 535.09,220.47 536.43,217.99 537.77,216.11 539.10,215.38 540.44,215.39 541.78,215.68 543.12,215.88 544.46,216.04 545.80,216.40 547.14,216.95 548.48,218.08 549.81,219.49 551.15,221.34 552.49,221.79 553.83,221.22 555.17,220.15 556.51,218.57 557.85,216.90 559.18,215.07 560.52,213.56 561.86,212.42 563.20,211.91 564.54,211.48 565.88,210.39 567.22,209.22 568.55,207.91 569.89,207.22 571.23,206.85 572.57,206.36 573.91,205.76 575.25,204.85 576.59,204.04 577.92,203.33 579.26,202.94 580.60,202.62 581.94,202.44 583.28,202.03 584.62,201.45 585.96,200.35 587.30,199.27 588.63,198.32 589.97,198.90 591.31,199.46 592.65,200.00 593.99,200.26 595.33,200.57 596.67,200.97 598.00,201.75 599.34,202.80 600.68,205.57 602.02,208.65 603.36,211.14 604.70,212.36 606.04,212.87 607.37,212.96 608.71,212.61 610.05,212.13 611.39,211.68 612.73,212.01 614.07,212.28 615.41,212.42 616.75,211.87 618.08,211.20 619.42,210.39 620.76,210.38 622.10,210.61 623.44,211.16 624.78,211.41 626.12,211.09 627.45,210.46 628.79,209.67 630.13,209.14 631.47,208.76 632.81,208.89 634.15,208.78 635.49,208.44 636.82,207.71 638.16,207.00 639.50,207.23 640.84,207.47 642.18,207.71 643.52,207.13 644.86,206.18 646.20,204.87 647.53,204.76 648.87,205.19 650.21,205.80 651.55,206.09 652.89,205.42 654.23,204.88 655.57,204.48 656.90,205.00 658.24,205.74 659.58,206.72 660.92,207.95 662.26,209.45 663.60,210.57 664.94,211.59 666.27,211.87 667.61,213.23 668.95,215.09 670.29,217.11 671.63,218.94 672.97,220.67" fill="none" stroke="#1f77b4" stroke-opacity="0.3" stroke-width="1" stroke-linejoin="round"/>
<polyline points="512.33,226.94 513.67,228.98 515.01,230.13 516.35,230.67 517.69,230.83 519.02,231.01 520.36,231.24 521.70,231.61 523.04,231.53 524.38,230.71 525.72,229.12 527.06,227.20 528.40,225.89 529.73,225.35 531.07,224.74 532.41,223.87 533.75,222.45 535.09,220.19 536.43,217.70 537.77,215.81 539.10,215.06 540.44,215.05 541.78,215.33 543.12,215.51 544.46,215.65 545.80,216.00 547.14,216.53 548.48,217.65 549.81,219.04 551.15,220.87 552.49,221.30 553.83,220.72 555.17,219.63 556.51,218.04 557.85,216.36 559.18,214.51 560.52,212.99 561.86,211.85 563.20,211.33 564.54,210.89 565.88,209.80 567.22,208.63 568.55,207.32 569.89,206.63 571.23,206.25 572.57,205.76 573.91,205.16 575.25,204.24 576.59,203.43 577.92,202.71 579.26,202.32 580.60,202.00 581.94,201.81 583.28,201.40 584.62,200.82 585.96,199.71 587.30,198.63 588.63,197.67 589.97,198.25 591.31,198.80 592.65,199.34 593.99,199.60 595.33,199.91 596.67,200.30 598.00,201.09 599.34,202.14 600.68,204.90 602.02,207.99 603.36,210.48 604.70,211.70 606.04,212.21 607.37,212.29 608.71,211.95 610.05,211.46 611.39,211.01 612.73,211.32 614.07,211.59 615.41,211.72 616.75,211.17 618.08,210.49 619.42,209.67 620.76,209.65 622.10,209.88 623.44,210.43 624.78,210.66 626.12,210.33 627.45,209.70 628.79,208.90 630.13,208.37 631.47,207.98 632.81,208.10 634.15,207.98 635.49,207.63 636.82,206.89 638.16,206.17 639.50,206.40 640.84,206.62 642.18,206.86 643.52,206.27 644.86,205.31 646.20,203.99 647.53,203.88 648.87,204.31 650.21,204.92 651.55,205.21 652.89,204.54 654.23,204.00 655.57,203.60 656.90,204.14 658.24,204.90 659.58,205.90 660.92,207.16 662.26,208.70 663.60,209.87 664.94,210.95 666.27,211.29 667.61,212.71 668.95,214.63 670.29,216.70 671.63,218.58 672.97,220.36" fill="none" stroke="#7f7f7f" stroke-opacity="0.3" stroke-width="1" stroke-linejoin="round"/>
<polyline points="512.33,226.90 513.67,228.93 515.01,230.07 516.35,230.60 517.69,230.75 519.02,230.92 520.36,231.13 521.70,231.49 523.04,231.39 524.38,230.55 525.72,228.95 527.06,227.02 528.40,225.69 529.73,225.14 531.07,224.52 532.41,223.63 533.75,222.19 535.09,219.92 536.43,217.41 537.77,215.50 539.10,214.74 540.44,214.72 541.78,214.98 543.12,215.14 544.46,215.27 545.80,215.60 547.14,216.11 548.48,217.21 549.81,218.59 551.15,220.41 552.49,220.82 553.83,220.23 555.17,219.12 556.51,217.51 557.85,215.81 559.18,213.96 560.52,212.43 561.86,211.27 563.20,210.75 564.54,210.31 565.88,209.21 567.22,208.04 568.55,206.73 569.89,206.03 571.23,205.65 572.57,205.16 573.91,204.56 575.25,203.64 576.59,202.82 577.92,202.10 579.26,201.70 580.60,201.38 581.94,201.19 583.28,200.77 584.62,200.19 585.96,199.07 587.30,197.99 588.63,197.02 589.97,197.60 591.31,198.15 592.65,198.68 593.99,198.94 595.33,199.25 596.67,199.64 598.00,200.43 599.34,201.48 600.68,204.24 602.02,207.33 603.36,209.82 604.70,211.03 606.04,211.54 607.37,211.63 608.71,211.28 610.05,210.79 611.39,210.33 612.73,210.64 614.07,210.90 615.41,211.03 616.75,210.46 618.08,209.78 619.42,208.95 620.76,208.93 622.10,209.15 623.44,209.69 624.78,209.92 626.12,209.58 627.45,208.94 628.79,208.14 630.13,207.59 631.47,207.19 632.81,207.30 634.15,207.18 635.49,206.82 636.82,206.07 638.16,205.34 639.50,205.56 640.84,205.77 642.18,206.00 643.52,205.41 644.86,204.44 646.20,203.12 647.53,203.01 648.87,203.43 650.21,204.04 651.55,204.33 652.89,203.66 654.23,203.11 655.57,202.72 656.90,203.27 658.24,204.05 659.58,205.08 660.92,206.37 662.26,207.96 663.60,209.18 664.94,210.31 666.27,210.71 667.61,212.20 668.95,214.17 670.29,216.29 671.63,218.22 672.97,220.04" fill="none" stroke="#9467bd" stroke-opacity="0.3" stroke-width="1" stroke-linejoin="round"/>
<polyline points="512.33,226.90 513.67,228.93 515.01,230.07 516.35,230.60 517.69,230.75 519.02,230.92 520.36,231.13 521.70,231.49 523.04,231.39 524.38,230.55 525.72,228.95 527.06,227.02 528.40,225.69 529.73,225.14 531.07,224.52 532.41,223.63 533.75,222.19 535.09,219.92 536.43,217.41 537.77,215.50 539.10,214.74 540.44,214.72 541.78,214.98 543.12,215.14 544.46,215.27 545.80,215.60 547.14,216.11 548.48,217.21 549.81,218.59 551.15,220.41 552.49,220.82 553.83,220.23 555.17,219.12 556.51,217.51 557.85,215.81 559.18,213.96 560.52,212.43 561.86,211.27 563.20,210.75 564.54,210.31 565.88,209.21 567.22,208.04 568.55,206.73 569.89,206.03 571.23,205.65 572.57,205.16 573.91,204.56 575.25,203.64 576.59,202.82 577.92,202.10 579.26,201.70 580.60,201.38 581.94,201.19 583.28,200.77 584.62,200.19 585.96,199.07 587.30,197.99 588.63,197.02 589.97,197.60 591.31,198.15 592.65,198.68 593.99,198.94 595.33,199.25 596.67,199.64 598.00,200.43 599.34,201.48 600.68,204.24 602.02,207.33 603.36,209.82 604.70,211.03 606.04,211.54 607.37,211.63 608.71,211.28 610.05,210.79 611.39,210.33 612.73,210.64 614.07,210.90 615.41,211.03 616.75,210.46 618.08,209.78 619.42,208.95 620.76,208.93 622.10,209.15 623.44,209.69 624.78,209.92 626.12,209.58 627.45,208.94 628.79,208.14 630.13,207.59 631.47,207.19 632.81,207.30 634.15,207.18 635.49,206.82 636.82,206.07 638.16,205.34 639.50,205.56 640.84,205.77 642.18,206.00 643.52,205.41 644.86,204.44 646.20,203.12 647.53,203.01 648.87,203.43 650.21,204.04 651.55,204.33 652.89,203.66 654.23,203.11 655.57,202.72 656.90,203.27 658.24,204.05 659.58,205.08 660.92,206.37 662.26,207.96 663.60,209.18 664.94,210.31 666.27,210.71 667.61,212.20 668.95,214.17 670.29,216.29 671.63,218.22 672.97,220.04" fill="none" stroke="#9467bd" stroke-opacity="0.3" stroke-width="1" stroke-linejoin="round"/>
<polyline points="512.33,226.81 513.67,228.83 515.01,229.95 516.35,230.45 517.69,230.57 519.02,230.71 520.36,230.89 521.70,231.22 523.04,231.09 524.38,230.22 525.72,228.59 527.06,226.63 528.40,225.27 529.73,224.68 531.07,224.03 532.41,223.10 533.75,221.63 535.09,219.32 536.43,216.78 537.77,214.84 539.10,214.04 540.44,213.98 541.78,214.21 543.12,214.33 544.46,214.43 545.80,214.72 547.14,215.20 548.48,216.27 549.81,217.61 551.15,219.39 552.49,219.77 553.83,219.14 555.17,218.00 556.51,216.35 557.85,214.63 559.18,212.75 560.52,211.20 561.86,210.03 563.20,209.49 564.54,209.04 565.88,207.93 567.22,206.75 568.55,205.44 569.89,204.74 571.23,204.35 572.57,203.85 573.91,203.24 575.25,202.32 576.59,201.50 577.92,200.77 579.26,200.36 580.60,200.03 581.94,199.83 583.28,199.40 584.62,198.81 585.96,197.68 587.30,196.59 588.63,195.61 589.97,196.18 591.31,196.72 592.65,197.25 593.99,197.51 595.33,197.81 596.67,198.20 598.00,198.99 599.34,200.04 600.68,202.80 602.02,205.89 603.36,208.38 604.70,209.59 606.04,210.10 607.37,210.18 608.71,209.82 610.05,209.32 611.39,208.85 612.73,209.16 614.07,209.40 615.41,209.51 616.75,208.93 618.08,208.24 619.42,207.39 620.76,207.36 622.10,207.56 623.44,208.08 624.78,208.30 626.12,207.95 627.45,207.29 628.79,206.47 630.13,205.90 631.47,205.49 632.81,205.58 634.15,205.44 635.49,205.06 636.82,204.29 638.16,203.54 639.50,203.74 640.84,203.93 642.18,204.14 643.52,203.53 644.86,202.55 646.20,201.22 647.53,201.10 648.87,201.51 650.21,202.12 651.55,202.41 652.89,201.74 654.23,201.19 655.57,200.81 656.90,201.39 658.24,202.21 659.58,203.30 660.92,204.67 662.26,206.34 663.60,207.66 664.94,208.92 666.27,209.45 667.61,211.07 668.95,213.17 670.29,215.41 671.63,217.45 672.97,219.37" fill="none" stroke="#e377c2" stroke-opacity="0.3" stroke-width="1" stroke-linejoin="round"/>
<polyline points="512.33,226.74 513.67,228.74 515.01,229.84 516.35,230.32 517.69,230.42 519.02,230.53 520.36,230.69 521.70,231.00 523.04,230.84 524.38,229.95 525.72,228.29 527.06,226.30 528.40,224.91 529.73,224.30 531.07,223.62 532.41,222.66 533.75,221.17 535.09,218.83 536.43,216.26 537.77,214.28 539.10,213.46 540.44,213.37 541.78,213.56 543.12,213.66 544.46,213.73 545.80,213.99 547.14,214.44 548.48,215.48 549.81,216.80 551.15,218.55 552.49,218.90 553.83,218.24 555.17,217.07 556.51,215.39 557.85,213.65 559.18,211.75 560.52,210.18 561.86,208.99 563.20,208.44 564.54,207.98 565.88,206.86 567.22,205.68 568.55,204.36 569.89,203.66 571.23,203.27 572.57,202.76 573.91,202.15 575.25,201.22 576.59,200.39 577.92,199.66 579.26,199.24 580.60,198.90 581.94,198.69 583.28,198.26 584.62,197.66 585.96,196.52 587.30,195.42 588.63,194.44 589.97,195.00 591.31,195.54 592.65,196.06 593.99,196.31 595.33,196.61 596.67,197.00 598.00,197.79 599.34,198.84 600.68,201.60 602.02,204.69 603.36,207.18 604.70,208.39 606.04,208.90 607.37,208.97 608.71,208.61 610.05,208.10 611.39,207.62 612.73,207.92 614.07,208.15 615.41,208.25 616.75,207.66 618.08,206.95 619.42,206.09 620.76,206.04 622.10,206.23 623.44,206.75 624.78,206.95 626.12,206.58 627.45,205.92 628.79,205.08 630.13,204.50 631.47,204.07 632.81,204.15 634.15,203.99 635.49,203.59 636.82,202.81 638.16,202.04 639.50,202.22 640.84,202.40 642.18,202.59 643.52,201.97 644.86,200.98 646.20,199.64 647.53,199.51 648.87,199.92 650.21,200.52 651.55,200.81 652.89,200.14 654.23,199.59 655.57,199.22 656.90,199.82 658.24,200.68 659.58,201.81 660.92,203.24 662.26,204.99 663.60,206.40 664.94,207.76 666.27,208.40 667.61,210.13 668.95,212.33 670.29,214.67 671.63,216.80 672.97,218.81" fill="none" stroke="#1f77b4" stroke-opacity="0.3" stroke-width="1" stroke-linejoin="round"/>
<path d="M511.70,226.20 C511.90,226.60 512.45,227.87 512.90,228.60 C513.35,229.33 513.83,230.10 514.40,230.60 C514.97,231.10 515.65,231.35 516.30,231.60 C516.95,231.85 517.63,231.92 518.30,232.10 C518.97,232.28 519.65,232.47 520.30,232.70 C520.95,232.93 521.63,233.40 522.20,233.50 C522.77,233.60 523.20,233.53 523.70,233.30 C524.20,233.07 524.72,232.63 525.20,232.10 C525.68,231.57 526.12,230.68 526.60,230.10 C527.08,229.52 527.52,228.93 528.10,228.60 C528.68,228.27 529.45,228.28 530.10,228.10 C530.75,227.92 531.35,227.90 532.00,227.50 C532.65,227.10 533.42,226.42 534.00,225.70 C534.58,224.98 535.02,224.02 535.50,223.20 C535.98,222.38 536.42,221.45 536.90,220.80 C537.38,220.15 537.82,219.50 538.40,219.30 C538.98,219.10 539.75,219.43 540.40,219.60 C541.05,219.77 541.65,220.10 542.30,220.30 C542.95,220.50 543.65,220.58 544.30,220.80 C544.95,221.02 545.67,221.33 546.20,221.60 C546.73,221.87 546.93,221.87 547.50,222.40 C548.07,222.93 548.97,223.97 549.60,224.80 C550.23,225.63 550.73,226.87 551.30,227.40 C551.87,227.93 552.33,228.15 553.00,228.00 C553.67,227.85 554.53,227.17 555.30,226.50 C556.07,225.83 556.83,224.90 557.60,224.00 C558.37,223.10 559.15,221.87 559.90,221.10 C560.65,220.33 561.35,219.77 562.10,219.40 C562.85,219.03 563.63,219.28 564.40,218.90 C565.17,218.52 565.93,217.77 566.70,217.10 C567.47,216.43 568.23,215.37 569.00,214.90 C569.77,214.43 570.53,214.53 571.30,214.30 C572.07,214.07 572.83,213.88 573.60,213.50 C574.37,213.12 575.15,212.43 575.90,212.00 C576.65,211.57 577.35,211.17 578.10,210.90 C578.85,210.63 579.67,210.52 580.40,210.40 C581.13,210.28 581.80,210.37 582.50,210.20 C583.20,210.03 583.87,209.83 584.60,209.40 C585.33,208.97 586.23,208.10 586.90,207.60 C587.57,207.10 588.03,206.47 588.60,206.40 C589.17,206.33 589.63,206.90 590.30,207.20 C590.97,207.50 591.83,207.95 592.60,208.20 C593.37,208.45 594.13,208.50 594.90,208.70 C595.67,208.90 596.43,208.98 597.20,209.40 C597.97,209.82 598.83,210.27 599.50,211.20 C600.17,212.13 600.63,213.70 601.20,215.00 C601.77,216.30 602.23,217.98 602.90,219.00 C603.57,220.02 604.43,220.72 605.20,221.10 C605.97,221.48 606.80,221.35 607.50,221.30 C608.20,221.25 608.78,221.00 609.40,220.80 C610.02,220.60 610.62,220.13 611.20,220.10 C611.78,220.07 612.23,220.42 612.90,220.60 C613.57,220.78 614.43,221.23 615.20,221.20 C615.97,221.17 616.75,220.73 617.50,220.40 C618.25,220.07 618.95,219.32 619.70,219.20 C620.45,219.08 621.23,219.43 622.00,219.70 C622.77,219.97 623.53,220.68 624.30,220.80 C625.07,220.92 625.83,220.67 626.60,220.40 C627.37,220.13 628.13,219.52 628.90,219.20 C629.67,218.88 630.43,218.55 631.20,218.50 C631.97,218.45 632.73,218.90 633.50,218.90 C634.27,218.90 635.05,218.77 635.80,218.50 C636.55,218.23 637.25,217.40 638.00,217.30 C638.75,217.20 639.53,217.70 640.30,217.90 C641.07,218.10 641.83,218.65 642.60,218.50 C643.37,218.35 644.23,217.52 644.90,217.00 C645.57,216.48 645.93,215.53 646.60,215.40 C647.27,215.27 648.13,215.88 648.90,216.20 C649.67,216.52 650.45,217.30 651.20,217.30 C651.95,217.30 652.65,216.52 653.40,216.20 C654.15,215.88 654.93,215.40 655.70,215.40 C656.47,215.40 657.23,215.88 658.00,216.20 C658.77,216.52 659.53,216.83 660.30,217.30 C661.07,217.77 661.83,218.62 662.60,219.00 C663.37,219.38 664.23,219.60 664.90,219.60 C665.57,219.60 666.03,218.90 666.60,219.00 C667.17,219.10 667.63,219.62 668.30,220.20 C668.97,220.78 669.83,221.78 670.60,222.50 C671.37,223.22 672.13,223.90 672.90,224.50 C673.67,225.10 674.82,225.83 675.20,226.10" fill="none" stroke="#2e8b57" stroke-width="3.6" stroke-linejoin="round"/>
</g>
<line x1="501.70" y1="167.22" x2="504.30" y2="167.22" stroke="#000" stroke-width="0.8"/>
<text x="500.10" y="170.57" font-family='"Liberation Sans", sans-serif' font-size="9.3" text-anchor="end" font-weight="normal" font-style="normal" fill="#000" >1.5</text>
<line x1="501.70" y1="186.55" x2="504.30" y2="186.55" stroke="#000" stroke-width="0.8"/>
<text x="500.10" y="189.90" font-family='"Liberation Sans", sans-serif' font-size="9.3" text-anchor="end" font-weight="normal" font-style="normal" fill="#000" >1.0</text>
<line x1="501.70" y1="205.88" x2="504.30" y2="205.88" stroke="#000" stroke-width="0.8"/>
<text x="500.10" y="209.22" font-family='"Liberation Sans", sans-serif' font-size="9.3" text-anchor="end" font-weight="normal" font-style="normal" fill="#000" >0.5</text>
<line x1="501.70" y1="225.20" x2="504.30" y2="225.20" stroke="#000" stroke-width="0.8"/>
<text x="500.10" y="228.55" font-family='"Liberation Sans", sans-serif' font-size="9.3" text-anchor="end" font-weight="normal" font-style="normal" fill="#000" >0.0</text>
<line x1="501.70" y1="244.52" x2="504.30" y2="244.52" stroke="#000" stroke-width="0.8"/>
<text x="500.10" y="247.87" font-family='"Liberation Sans", sans-serif' font-size="9.3" text-anchor="end" font-weight="normal" font-style="normal" fill="#000" >−0.5</text>
<line x1="501.70" y1="263.85" x2="504.30" y2="263.85" stroke="#000" stroke-width="0.8"/>
<text x="500.10" y="267.20" font-family='"Liberation Sans", sans-serif' font-size="9.3" text-anchor="end" font-weight="normal" font-style="normal" fill="#000" >−1.0</text>
<line x1="501.70" y1="283.17" x2="504.30" y2="283.17" stroke="#000" stroke-width="0.8"/>
<text x="500.10" y="286.52" font-family='"Liberation Sans", sans-serif' font-size="9.3" text-anchor="end" font-weight="normal" font-style="normal" fill="#000" >−1.5</text>
<line x1="512.33" y1="282.80" x2="512.33" y2="285.40" stroke="#000" stroke-width="0.8"/>
<text x="512.33" y="292.60" font-family='"Liberation Sans", sans-serif' font-size="9.3" text-anchor="middle" font-weight="normal" font-style="normal" fill="#000" >22.0</text>
<line x1="539.10" y1="282.80" x2="539.10" y2="285.40" stroke="#000" stroke-width="0.8"/>
<text x="539.10" y="292.60" font-family='"Liberation Sans", sans-serif' font-size="9.3" text-anchor="middle" font-weight="normal" font-style="normal" fill="#000" >22.5</text>
<line x1="565.88" y1="282.80" x2="565.88" y2="285.40" stroke="#000" stroke-width="0.8"/>
<text x="565.88" y="292.60" font-family='"Liberation Sans", sans-serif' font-size="9.3" text-anchor="middle" font-weight="normal" font-style="normal" fill="#000" >23.0</text>
<line x1="592.65" y1="282.80" x2="592.65" y2="285.40" stroke="#000" stroke-width="0.8"/>
<text x="592.65" y="292.60" font-family='"Liberation Sans", sans-serif' font-size="9.3" text-anchor="middle" font-weight="normal" font-style="normal" fill="#000" >23.5</text>
<line x1="619.42" y1="282.80" x2="619.42" y2="285.40" stroke="#000" stroke-width="0.8"/>
<text x="619.42" y="292.60" font-family='"Liberation Sans", sans-serif' font-size="9.3" text-anchor="middle" font-weight="normal" font-style="normal" fill="#000" >24.0</text>
<line x1="646.20" y1="282.80" x2="646.20" y2="285.40" stroke="#000" stroke-width="0.8"/>
<text x="646.20" y="292.60" font-family='"Liberation Sans", sans-serif' font-size="9.3" text-anchor="middle" font-weight="normal" font-style="normal" fill="#000" >24.5</text>
<line x1="672.97" y1="282.80" x2="672.97" y2="285.40" stroke="#000" stroke-width="0.8"/>
<text x="672.97" y="292.60" font-family='"Liberation Sans", sans-serif' font-size="9.3" text-anchor="middle" font-weight="normal" font-style="normal" fill="#000" >25.0</text>
<rect x="504.30" y="167.30" width="176.70" height="115.50" fill="none" stroke="#000" stroke-width="1.1"/>
<text x="594.00" y="305.90" font-family='"Liberation Sans", sans-serif' font-size="11.3" text-anchor="middle" font-weight="normal" font-style="normal" fill="#000" >Time</text>
<g transform="translate(479.7,229.6) rotate(-90)"><text x="0" y="0" font-family='"Liberation Sans", sans-serif' font-size="11.3" text-anchor="middle" fill="#000">Absolute error</text></g>
<rect x="507.9" y="171.9" width="65.3" height="13.2" rx="1.8" fill="#fff" fill-opacity="0.85" stroke="#d8d8d8" stroke-width="0.9"/>
<line x1="509.8" y1="178.0" x2="528.8" y2="178.0" stroke="#2e8b57" stroke-width="3.6"/>
<text x="533.40" y="181.20" font-family='"Liberation Sans", sans-serif' font-size="8.9" text-anchor="start" font-weight="normal" font-style="normal" fill="#000" >Predicted</text></svg>
</body></html>
